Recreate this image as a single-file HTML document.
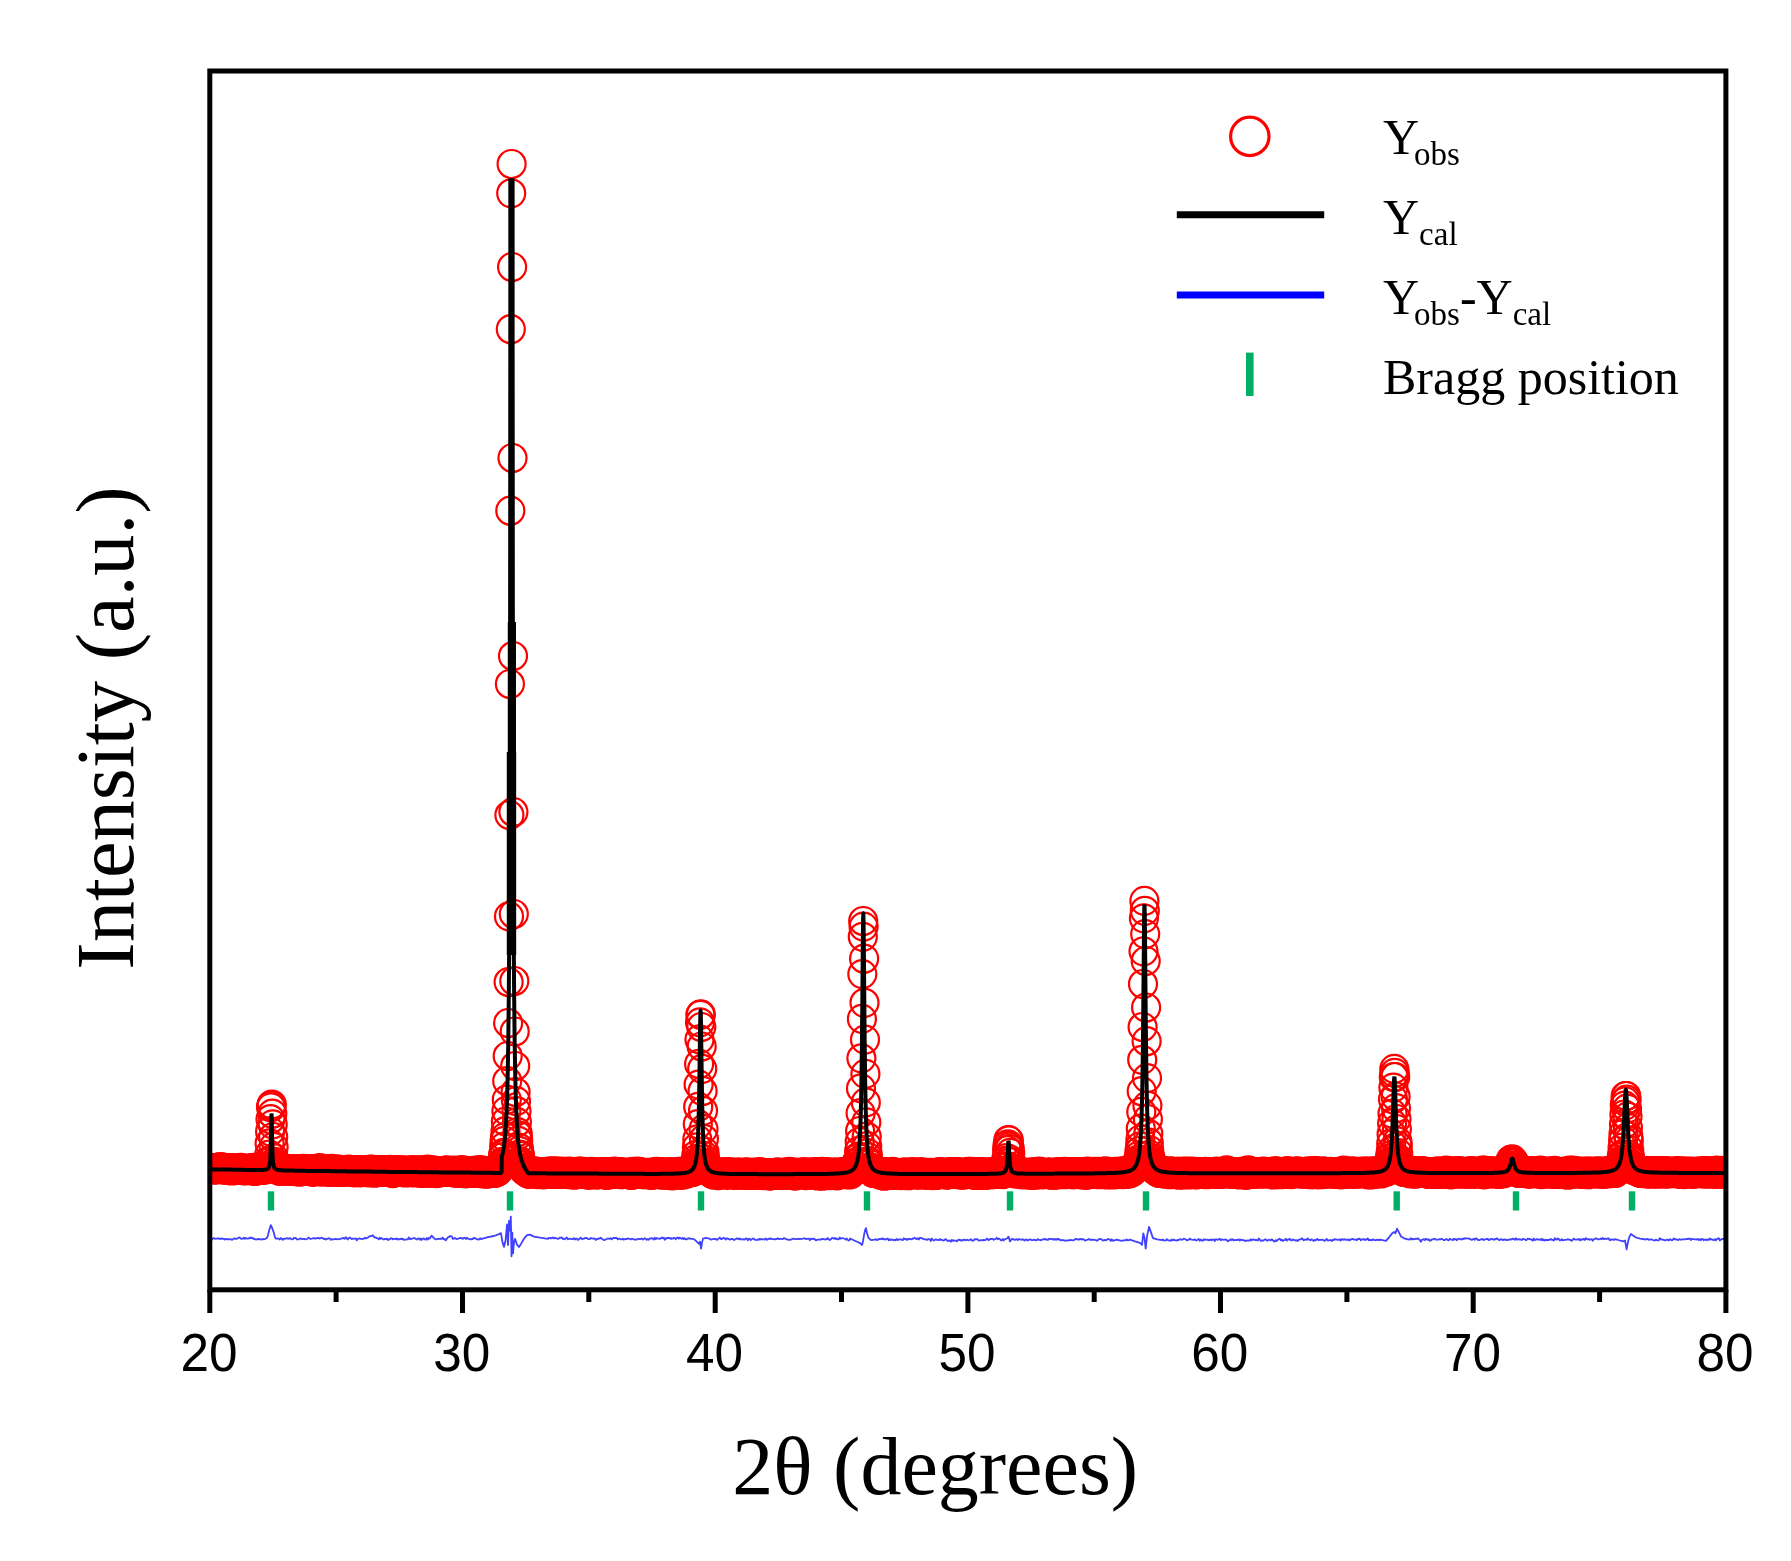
<!DOCTYPE html>
<html lang="en"><head><meta charset="utf-8"><title>XRD Rietveld refinement</title>
<style>
html,body{margin:0;padding:0;background:#fff;}
body{width:1791px;height:1561px;overflow:hidden;}
svg{display:block;filter:blur(0.55px);}
.sans{font-family:"Liberation Sans",Arial,sans-serif;}
.serif{font-family:"Liberation Serif","Times New Roman",serif;}
</style></head><body>
<svg width="1791" height="1561" viewBox="0 0 1791 1561">
<defs>
<marker id="o" markerUnits="userSpaceOnUse" markerWidth="34" markerHeight="34" refX="17" refY="17" overflow="visible"><circle cx="17" cy="17" r="14" fill="none" stroke="#ff0000" stroke-width="2.2"/></marker>
<clipPath id="cp"><rect x="209.8" y="71" width="1516.1000000000001" height="1218.8"/></clipPath>
</defs>
<rect width="1791" height="1561" fill="#fff"/>
<g clip-path="url(#cp)">
<polyline fill="none" stroke="none" marker-start="url(#o)" marker-mid="url(#o)" marker-end="url(#o)" points="209.8,1168.7 210.2,1168.9 210.7,1168.5 211.1,1168.1 211.6,1168.4 212.0,1168.1 212.4,1168.8 212.9,1169.7 213.3,1168.4 213.8,1168.3 214.2,1169.1 214.6,1169.0 215.1,1168.9 215.5,1168.2 216.0,1168.8 216.4,1169.3 216.8,1167.9 217.3,1168.5 217.7,1167.5 218.2,1167.9 218.6,1167.6 219.0,1168.7 219.5,1168.0 219.9,1169.1 220.4,1169.0 220.8,1168.8 221.2,1167.1 221.7,1168.5 222.1,1168.9 222.6,1169.0 223.0,1167.9 223.4,1168.6 223.9,1168.3 224.3,1168.4 224.8,1169.7 225.2,1168.4 225.6,1169.0 226.1,1169.6 226.5,1168.6 227.0,1168.9 227.4,1169.1 227.8,1169.1 228.3,1168.2 228.7,1169.1 229.2,1170.0 229.6,1168.0 230.0,1169.6 230.5,1169.1 230.9,1168.6 231.4,1170.5 231.8,1169.6 232.2,1168.2 232.7,1169.1 233.1,1169.5 233.6,1169.0 234.0,1169.6 234.4,1169.1 234.9,1169.6 235.3,1170.1 235.8,1168.7 236.2,1169.3 236.6,1168.8 237.1,1169.3 237.5,1168.3 238.0,1168.8 238.4,1169.0 238.8,1169.8 239.3,1170.0 239.7,1168.3 240.2,1168.7 240.6,1169.7 241.0,1167.8 241.5,1168.9 241.9,1169.2 242.4,1170.1 242.8,1169.7 243.2,1169.0 243.7,1169.0 244.1,1169.1 244.6,1170.4 245.0,1169.0 245.4,1169.1 245.9,1169.6 246.3,1169.2 246.8,1169.2 247.2,1168.5 247.6,1169.3 248.1,1169.0 248.5,1170.2 249.0,1169.8 249.4,1169.3 249.8,1169.8 250.3,1169.1 250.7,1170.1 251.2,1169.4 251.6,1169.8 252.0,1168.4 252.5,1169.6 252.9,1168.2 253.4,1167.9 253.8,1169.2 254.2,1168.7 254.7,1169.5 255.1,1171.0 255.6,1168.8 256.0,1168.9 256.4,1169.5 256.9,1169.8 257.3,1169.3 257.8,1169.2 258.2,1169.9 258.6,1169.8 259.1,1168.6 259.5,1169.3 260.0,1169.4 260.4,1168.5 260.8,1169.5 261.3,1168.6 261.7,1170.0 262.2,1169.4 262.6,1169.3 263.0,1168.7 263.5,1169.0 263.9,1167.5 264.4,1168.1 264.8,1169.2 265.2,1167.1 265.7,1169.4 266.1,1167.1 266.6,1169.0 267.0,1167.2 267.4,1168.0 267.9,1166.1 268.3,1162.1 268.8,1160.9 269.2,1154.7 269.6,1143.4 270.1,1131.4 270.5,1119.2 271.0,1107.3 271.4,1105.6 271.8,1104.5 272.3,1113.7 272.7,1124.4 273.2,1137.0 273.6,1146.9 274.0,1158.1 274.5,1161.8 274.9,1166.1 275.4,1166.9 275.8,1167.2 276.2,1168.0 276.7,1168.1 277.1,1168.8 277.6,1168.7 278.0,1168.8 278.4,1168.1 278.9,1168.6 279.3,1170.7 279.8,1168.9 280.2,1168.6 280.6,1169.8 281.1,1170.7 281.5,1168.5 282.0,1169.5 282.4,1169.2 282.8,1168.4 283.3,1170.3 283.7,1169.7 284.2,1169.8 284.6,1169.2 285.0,1170.2 285.5,1169.4 285.9,1169.8 286.4,1169.1 286.8,1169.0 287.2,1170.9 287.7,1169.6 288.1,1170.2 288.6,1169.9 289.0,1169.6 289.4,1169.6 289.9,1170.4 290.3,1169.8 290.8,1169.9 291.2,1170.0 291.6,1170.9 292.1,1170.5 292.5,1170.3 293.0,1169.7 293.4,1169.1 293.8,1170.8 294.3,1170.8 294.7,1170.0 295.2,1170.5 295.6,1170.7 296.0,1170.7 296.5,1170.8 296.9,1169.8 297.4,1171.2 297.8,1169.3 298.2,1170.8 298.7,1170.5 299.1,1170.8 299.6,1171.5 300.0,1171.2 300.4,1169.4 300.9,1169.0 301.3,1170.8 301.8,1169.5 302.2,1170.2 302.6,1170.8 303.1,1169.1 303.5,1168.8 304.0,1170.4 304.4,1170.3 304.8,1170.1 305.3,1170.3 305.7,1169.7 306.2,1169.2 306.6,1170.2 307.0,1169.6 307.5,1169.1 307.9,1170.6 308.4,1170.3 308.8,1170.6 309.2,1169.6 309.7,1169.9 310.1,1169.6 310.6,1169.7 311.0,1170.5 311.4,1169.8 311.9,1170.6 312.3,1170.6 312.8,1171.8 313.2,1169.4 313.6,1171.0 314.1,1170.3 314.5,1170.4 315.0,1169.4 315.4,1170.1 315.8,1170.9 316.3,1170.3 316.7,1170.5 317.2,1170.2 317.6,1171.2 318.0,1170.4 318.5,1168.9 318.9,1169.9 319.4,1169.1 319.8,1168.2 320.2,1170.1 320.7,1171.4 321.1,1170.5 321.6,1169.6 322.0,1169.8 322.4,1171.3 322.9,1170.6 323.3,1170.5 323.8,1170.4 324.2,1170.5 324.6,1171.1 325.1,1170.9 325.5,1170.7 326.0,1169.8 326.4,1170.9 326.8,1170.0 327.3,1171.3 327.7,1169.6 328.2,1170.4 328.6,1170.5 329.0,1169.6 329.5,1171.8 329.9,1171.6 330.4,1170.2 330.8,1171.1 331.2,1170.8 331.7,1168.8 332.1,1170.8 332.6,1170.5 333.0,1170.7 333.4,1169.8 333.9,1170.4 334.3,1170.5 334.8,1171.4 335.2,1170.9 335.6,1170.6 336.1,1171.7 336.5,1170.2 337.0,1170.4 337.4,1169.4 337.8,1171.8 338.3,1171.3 338.7,1171.3 339.2,1171.1 339.6,1170.8 340.0,1170.8 340.5,1170.5 340.9,1170.5 341.4,1170.7 341.8,1171.8 342.2,1171.1 342.7,1170.7 343.1,1170.3 343.6,1170.3 344.0,1171.8 344.4,1171.1 344.9,1170.8 345.3,1170.5 345.8,1170.0 346.2,1170.7 346.6,1171.4 347.1,1170.5 347.5,1170.6 348.0,1170.6 348.4,1170.9 348.8,1169.7 349.3,1170.6 349.7,1170.2 350.2,1171.4 350.6,1170.3 351.0,1171.2 351.5,1171.9 351.9,1170.6 352.4,1170.4 352.8,1171.0 353.2,1170.8 353.7,1170.1 354.1,1171.2 354.6,1172.3 355.0,1170.7 355.4,1170.7 355.9,1170.1 356.3,1171.1 356.8,1170.0 357.2,1170.1 357.6,1171.8 358.1,1170.3 358.5,1171.7 359.0,1172.0 359.4,1171.1 359.8,1171.3 360.3,1172.3 360.7,1170.8 361.2,1170.5 361.6,1170.0 362.0,1171.0 362.5,1172.0 362.9,1171.6 363.4,1170.3 363.8,1170.4 364.2,1170.6 364.7,1171.2 365.1,1170.8 365.6,1171.1 366.0,1171.2 366.4,1170.8 366.9,1171.0 367.3,1171.2 367.8,1171.0 368.2,1171.4 368.6,1172.3 369.1,1171.4 369.5,1171.1 370.0,1169.9 370.4,1171.3 370.8,1169.7 371.3,1170.1 371.7,1171.7 372.2,1171.6 372.6,1171.0 373.0,1169.9 373.5,1170.8 373.9,1170.6 374.4,1171.5 374.8,1172.7 375.2,1171.3 375.7,1170.6 376.1,1170.3 376.6,1171.1 377.0,1171.0 377.4,1170.3 377.9,1171.2 378.3,1170.3 378.8,1171.9 379.2,1171.9 379.6,1171.9 380.1,1170.8 380.5,1171.5 381.0,1171.1 381.4,1170.9 381.8,1170.9 382.3,1170.3 382.7,1170.2 383.2,1171.8 383.6,1171.1 384.0,1171.4 384.5,1171.9 384.9,1170.0 385.4,1170.7 385.8,1171.4 386.2,1171.5 386.7,1171.0 387.1,1172.0 387.6,1171.4 388.0,1170.4 388.4,1170.6 388.9,1171.8 389.3,1171.6 389.8,1169.9 390.2,1172.2 390.6,1171.7 391.1,1172.2 391.5,1171.0 392.0,1171.1 392.4,1170.5 392.8,1173.1 393.3,1171.2 393.7,1172.4 394.2,1170.9 394.6,1171.4 395.0,1170.2 395.5,1171.1 395.9,1172.0 396.4,1170.5 396.8,1172.1 397.2,1171.6 397.7,1170.6 398.1,1171.0 398.6,1171.1 399.0,1171.4 399.4,1171.0 399.9,1170.8 400.3,1171.2 400.8,1170.7 401.2,1170.5 401.6,1171.4 402.1,1172.0 402.5,1170.4 403.0,1171.4 403.4,1171.0 403.8,1170.8 404.3,1172.0 404.7,1171.1 405.2,1172.5 405.6,1170.9 406.0,1171.7 406.5,1171.3 406.9,1170.9 407.4,1171.9 407.8,1171.4 408.2,1171.9 408.7,1171.4 409.1,1170.7 409.6,1171.4 410.0,1171.5 410.4,1172.2 410.9,1170.9 411.3,1171.5 411.8,1170.3 412.2,1172.0 412.6,1170.8 413.1,1170.3 413.5,1171.5 414.0,1172.3 414.4,1170.5 414.8,1170.8 415.3,1171.0 415.7,1170.8 416.2,1171.8 416.6,1171.0 417.0,1171.1 417.5,1172.0 417.9,1171.0 418.4,1171.9 418.8,1170.9 419.2,1170.7 419.7,1170.3 420.1,1172.9 420.6,1171.4 421.0,1171.8 421.4,1171.6 421.9,1171.7 422.3,1171.6 422.8,1172.9 423.2,1170.9 423.6,1170.5 424.1,1170.9 424.5,1170.7 425.0,1172.2 425.4,1172.2 425.8,1171.0 426.3,1170.7 426.7,1171.4 427.2,1172.6 427.6,1169.7 428.0,1172.0 428.5,1170.9 428.9,1172.4 429.4,1170.9 429.8,1171.5 430.2,1170.6 430.7,1171.0 431.1,1172.7 431.6,1172.3 432.0,1171.4 432.4,1171.1 432.9,1170.4 433.3,1171.4 433.8,1171.7 434.2,1171.7 434.6,1171.7 435.1,1170.9 435.5,1171.7 436.0,1171.7 436.4,1172.6 436.8,1173.1 437.3,1171.7 437.7,1171.2 438.2,1171.7 438.6,1171.3 439.0,1171.2 439.5,1171.7 439.9,1171.0 440.4,1172.2 440.8,1171.7 441.2,1172.0 441.7,1171.7 442.1,1171.3 442.6,1171.1 443.0,1171.6 443.4,1171.4 443.9,1172.0 444.3,1171.8 444.8,1170.9 445.2,1171.9 445.6,1170.9 446.1,1171.4 446.5,1171.6 447.0,1170.4 447.4,1171.9 447.8,1172.0 448.3,1171.7 448.7,1171.6 449.2,1171.6 449.6,1171.2 450.0,1171.7 450.5,1171.5 450.9,1171.9 451.4,1171.0 451.8,1172.0 452.2,1172.0 452.7,1171.8 453.1,1171.6 453.6,1172.3 454.0,1170.7 454.4,1172.2 454.9,1172.1 455.3,1172.1 455.8,1172.2 456.2,1171.5 456.6,1171.7 457.1,1172.4 457.5,1172.2 458.0,1172.1 458.4,1170.9 458.8,1172.3 459.3,1172.8 459.7,1172.7 460.2,1172.1 460.6,1170.9 461.0,1172.6 461.5,1171.9 461.9,1170.2 462.4,1172.2 462.8,1170.9 463.2,1171.1 463.7,1171.5 464.1,1172.9 464.6,1171.7 465.0,1172.2 465.4,1173.2 465.9,1173.1 466.3,1171.9 466.8,1171.9 467.2,1171.1 467.6,1171.5 468.1,1172.3 468.5,1172.3 469.0,1172.1 469.4,1172.7 469.8,1171.5 470.3,1172.0 470.7,1172.6 471.2,1172.5 471.6,1172.8 472.0,1172.4 472.5,1171.9 472.9,1172.3 473.4,1171.4 473.8,1170.9 474.2,1172.5 474.7,1172.1 475.1,1172.3 475.6,1170.9 476.0,1171.9 476.4,1171.7 476.9,1171.5 477.3,1170.5 477.8,1171.9 478.2,1172.8 478.6,1172.4 479.1,1171.7 479.5,1172.1 480.0,1172.7 480.4,1170.2 480.8,1172.1 481.3,1172.5 481.7,1172.6 482.2,1173.4 482.6,1173.0 483.0,1172.4 483.5,1172.4 483.9,1172.7 484.4,1171.8 484.8,1172.2 485.2,1172.8 485.7,1173.6 486.1,1172.1 486.6,1172.2 487.0,1172.4 487.4,1173.2 487.9,1172.2 488.3,1173.3 488.8,1171.5 489.2,1172.1 489.6,1172.1 490.1,1172.8 490.5,1173.0 491.0,1171.1 491.4,1171.6 491.8,1172.5 492.3,1171.7 492.7,1171.1 493.2,1172.9 493.6,1172.5 494.0,1172.5 494.5,1171.7 494.9,1172.8 495.4,1171.7 495.8,1172.6 496.2,1170.9 496.7,1170.7 497.1,1171.4 497.6,1170.3 498.0,1171.2 498.4,1170.4 498.9,1168.8 499.3,1169.1 499.8,1167.9 500.2,1168.2 500.6,1165.6 501.1,1164.5 501.5,1164.7 502.0,1164.2 502.4,1161.9 502.8,1157.2 503.3,1154.5 503.7,1152.8 504.2,1146.7 504.6,1140.9 505.0,1137.1 505.5,1131.2 505.9,1121.5 506.4,1110.9 506.8,1099.7 507.2,1081.0 507.7,1056.0 508.1,1023.0 508.6,982.0 509.0,916.4 509.4,815.0 509.9,684.0 510.3,510.7 510.8,329.2 511.2,193.3 511.6,164.0 512.1,267.0 512.5,458.0 513.0,656.0 513.4,812.0 513.8,914.0 514.3,981.0 514.7,1031.5 515.2,1066.0 515.6,1092.0 516.0,1101.1 516.5,1111.2 516.9,1122.2 517.4,1132.2 517.8,1135.3 518.2,1140.8 518.7,1147.7 519.1,1150.8 519.6,1154.5 520.0,1156.0 520.4,1161.4 520.9,1163.3 521.3,1163.8 521.8,1165.5 522.2,1164.1 522.6,1167.9 523.1,1168.1 523.5,1169.5 524.0,1170.3 524.4,1170.0 524.8,1169.2 525.3,1171.4 525.7,1170.8 526.2,1171.4 526.6,1171.4 527.0,1171.8 527.5,1170.3 527.9,1173.2 528.4,1172.5 528.8,1173.3 529.2,1173.9 529.7,1172.5 530.1,1171.2 530.6,1171.9 531.0,1171.7 531.4,1172.2 531.9,1172.7 532.3,1171.2 532.8,1172.9 533.2,1171.6 533.6,1172.9 534.1,1172.6 534.5,1172.4 535.0,1172.6 535.4,1172.3 535.8,1172.2 536.3,1171.5 536.7,1172.7 537.2,1174.0 537.6,1174.1 538.0,1173.6 538.5,1173.2 538.9,1172.2 539.4,1173.7 539.8,1172.7 540.2,1172.7 540.7,1172.5 541.1,1172.8 541.6,1172.4 542.0,1172.7 542.4,1172.0 542.9,1172.5 543.3,1174.3 543.8,1172.7 544.2,1172.6 544.6,1173.1 545.1,1173.2 545.5,1172.0 546.0,1172.6 546.4,1173.4 546.8,1173.0 547.3,1172.9 547.7,1173.9 548.2,1172.3 548.6,1172.8 549.0,1172.4 549.5,1173.8 549.9,1171.4 550.4,1172.3 550.8,1172.4 551.2,1173.3 551.7,1173.2 552.1,1173.8 552.6,1171.7 553.0,1173.3 553.4,1172.6 553.9,1172.4 554.3,1173.2 554.8,1172.2 555.2,1171.4 555.6,1172.6 556.1,1171.8 556.5,1172.4 557.0,1173.1 557.4,1173.1 557.8,1174.0 558.3,1172.7 558.7,1171.8 559.2,1172.3 559.6,1172.2 560.0,1172.0 560.5,1173.2 560.9,1172.4 561.4,1171.5 561.8,1173.4 562.2,1172.8 562.7,1173.1 563.1,1173.0 563.6,1173.3 564.0,1172.9 564.4,1173.8 564.9,1173.2 565.3,1173.2 565.8,1173.2 566.2,1171.9 566.6,1172.8 567.1,1172.7 567.5,1173.1 568.0,1172.0 568.4,1174.1 568.8,1173.0 569.3,1172.1 569.7,1171.7 570.2,1172.7 570.6,1172.9 571.0,1172.4 571.5,1173.0 571.9,1172.5 572.4,1173.3 572.8,1172.4 573.2,1172.9 573.7,1173.6 574.1,1174.7 574.6,1172.2 575.0,1172.6 575.4,1172.4 575.9,1173.5 576.3,1172.2 576.8,1172.6 577.2,1172.9 577.6,1172.3 578.1,1172.3 578.5,1172.6 579.0,1171.5 579.4,1172.0 579.8,1172.7 580.3,1173.1 580.7,1172.9 581.2,1171.7 581.6,1172.7 582.0,1173.6 582.5,1173.4 582.9,1172.9 583.4,1172.4 583.8,1173.4 584.2,1172.6 584.7,1172.2 585.1,1172.4 585.6,1174.0 586.0,1173.2 586.4,1173.8 586.9,1172.7 587.3,1173.7 587.8,1172.6 588.2,1172.9 588.6,1174.8 589.1,1173.6 589.5,1172.7 590.0,1173.0 590.4,1173.3 590.8,1173.9 591.3,1172.7 591.7,1171.8 592.2,1172.9 592.6,1173.1 593.0,1173.1 593.5,1174.0 593.9,1173.3 594.4,1173.6 594.8,1172.3 595.2,1173.7 595.7,1174.5 596.1,1173.6 596.6,1173.3 597.0,1173.2 597.4,1174.3 597.9,1172.4 598.3,1173.0 598.8,1173.4 599.2,1173.6 599.6,1172.8 600.1,1173.3 600.5,1172.9 601.0,1173.2 601.4,1173.0 601.8,1172.3 602.3,1173.1 602.7,1173.7 603.2,1172.4 603.6,1173.0 604.0,1173.6 604.5,1172.4 604.9,1173.3 605.4,1172.4 605.8,1173.9 606.2,1174.8 606.7,1174.6 607.1,1173.0 607.6,1173.7 608.0,1173.2 608.4,1173.2 608.9,1174.2 609.3,1172.2 609.8,1173.9 610.2,1173.1 610.6,1174.1 611.1,1173.3 611.5,1172.7 612.0,1173.4 612.4,1173.7 612.8,1173.2 613.3,1173.5 613.7,1172.8 614.2,1171.7 614.6,1173.8 615.0,1173.7 615.5,1173.3 615.9,1173.2 616.4,1173.9 616.8,1172.9 617.2,1172.7 617.7,1173.1 618.1,1174.0 618.6,1172.2 619.0,1174.0 619.4,1172.8 619.9,1172.4 620.3,1174.1 620.8,1173.2 621.2,1172.3 621.6,1173.0 622.1,1173.9 622.5,1174.1 623.0,1172.9 623.4,1173.5 623.8,1173.7 624.3,1172.8 624.7,1173.5 625.2,1173.2 625.6,1172.9 626.0,1172.9 626.5,1173.3 626.9,1173.3 627.4,1172.9 627.8,1173.0 628.2,1174.0 628.7,1173.4 629.1,1173.9 629.6,1174.1 630.0,1173.7 630.4,1174.9 630.9,1172.7 631.3,1173.9 631.8,1173.1 632.2,1174.6 632.6,1174.5 633.1,1171.9 633.5,1172.6 634.0,1173.8 634.4,1173.9 634.8,1173.8 635.3,1173.3 635.7,1173.6 636.2,1173.8 636.6,1173.3 637.0,1174.0 637.5,1171.7 637.9,1173.8 638.4,1172.6 638.8,1174.0 639.2,1173.2 639.7,1172.7 640.1,1173.6 640.6,1172.7 641.0,1172.7 641.4,1172.3 641.9,1173.3 642.3,1173.7 642.8,1174.1 643.2,1173.3 643.6,1174.1 644.1,1173.4 644.5,1173.3 645.0,1173.8 645.4,1174.1 645.8,1173.1 646.3,1173.2 646.7,1173.3 647.2,1173.4 647.6,1172.8 648.0,1174.1 648.5,1173.1 648.9,1173.7 649.4,1172.8 649.8,1173.7 650.2,1173.7 650.7,1173.1 651.1,1174.8 651.6,1173.7 652.0,1174.7 652.4,1174.1 652.9,1173.0 653.3,1173.2 653.8,1173.7 654.2,1173.5 654.6,1173.5 655.1,1173.2 655.5,1172.2 656.0,1173.3 656.4,1171.9 656.8,1173.7 657.3,1172.9 657.7,1172.9 658.2,1173.3 658.6,1173.6 659.0,1172.4 659.5,1172.2 659.9,1172.7 660.4,1172.0 660.8,1172.8 661.2,1174.6 661.7,1172.7 662.1,1173.9 662.6,1172.5 663.0,1173.7 663.4,1173.3 663.9,1173.4 664.3,1173.9 664.8,1174.7 665.2,1173.6 665.6,1173.6 666.1,1172.8 666.5,1173.9 667.0,1173.3 667.4,1174.1 667.8,1173.5 668.3,1174.7 668.7,1172.1 669.2,1173.3 669.6,1174.1 670.0,1173.3 670.5,1172.9 670.9,1173.3 671.4,1172.5 671.8,1173.6 672.2,1175.3 672.7,1174.3 673.1,1172.7 673.6,1172.9 674.0,1173.2 674.4,1174.2 674.9,1172.9 675.3,1173.0 675.8,1174.1 676.2,1174.1 676.6,1173.2 677.1,1172.6 677.5,1172.3 678.0,1172.9 678.4,1171.8 678.8,1174.0 679.3,1172.9 679.7,1173.8 680.2,1174.8 680.6,1174.2 681.0,1172.5 681.5,1174.0 681.9,1174.2 682.4,1172.7 682.8,1172.5 683.2,1173.1 683.7,1171.9 684.1,1174.3 684.6,1171.1 685.0,1172.1 685.4,1172.7 685.9,1172.7 686.3,1172.9 686.8,1172.9 687.2,1172.4 687.6,1173.4 688.1,1170.5 688.5,1172.2 689.0,1171.5 689.4,1172.0 689.8,1171.9 690.3,1170.7 690.7,1170.7 691.2,1171.7 691.6,1171.0 692.0,1169.7 692.5,1171.9 692.9,1171.7 693.4,1167.5 693.8,1168.6 694.2,1170.1 694.7,1167.2 695.1,1165.2 695.6,1162.6 696.0,1159.1 696.4,1154.8 696.9,1147.4 697.3,1139.4 697.8,1124.2 698.2,1106.8 698.6,1084.6 699.1,1063.9 699.5,1039.4 700.0,1022.3 700.4,1014.8 700.8,1014.4 701.3,1027.0 701.7,1046.5 702.2,1068.8 702.6,1091.0 703.0,1110.8 703.5,1129.1 703.9,1139.0 704.4,1151.6 704.8,1156.2 705.2,1159.6 705.7,1162.8 706.1,1164.6 706.6,1166.9 707.0,1167.0 707.4,1169.6 707.9,1168.4 708.3,1167.5 708.8,1169.4 709.2,1168.6 709.6,1170.8 710.1,1172.1 710.5,1172.0 711.0,1170.4 711.4,1171.2 711.8,1173.6 712.3,1172.5 712.7,1172.3 713.2,1173.3 713.6,1174.6 714.0,1173.8 714.5,1172.9 714.9,1173.2 715.4,1173.4 715.8,1172.5 716.2,1172.2 716.7,1173.2 717.1,1172.4 717.6,1173.2 718.0,1173.4 718.4,1175.1 718.9,1172.7 719.3,1173.3 719.8,1173.3 720.2,1173.8 720.6,1174.3 721.1,1173.1 721.5,1172.9 722.0,1172.3 722.4,1172.9 722.8,1174.0 723.3,1173.6 723.7,1172.8 724.2,1173.3 724.6,1173.6 725.0,1174.0 725.5,1173.2 725.9,1173.5 726.4,1172.3 726.8,1172.8 727.2,1174.8 727.7,1172.1 728.1,1173.4 728.6,1173.8 729.0,1173.4 729.4,1173.1 729.9,1173.6 730.3,1173.7 730.8,1173.6 731.2,1172.3 731.6,1173.6 732.1,1173.1 732.5,1173.3 733.0,1173.9 733.4,1174.1 733.8,1174.3 734.3,1173.3 734.7,1174.4 735.2,1174.5 735.6,1174.5 736.0,1174.7 736.5,1173.6 736.9,1173.6 737.4,1174.3 737.8,1172.7 738.2,1173.8 738.7,1173.3 739.1,1173.4 739.6,1172.5 740.0,1173.1 740.4,1173.7 740.9,1174.3 741.3,1174.4 741.8,1173.6 742.2,1173.6 742.6,1173.1 743.1,1174.0 743.5,1173.5 744.0,1174.1 744.4,1174.9 744.8,1173.7 745.3,1172.6 745.7,1173.1 746.2,1172.7 746.6,1172.9 747.0,1174.6 747.5,1173.9 747.9,1172.6 748.4,1174.2 748.8,1174.6 749.2,1173.4 749.7,1173.2 750.1,1173.5 750.6,1173.9 751.0,1174.1 751.4,1174.5 751.9,1174.5 752.3,1174.5 752.8,1174.7 753.2,1174.2 753.6,1172.6 754.1,1173.6 754.5,1173.9 755.0,1173.4 755.4,1174.3 755.8,1173.4 756.3,1173.1 756.7,1174.7 757.2,1174.2 757.6,1173.9 758.0,1174.3 758.5,1174.4 758.9,1173.9 759.4,1172.0 759.8,1173.2 760.2,1173.4 760.7,1173.0 761.1,1173.8 761.6,1174.5 762.0,1173.4 762.4,1172.9 762.9,1175.1 763.3,1173.4 763.8,1172.8 764.2,1173.9 764.6,1174.0 765.1,1173.2 765.5,1174.3 766.0,1173.4 766.4,1173.1 766.8,1173.8 767.3,1174.2 767.7,1173.3 768.2,1173.9 768.6,1173.6 769.0,1175.7 769.5,1173.2 769.9,1174.7 770.4,1173.7 770.8,1173.6 771.2,1174.2 771.7,1174.3 772.1,1174.6 772.6,1173.9 773.0,1173.3 773.4,1173.3 773.9,1174.1 774.3,1174.1 774.8,1174.7 775.2,1174.0 775.6,1174.4 776.1,1174.8 776.5,1173.8 777.0,1172.7 777.4,1172.9 777.8,1172.7 778.3,1174.8 778.7,1173.1 779.2,1174.6 779.6,1174.1 780.0,1174.9 780.5,1174.4 780.9,1173.6 781.4,1173.6 781.8,1173.8 782.2,1173.8 782.7,1173.3 783.1,1173.7 783.6,1174.8 784.0,1172.5 784.4,1173.9 784.9,1173.1 785.3,1173.8 785.8,1174.3 786.2,1173.7 786.6,1174.2 787.1,1172.6 787.5,1174.5 788.0,1173.3 788.4,1174.1 788.8,1173.8 789.3,1171.9 789.7,1173.2 790.2,1173.9 790.6,1174.8 791.0,1173.9 791.5,1173.9 791.9,1172.7 792.4,1174.7 792.8,1175.0 793.2,1173.7 793.7,1173.5 794.1,1172.6 794.6,1174.3 795.0,1175.6 795.4,1174.2 795.9,1174.6 796.3,1174.1 796.8,1173.0 797.2,1174.6 797.6,1172.8 798.1,1173.6 798.5,1173.9 799.0,1174.3 799.4,1174.0 799.8,1174.0 800.3,1173.2 800.7,1172.8 801.2,1173.7 801.6,1173.2 802.0,1172.8 802.5,1172.8 802.9,1173.4 803.4,1172.4 803.8,1172.8 804.2,1172.6 804.7,1173.8 805.1,1174.0 805.6,1175.1 806.0,1172.7 806.4,1173.2 806.9,1174.3 807.3,1173.5 807.8,1173.5 808.2,1174.9 808.6,1173.5 809.1,1172.9 809.5,1172.8 810.0,1173.9 810.4,1173.9 810.8,1172.7 811.3,1173.0 811.7,1174.1 812.2,1174.1 812.6,1173.2 813.0,1174.1 813.5,1174.1 813.9,1172.5 814.4,1173.5 814.8,1174.0 815.2,1173.3 815.7,1172.2 816.1,1173.5 816.6,1174.2 817.0,1174.8 817.4,1172.2 817.9,1175.5 818.3,1172.9 818.8,1174.4 819.2,1174.6 819.6,1174.4 820.1,1173.8 820.5,1172.9 821.0,1174.1 821.4,1173.2 821.8,1171.9 822.3,1175.7 822.7,1174.2 823.2,1175.0 823.6,1173.1 824.0,1174.7 824.5,1174.8 824.9,1174.8 825.4,1173.7 825.8,1172.8 826.2,1173.6 826.7,1172.1 827.1,1172.5 827.6,1173.8 828.0,1173.0 828.4,1173.6 828.9,1173.6 829.3,1175.1 829.8,1174.6 830.2,1173.7 830.6,1174.6 831.1,1173.1 831.5,1173.4 832.0,1174.3 832.4,1172.8 832.8,1173.5 833.3,1172.7 833.7,1173.8 834.2,1174.8 834.6,1173.1 835.0,1173.8 835.5,1173.0 835.9,1172.8 836.4,1172.7 836.8,1174.7 837.2,1175.4 837.7,1174.0 838.1,1173.1 838.6,1174.1 839.0,1173.3 839.4,1174.2 839.9,1173.8 840.3,1173.8 840.8,1174.0 841.2,1173.1 841.6,1173.2 842.1,1172.1 842.5,1173.1 843.0,1172.3 843.4,1173.3 843.8,1172.6 844.3,1173.4 844.7,1173.6 845.2,1172.1 845.6,1172.5 846.0,1172.3 846.5,1173.6 846.9,1174.3 847.4,1173.6 847.8,1172.5 848.2,1173.9 848.7,1171.3 849.1,1173.7 849.6,1171.8 850.0,1169.8 850.4,1174.3 850.9,1173.2 851.3,1170.7 851.8,1171.6 852.2,1171.0 852.6,1171.0 853.1,1169.2 853.5,1169.6 854.0,1170.3 854.4,1169.6 854.8,1170.0 855.3,1168.3 855.7,1170.0 856.2,1166.0 856.6,1166.1 857.0,1162.5 857.5,1161.8 857.9,1163.0 858.4,1158.0 858.8,1156.5 859.2,1150.8 859.7,1141.8 860.1,1131.0 860.6,1113.2 861.0,1088.4 861.4,1058.3 861.9,1018.9 862.3,974.1 862.8,936.8 863.2,921.0 863.6,926.6 864.1,958.7 864.5,1002.8 865.0,1039.6 865.4,1073.9 865.8,1102.4 866.3,1122.3 866.7,1136.7 867.2,1146.1 867.6,1153.1 868.0,1157.1 868.5,1161.2 868.9,1161.9 869.4,1163.8 869.8,1163.9 870.2,1168.0 870.7,1167.7 871.1,1169.7 871.6,1169.4 872.0,1170.6 872.4,1169.4 872.9,1170.7 873.3,1173.0 873.8,1169.6 874.2,1172.1 874.6,1172.8 875.1,1171.9 875.5,1172.4 876.0,1173.1 876.4,1171.5 876.8,1172.6 877.3,1171.6 877.7,1171.9 878.2,1172.1 878.6,1172.6 879.0,1172.9 879.5,1173.3 879.9,1171.8 880.4,1174.7 880.8,1174.1 881.2,1173.8 881.7,1172.9 882.1,1173.2 882.6,1173.7 883.0,1173.7 883.4,1172.1 883.9,1174.0 884.3,1175.7 884.8,1172.0 885.2,1174.3 885.6,1173.8 886.1,1173.4 886.5,1174.6 887.0,1172.7 887.4,1173.7 887.8,1174.7 888.3,1173.5 888.7,1173.3 889.2,1173.7 889.6,1173.3 890.0,1174.8 890.5,1173.0 890.9,1174.3 891.4,1172.7 891.8,1174.2 892.2,1173.6 892.7,1171.8 893.1,1173.7 893.6,1172.9 894.0,1173.4 894.4,1174.8 894.9,1172.9 895.3,1172.9 895.8,1174.7 896.2,1173.8 896.6,1174.8 897.1,1173.9 897.5,1173.0 898.0,1173.6 898.4,1174.6 898.8,1174.4 899.3,1173.7 899.7,1173.7 900.2,1173.6 900.6,1173.3 901.0,1175.1 901.5,1173.7 901.9,1172.9 902.4,1173.3 902.8,1174.2 903.2,1174.2 903.7,1173.6 904.1,1173.2 904.6,1173.7 905.0,1172.5 905.4,1172.7 905.9,1174.3 906.3,1173.3 906.8,1173.9 907.2,1174.6 907.6,1174.1 908.1,1173.7 908.5,1175.2 909.0,1174.1 909.4,1173.4 909.8,1174.2 910.3,1174.0 910.7,1173.0 911.2,1173.7 911.6,1173.5 912.0,1172.2 912.5,1173.5 912.9,1173.5 913.4,1173.3 913.8,1172.5 914.2,1173.4 914.7,1173.6 915.1,1173.7 915.6,1172.8 916.0,1174.1 916.4,1172.8 916.9,1173.5 917.3,1174.6 917.8,1173.1 918.2,1173.3 918.6,1174.4 919.1,1173.4 919.5,1173.4 920.0,1173.8 920.4,1174.4 920.8,1172.0 921.3,1173.0 921.7,1172.9 922.2,1172.8 922.6,1173.0 923.0,1173.0 923.5,1173.8 923.9,1173.0 924.4,1173.7 924.8,1173.9 925.2,1173.1 925.7,1173.7 926.1,1174.8 926.6,1173.8 927.0,1173.1 927.4,1173.6 927.9,1172.9 928.3,1173.8 928.8,1174.2 929.2,1173.0 929.6,1173.4 930.1,1174.4 930.5,1173.2 931.0,1173.7 931.4,1172.9 931.8,1173.0 932.3,1173.2 932.7,1175.1 933.2,1173.3 933.6,1173.2 934.0,1173.2 934.5,1173.5 934.9,1174.0 935.4,1173.7 935.8,1175.0 936.2,1173.7 936.7,1174.6 937.1,1173.8 937.6,1174.0 938.0,1172.6 938.4,1173.5 938.9,1173.5 939.3,1173.4 939.8,1172.1 940.2,1174.2 940.6,1173.3 941.1,1173.2 941.5,1173.4 942.0,1173.4 942.4,1173.8 942.8,1172.7 943.3,1172.9 943.7,1173.8 944.2,1173.6 944.6,1173.3 945.0,1173.1 945.5,1173.0 945.9,1173.5 946.4,1174.4 946.8,1172.8 947.2,1174.6 947.7,1174.1 948.1,1173.2 948.6,1174.1 949.0,1172.5 949.4,1172.3 949.9,1172.6 950.3,1173.2 950.8,1173.3 951.2,1173.2 951.6,1173.6 952.1,1172.0 952.5,1173.9 953.0,1172.5 953.4,1173.1 953.8,1173.2 954.3,1172.7 954.7,1172.5 955.2,1172.8 955.6,1173.5 956.0,1173.9 956.5,1173.9 956.9,1172.8 957.4,1172.9 957.8,1172.9 958.2,1173.8 958.7,1172.1 959.1,1174.4 959.6,1173.2 960.0,1172.9 960.4,1173.7 960.9,1174.2 961.3,1173.7 961.8,1174.2 962.2,1173.6 962.6,1174.3 963.1,1174.4 963.5,1173.4 964.0,1174.5 964.4,1173.6 964.8,1173.5 965.3,1172.8 965.7,1173.3 966.2,1174.0 966.6,1172.5 967.0,1173.9 967.5,1173.7 967.9,1173.7 968.4,1171.9 968.8,1173.4 969.2,1173.9 969.7,1172.9 970.1,1173.5 970.6,1171.8 971.0,1173.9 971.4,1173.0 971.9,1174.1 972.3,1172.2 972.8,1173.9 973.2,1173.3 973.6,1174.0 974.1,1172.8 974.5,1173.0 975.0,1175.0 975.4,1172.9 975.8,1172.9 976.3,1173.2 976.7,1172.7 977.2,1174.3 977.6,1174.6 978.0,1172.9 978.5,1172.2 978.9,1174.2 979.4,1174.2 979.8,1174.0 980.2,1174.2 980.7,1172.8 981.1,1173.3 981.6,1172.4 982.0,1172.4 982.4,1174.1 982.9,1172.9 983.3,1175.0 983.8,1173.5 984.2,1172.9 984.6,1174.0 985.1,1174.7 985.5,1173.7 986.0,1172.5 986.4,1173.7 986.8,1174.4 987.3,1173.0 987.7,1172.8 988.2,1174.1 988.6,1173.5 989.0,1172.6 989.5,1173.1 989.9,1172.8 990.4,1173.6 990.8,1173.4 991.2,1174.2 991.7,1173.9 992.1,1172.2 992.6,1173.6 993.0,1174.0 993.4,1173.6 993.9,1174.1 994.3,1172.9 994.8,1172.6 995.2,1174.0 995.6,1172.5 996.1,1171.6 996.5,1174.0 997.0,1172.7 997.4,1173.0 997.8,1172.1 998.3,1172.2 998.7,1172.3 999.2,1172.8 999.6,1173.4 1000.0,1171.3 1000.5,1173.6 1000.9,1172.1 1001.4,1172.1 1001.8,1173.4 1002.2,1172.7 1002.7,1171.5 1003.1,1174.1 1003.6,1171.6 1004.0,1172.1 1004.4,1171.4 1004.9,1171.4 1005.3,1167.7 1005.8,1166.4 1006.2,1160.6 1006.6,1158.0 1007.1,1150.1 1007.5,1145.3 1008.0,1144.3 1008.4,1140.0 1008.8,1140.4 1009.3,1146.6 1009.7,1148.9 1010.2,1152.9 1010.6,1160.0 1011.0,1162.2 1011.5,1168.0 1011.9,1170.4 1012.4,1170.2 1012.8,1171.0 1013.2,1172.3 1013.7,1172.4 1014.1,1171.8 1014.6,1173.2 1015.0,1171.2 1015.4,1172.5 1015.9,1172.6 1016.3,1172.7 1016.8,1173.2 1017.2,1172.1 1017.6,1173.5 1018.1,1172.9 1018.5,1172.6 1019.0,1172.1 1019.4,1172.2 1019.8,1173.4 1020.3,1172.4 1020.7,1173.2 1021.2,1174.0 1021.6,1173.9 1022.0,1174.3 1022.5,1173.0 1022.9,1172.4 1023.4,1174.0 1023.8,1173.4 1024.2,1174.0 1024.7,1173.2 1025.1,1174.1 1025.6,1173.8 1026.0,1173.7 1026.4,1173.6 1026.9,1173.5 1027.3,1173.4 1027.8,1173.4 1028.2,1173.9 1028.6,1172.9 1029.1,1174.5 1029.5,1173.2 1030.0,1173.9 1030.4,1173.2 1030.8,1173.1 1031.3,1174.7 1031.7,1173.0 1032.2,1172.3 1032.6,1172.7 1033.0,1173.0 1033.5,1174.8 1033.9,1173.4 1034.4,1173.9 1034.8,1172.5 1035.2,1173.5 1035.7,1173.7 1036.1,1174.5 1036.6,1172.7 1037.0,1173.6 1037.4,1173.4 1037.9,1172.5 1038.3,1173.2 1038.8,1173.0 1039.2,1171.6 1039.6,1173.6 1040.1,1173.6 1040.5,1172.9 1041.0,1172.3 1041.4,1174.2 1041.8,1173.4 1042.3,1173.9 1042.7,1174.2 1043.2,1172.8 1043.6,1173.8 1044.0,1173.0 1044.5,1173.2 1044.9,1173.1 1045.4,1173.2 1045.8,1174.0 1046.2,1173.3 1046.7,1173.1 1047.1,1173.0 1047.6,1173.4 1048.0,1172.6 1048.4,1172.8 1048.9,1173.1 1049.3,1172.8 1049.8,1173.1 1050.2,1172.7 1050.6,1174.6 1051.1,1174.1 1051.5,1173.5 1052.0,1173.1 1052.4,1174.7 1052.8,1173.4 1053.3,1173.1 1053.7,1173.4 1054.2,1173.4 1054.6,1174.1 1055.0,1173.1 1055.5,1174.6 1055.9,1172.5 1056.4,1173.6 1056.8,1172.4 1057.2,1174.4 1057.7,1172.9 1058.1,1173.1 1058.6,1173.8 1059.0,1174.0 1059.4,1172.4 1059.9,1172.9 1060.3,1172.2 1060.8,1173.2 1061.2,1173.1 1061.6,1172.9 1062.1,1172.7 1062.5,1172.9 1063.0,1172.6 1063.4,1173.5 1063.8,1174.2 1064.3,1171.8 1064.7,1173.0 1065.2,1172.8 1065.6,1173.5 1066.0,1172.5 1066.5,1173.0 1066.9,1172.4 1067.4,1173.6 1067.8,1173.2 1068.2,1173.0 1068.7,1173.4 1069.1,1172.9 1069.6,1172.0 1070.0,1173.5 1070.4,1173.3 1070.9,1173.0 1071.3,1173.8 1071.8,1174.0 1072.2,1172.3 1072.6,1172.5 1073.1,1174.2 1073.5,1174.1 1074.0,1172.6 1074.4,1172.3 1074.8,1172.6 1075.3,1172.7 1075.7,1172.0 1076.2,1173.1 1076.6,1172.2 1077.0,1172.2 1077.5,1173.7 1077.9,1172.6 1078.4,1173.0 1078.8,1173.5 1079.2,1173.6 1079.7,1172.8 1080.1,1173.1 1080.6,1172.5 1081.0,1174.3 1081.4,1173.5 1081.9,1172.3 1082.3,1173.1 1082.8,1173.6 1083.2,1173.4 1083.6,1174.3 1084.1,1174.0 1084.5,1172.7 1085.0,1173.0 1085.4,1172.2 1085.8,1173.2 1086.3,1173.2 1086.7,1174.9 1087.2,1173.1 1087.6,1171.6 1088.0,1172.6 1088.5,1173.1 1088.9,1172.2 1089.4,1172.4 1089.8,1172.8 1090.2,1173.3 1090.7,1172.9 1091.1,1172.4 1091.6,1173.6 1092.0,1172.7 1092.4,1172.7 1092.9,1172.1 1093.3,1172.5 1093.8,1173.5 1094.2,1171.9 1094.6,1173.0 1095.1,1173.5 1095.5,1172.8 1096.0,1173.2 1096.4,1172.2 1096.8,1173.9 1097.3,1173.8 1097.7,1173.2 1098.2,1171.8 1098.6,1172.3 1099.0,1173.7 1099.5,1174.2 1099.9,1173.2 1100.4,1173.9 1100.8,1172.6 1101.2,1172.9 1101.7,1173.0 1102.1,1173.3 1102.6,1171.9 1103.0,1173.7 1103.4,1173.9 1103.9,1172.2 1104.3,1172.0 1104.8,1173.2 1105.2,1172.5 1105.6,1171.3 1106.1,1173.6 1106.5,1173.1 1107.0,1172.7 1107.4,1174.5 1107.8,1173.1 1108.3,1172.5 1108.7,1173.1 1109.2,1172.2 1109.6,1172.4 1110.0,1173.3 1110.5,1172.6 1110.9,1172.7 1111.4,1174.2 1111.8,1173.6 1112.2,1173.5 1112.7,1173.3 1113.1,1173.3 1113.6,1174.0 1114.0,1172.9 1114.4,1174.3 1114.9,1172.3 1115.3,1172.8 1115.8,1171.9 1116.2,1172.7 1116.6,1173.3 1117.1,1174.0 1117.5,1172.4 1118.0,1172.9 1118.4,1172.6 1118.8,1172.3 1119.3,1172.0 1119.7,1172.9 1120.2,1171.5 1120.6,1172.9 1121.0,1172.8 1121.5,1172.3 1121.9,1172.0 1122.4,1171.6 1122.8,1174.1 1123.2,1171.6 1123.7,1173.8 1124.1,1173.0 1124.6,1172.2 1125.0,1171.5 1125.4,1173.2 1125.9,1173.7 1126.3,1171.5 1126.8,1171.9 1127.2,1173.0 1127.6,1172.3 1128.1,1173.6 1128.5,1171.3 1129.0,1172.1 1129.4,1170.5 1129.8,1173.2 1130.3,1170.6 1130.7,1169.1 1131.2,1170.7 1131.6,1170.5 1132.0,1172.1 1132.5,1169.8 1132.9,1169.8 1133.4,1170.0 1133.8,1170.6 1134.2,1168.6 1134.7,1169.2 1135.1,1168.1 1135.6,1166.7 1136.0,1166.4 1136.4,1165.5 1136.9,1163.5 1137.3,1164.7 1137.8,1160.5 1138.2,1161.8 1138.6,1159.6 1139.1,1155.6 1139.5,1151.0 1140.0,1146.3 1140.4,1139.5 1140.8,1128.7 1141.3,1111.9 1141.7,1091.2 1142.2,1059.8 1142.6,1027.0 1143.0,984.0 1143.5,951.3 1143.9,918.3 1144.4,900.9 1144.8,910.8 1145.2,934.1 1145.7,961.0 1146.1,1007.5 1146.6,1041.2 1147.0,1078.1 1147.4,1105.6 1147.9,1119.2 1148.3,1133.8 1148.8,1142.7 1149.2,1150.0 1149.6,1154.8 1150.1,1158.7 1150.5,1158.3 1151.0,1163.1 1151.4,1161.7 1151.8,1164.3 1152.3,1166.2 1152.7,1166.6 1153.2,1165.7 1153.6,1166.6 1154.0,1167.4 1154.5,1168.4 1154.9,1170.0 1155.4,1168.0 1155.8,1170.1 1156.2,1170.5 1156.7,1170.7 1157.1,1170.9 1157.6,1172.1 1158.0,1171.4 1158.4,1171.9 1158.9,1171.8 1159.3,1173.0 1159.8,1170.0 1160.2,1172.8 1160.6,1171.6 1161.1,1171.7 1161.5,1171.2 1162.0,1170.6 1162.4,1171.9 1162.8,1171.7 1163.3,1172.7 1163.7,1171.2 1164.2,1173.6 1164.6,1172.7 1165.0,1172.3 1165.5,1172.0 1165.9,1172.0 1166.4,1171.8 1166.8,1172.2 1167.2,1172.7 1167.7,1172.6 1168.1,1171.7 1168.6,1172.5 1169.0,1172.1 1169.4,1172.9 1169.9,1174.2 1170.3,1173.3 1170.8,1172.6 1171.2,1171.6 1171.6,1171.8 1172.1,1171.6 1172.5,1173.4 1173.0,1172.3 1173.4,1172.9 1173.8,1172.4 1174.3,1172.9 1174.7,1173.9 1175.2,1172.4 1175.6,1172.6 1176.0,1172.3 1176.5,1173.5 1176.9,1172.2 1177.4,1172.1 1177.8,1171.9 1178.2,1171.9 1178.7,1173.2 1179.1,1174.7 1179.6,1172.2 1180.0,1173.6 1180.4,1173.1 1180.9,1172.1 1181.3,1172.7 1181.8,1172.7 1182.2,1172.4 1182.6,1174.3 1183.1,1171.5 1183.5,1173.2 1184.0,1173.1 1184.4,1172.5 1184.8,1173.0 1185.3,1173.5 1185.7,1173.0 1186.2,1173.2 1186.6,1173.4 1187.0,1171.5 1187.5,1173.9 1187.9,1174.5 1188.4,1173.6 1188.8,1173.6 1189.2,1171.9 1189.7,1172.8 1190.1,1172.3 1190.6,1172.5 1191.0,1173.6 1191.4,1172.3 1191.9,1172.8 1192.3,1171.5 1192.8,1172.8 1193.2,1172.9 1193.6,1172.4 1194.1,1172.4 1194.5,1174.2 1195.0,1172.0 1195.4,1172.1 1195.8,1172.3 1196.3,1173.7 1196.7,1174.4 1197.2,1173.1 1197.6,1172.4 1198.0,1172.6 1198.5,1173.6 1198.9,1172.2 1199.4,1173.9 1199.8,1173.9 1200.2,1172.9 1200.7,1173.3 1201.1,1173.4 1201.6,1174.0 1202.0,1172.1 1202.4,1173.7 1202.9,1172.6 1203.3,1172.3 1203.8,1172.9 1204.2,1172.7 1204.6,1172.2 1205.1,1171.8 1205.5,1172.2 1206.0,1173.9 1206.4,1174.2 1206.8,1173.3 1207.3,1173.7 1207.7,1172.5 1208.2,1172.8 1208.6,1173.1 1209.0,1172.1 1209.5,1172.2 1209.9,1172.9 1210.4,1172.6 1210.8,1172.1 1211.2,1173.1 1211.7,1172.7 1212.1,1173.6 1212.6,1172.9 1213.0,1172.6 1213.4,1172.9 1213.9,1172.7 1214.3,1172.4 1214.8,1172.6 1215.2,1173.4 1215.6,1173.3 1216.1,1173.8 1216.5,1171.7 1217.0,1172.6 1217.4,1172.6 1217.8,1173.0 1218.3,1172.5 1218.7,1172.5 1219.2,1173.4 1219.6,1173.0 1220.0,1172.0 1220.5,1173.8 1220.9,1173.5 1221.4,1172.4 1221.8,1173.4 1222.2,1172.3 1222.7,1173.6 1223.1,1172.7 1223.6,1172.3 1224.0,1172.6 1224.4,1172.3 1224.9,1173.0 1225.3,1173.0 1225.8,1172.9 1226.2,1172.5 1226.6,1170.3 1227.1,1172.9 1227.5,1171.5 1228.0,1173.0 1228.4,1173.6 1228.8,1173.0 1229.3,1172.6 1229.7,1172.7 1230.2,1172.7 1230.6,1172.5 1231.0,1172.4 1231.5,1172.2 1231.9,1173.7 1232.4,1172.8 1232.8,1173.5 1233.2,1172.7 1233.7,1172.9 1234.1,1172.7 1234.6,1173.2 1235.0,1173.4 1235.4,1173.0 1235.9,1172.4 1236.3,1172.3 1236.8,1174.0 1237.2,1172.6 1237.6,1172.6 1238.1,1173.9 1238.5,1173.6 1239.0,1173.2 1239.4,1172.5 1239.8,1174.5 1240.3,1173.1 1240.7,1173.2 1241.2,1172.7 1241.6,1171.8 1242.0,1171.9 1242.5,1173.1 1242.9,1173.1 1243.4,1172.7 1243.8,1172.0 1244.2,1171.8 1244.7,1172.6 1245.1,1171.8 1245.6,1173.4 1246.0,1173.6 1246.4,1174.8 1246.9,1173.4 1247.3,1172.4 1247.8,1172.2 1248.2,1170.4 1248.6,1172.4 1249.1,1172.7 1249.5,1173.5 1250.0,1173.2 1250.4,1173.2 1250.8,1173.0 1251.3,1173.3 1251.7,1173.8 1252.2,1172.1 1252.6,1172.5 1253.0,1171.8 1253.5,1173.9 1253.9,1173.7 1254.4,1173.3 1254.8,1172.0 1255.2,1172.9 1255.7,1172.6 1256.1,1172.9 1256.6,1172.7 1257.0,1173.2 1257.4,1172.5 1257.9,1173.4 1258.3,1173.0 1258.8,1172.6 1259.2,1172.7 1259.6,1172.5 1260.1,1173.4 1260.5,1172.6 1261.0,1173.0 1261.4,1172.5 1261.8,1171.8 1262.3,1173.4 1262.7,1172.1 1263.2,1173.3 1263.6,1173.1 1264.0,1171.6 1264.5,1172.1 1264.9,1172.4 1265.4,1172.2 1265.8,1172.0 1266.2,1173.3 1266.7,1172.6 1267.1,1173.1 1267.6,1172.5 1268.0,1173.0 1268.4,1172.3 1268.9,1172.8 1269.3,1173.2 1269.8,1172.8 1270.2,1172.5 1270.6,1172.0 1271.1,1172.9 1271.5,1173.0 1272.0,1172.6 1272.4,1172.2 1272.8,1173.2 1273.3,1174.5 1273.7,1172.6 1274.2,1173.0 1274.6,1173.0 1275.0,1171.0 1275.5,1172.9 1275.9,1172.3 1276.4,1173.7 1276.8,1172.6 1277.2,1172.2 1277.7,1172.6 1278.1,1172.9 1278.6,1172.4 1279.0,1172.7 1279.4,1171.8 1279.9,1172.6 1280.3,1173.3 1280.8,1174.2 1281.2,1173.3 1281.6,1173.0 1282.1,1173.6 1282.5,1173.5 1283.0,1173.9 1283.4,1173.5 1283.8,1172.7 1284.3,1173.0 1284.7,1172.9 1285.2,1173.0 1285.6,1172.9 1286.0,1172.2 1286.5,1171.3 1286.9,1172.3 1287.4,1171.3 1287.8,1172.8 1288.2,1172.8 1288.7,1171.6 1289.1,1173.2 1289.6,1173.4 1290.0,1172.8 1290.4,1173.9 1290.9,1174.1 1291.3,1171.9 1291.8,1173.5 1292.2,1173.1 1292.6,1173.1 1293.1,1173.4 1293.5,1172.3 1294.0,1172.3 1294.4,1172.2 1294.8,1172.2 1295.3,1172.7 1295.7,1171.7 1296.2,1172.0 1296.6,1173.2 1297.0,1172.7 1297.5,1173.0 1297.9,1171.4 1298.4,1172.2 1298.8,1172.4 1299.2,1172.8 1299.7,1172.3 1300.1,1173.4 1300.6,1172.7 1301.0,1172.8 1301.4,1172.8 1301.9,1173.2 1302.3,1172.4 1302.8,1173.5 1303.2,1173.1 1303.6,1172.9 1304.1,1172.8 1304.5,1173.1 1305.0,1173.5 1305.4,1173.4 1305.8,1173.0 1306.3,1173.4 1306.7,1172.8 1307.2,1173.6 1307.6,1172.7 1308.0,1171.3 1308.5,1173.7 1308.9,1172.8 1309.4,1171.9 1309.8,1172.6 1310.2,1172.1 1310.7,1174.2 1311.1,1173.1 1311.6,1171.6 1312.0,1173.1 1312.4,1172.5 1312.9,1174.1 1313.3,1172.0 1313.8,1171.2 1314.2,1172.8 1314.6,1172.5 1315.1,1172.4 1315.5,1171.2 1316.0,1173.0 1316.4,1173.9 1316.8,1171.4 1317.3,1173.5 1317.7,1172.3 1318.2,1174.4 1318.6,1173.0 1319.0,1172.6 1319.5,1173.5 1319.9,1173.1 1320.4,1172.3 1320.8,1173.2 1321.2,1172.4 1321.7,1171.5 1322.1,1174.1 1322.6,1172.5 1323.0,1172.3 1323.4,1173.0 1323.9,1171.6 1324.3,1171.8 1324.8,1172.4 1325.2,1172.4 1325.6,1172.8 1326.1,1173.5 1326.5,1172.4 1327.0,1173.1 1327.4,1173.1 1327.8,1172.0 1328.3,1172.9 1328.7,1172.1 1329.2,1173.5 1329.6,1173.0 1330.0,1172.7 1330.5,1171.8 1330.9,1172.8 1331.4,1172.2 1331.8,1173.2 1332.2,1172.6 1332.7,1172.1 1333.1,1173.4 1333.6,1173.2 1334.0,1172.3 1334.4,1173.5 1334.9,1172.5 1335.3,1172.5 1335.8,1172.8 1336.2,1172.2 1336.6,1172.4 1337.1,1172.6 1337.5,1173.8 1338.0,1173.8 1338.4,1172.5 1338.8,1173.8 1339.3,1172.7 1339.7,1173.0 1340.2,1173.3 1340.6,1172.9 1341.0,1174.4 1341.5,1172.9 1341.9,1171.9 1342.4,1173.6 1342.8,1172.4 1343.2,1172.5 1343.7,1170.6 1344.1,1173.4 1344.6,1173.3 1345.0,1173.3 1345.4,1173.4 1345.9,1173.9 1346.3,1172.7 1346.8,1173.3 1347.2,1172.2 1347.6,1172.4 1348.1,1173.4 1348.5,1173.0 1349.0,1171.8 1349.4,1172.9 1349.8,1172.6 1350.3,1172.1 1350.7,1173.0 1351.2,1172.4 1351.6,1171.6 1352.0,1171.9 1352.5,1173.9 1352.9,1171.6 1353.4,1172.8 1353.8,1173.1 1354.2,1173.1 1354.7,1171.8 1355.1,1172.5 1355.6,1172.8 1356.0,1173.2 1356.4,1172.2 1356.9,1171.9 1357.3,1173.4 1357.8,1173.5 1358.2,1172.9 1358.6,1172.2 1359.1,1173.0 1359.5,1172.7 1360.0,1173.3 1360.4,1171.8 1360.8,1172.8 1361.3,1172.6 1361.7,1171.9 1362.2,1172.8 1362.6,1172.7 1363.0,1172.4 1363.5,1172.9 1363.9,1171.6 1364.4,1172.6 1364.8,1173.0 1365.2,1172.9 1365.7,1173.4 1366.1,1171.8 1366.6,1171.5 1367.0,1172.8 1367.4,1173.0 1367.9,1174.2 1368.3,1173.1 1368.8,1172.0 1369.2,1173.2 1369.6,1172.0 1370.1,1171.5 1370.5,1174.5 1371.0,1172.8 1371.4,1173.1 1371.8,1173.0 1372.3,1173.9 1372.7,1172.7 1373.2,1173.4 1373.6,1171.7 1374.0,1171.4 1374.5,1173.5 1374.9,1173.5 1375.4,1172.8 1375.8,1172.5 1376.2,1172.4 1376.7,1171.7 1377.1,1173.4 1377.6,1172.7 1378.0,1172.5 1378.4,1172.4 1378.9,1172.9 1379.3,1172.4 1379.8,1172.5 1380.2,1170.9 1380.6,1172.2 1381.1,1173.5 1381.5,1171.1 1382.0,1171.3 1382.4,1172.0 1382.8,1172.0 1383.3,1171.5 1383.7,1169.4 1384.2,1171.0 1384.6,1169.3 1385.0,1169.3 1385.5,1170.3 1385.9,1169.2 1386.4,1169.8 1386.8,1171.6 1387.2,1168.8 1387.7,1168.1 1388.1,1165.7 1388.6,1165.0 1389.0,1163.1 1389.4,1161.9 1389.9,1158.7 1390.3,1155.6 1390.8,1151.2 1391.2,1143.4 1391.6,1134.0 1392.1,1123.2 1392.5,1113.6 1393.0,1099.2 1393.4,1087.6 1393.8,1077.0 1394.3,1068.9 1394.7,1072.8 1395.2,1077.0 1395.6,1096.5 1396.0,1108.1 1396.5,1119.0 1396.9,1129.2 1397.4,1141.3 1397.8,1145.8 1398.2,1153.1 1398.7,1159.2 1399.1,1161.4 1399.6,1162.9 1400.0,1166.0 1400.4,1165.1 1400.9,1167.3 1401.3,1167.3 1401.8,1167.5 1402.2,1169.3 1402.6,1168.3 1403.1,1171.4 1403.5,1169.4 1404.0,1172.0 1404.4,1169.5 1404.8,1171.2 1405.3,1169.8 1405.7,1169.9 1406.2,1171.3 1406.6,1171.9 1407.0,1170.4 1407.5,1172.5 1407.9,1171.0 1408.4,1171.8 1408.8,1172.1 1409.2,1172.4 1409.7,1170.5 1410.1,1173.3 1410.6,1172.5 1411.0,1171.8 1411.4,1171.4 1411.9,1170.9 1412.3,1171.2 1412.8,1172.7 1413.2,1172.1 1413.6,1171.5 1414.1,1172.0 1414.5,1173.6 1415.0,1172.2 1415.4,1172.0 1415.8,1173.5 1416.3,1172.8 1416.7,1172.5 1417.2,1172.0 1417.6,1171.4 1418.0,1171.6 1418.5,1172.2 1418.9,1172.4 1419.4,1172.8 1419.8,1172.9 1420.2,1172.7 1420.7,1172.7 1421.1,1171.8 1421.6,1171.0 1422.0,1172.2 1422.4,1171.9 1422.9,1172.1 1423.3,1172.4 1423.8,1171.7 1424.2,1171.8 1424.6,1172.5 1425.1,1172.7 1425.5,1172.1 1426.0,1172.9 1426.4,1172.4 1426.8,1171.9 1427.3,1172.6 1427.7,1173.9 1428.2,1172.1 1428.6,1173.4 1429.0,1173.6 1429.5,1173.6 1429.9,1172.0 1430.4,1174.0 1430.8,1172.7 1431.2,1172.4 1431.7,1172.4 1432.1,1173.0 1432.6,1172.6 1433.0,1172.5 1433.4,1173.5 1433.9,1172.1 1434.3,1171.8 1434.8,1173.1 1435.2,1173.1 1435.6,1173.3 1436.1,1171.8 1436.5,1173.3 1437.0,1172.9 1437.4,1173.8 1437.8,1171.7 1438.3,1172.7 1438.7,1172.4 1439.2,1171.5 1439.6,1172.1 1440.0,1173.4 1440.5,1172.2 1440.9,1172.1 1441.4,1173.2 1441.8,1173.3 1442.2,1173.3 1442.7,1172.0 1443.1,1172.5 1443.6,1173.3 1444.0,1172.1 1444.4,1172.0 1444.9,1173.1 1445.3,1173.7 1445.8,1171.8 1446.2,1170.7 1446.6,1171.6 1447.1,1171.9 1447.5,1172.5 1448.0,1173.0 1448.4,1172.5 1448.8,1172.1 1449.3,1172.7 1449.7,1171.9 1450.2,1172.5 1450.6,1172.1 1451.0,1174.4 1451.5,1173.1 1451.9,1172.0 1452.4,1171.9 1452.8,1172.3 1453.2,1171.4 1453.7,1172.0 1454.1,1172.0 1454.6,1173.2 1455.0,1172.3 1455.4,1172.0 1455.9,1171.6 1456.3,1171.7 1456.8,1172.5 1457.2,1172.4 1457.6,1173.3 1458.1,1172.1 1458.5,1173.3 1459.0,1172.7 1459.4,1172.5 1459.8,1171.1 1460.3,1171.6 1460.7,1173.1 1461.2,1173.5 1461.6,1172.7 1462.0,1173.1 1462.5,1172.3 1462.9,1172.3 1463.4,1172.1 1463.8,1173.2 1464.2,1172.8 1464.7,1172.4 1465.1,1172.3 1465.6,1172.9 1466.0,1172.8 1466.4,1172.0 1466.9,1173.7 1467.3,1172.7 1467.8,1172.5 1468.2,1173.6 1468.6,1173.3 1469.1,1172.5 1469.5,1172.9 1470.0,1171.8 1470.4,1172.1 1470.8,1171.0 1471.3,1173.4 1471.7,1171.2 1472.2,1173.0 1472.6,1172.0 1473.0,1171.8 1473.5,1172.4 1473.9,1172.7 1474.4,1173.0 1474.8,1173.8 1475.2,1172.8 1475.7,1173.1 1476.1,1172.1 1476.6,1173.0 1477.0,1172.6 1477.4,1172.2 1477.9,1172.5 1478.3,1172.5 1478.8,1172.7 1479.2,1172.8 1479.6,1172.2 1480.1,1172.0 1480.5,1173.0 1481.0,1171.3 1481.4,1172.1 1481.8,1173.6 1482.3,1170.6 1482.7,1172.0 1483.2,1173.0 1483.6,1171.4 1484.0,1174.4 1484.5,1170.7 1484.9,1173.5 1485.4,1173.6 1485.8,1173.2 1486.2,1172.4 1486.7,1172.8 1487.1,1171.9 1487.6,1173.1 1488.0,1171.7 1488.4,1172.3 1488.9,1173.2 1489.3,1171.7 1489.8,1172.2 1490.2,1172.6 1490.6,1171.5 1491.1,1173.3 1491.5,1172.7 1492.0,1171.4 1492.4,1172.4 1492.8,1171.9 1493.3,1172.0 1493.7,1172.5 1494.2,1171.9 1494.6,1173.2 1495.0,1171.9 1495.5,1173.2 1495.9,1172.4 1496.4,1173.1 1496.8,1172.0 1497.2,1172.0 1497.7,1171.5 1498.1,1172.8 1498.6,1173.1 1499.0,1174.0 1499.4,1173.3 1499.9,1172.5 1500.3,1172.2 1500.8,1172.6 1501.2,1172.3 1501.6,1173.4 1502.1,1173.0 1502.5,1171.6 1503.0,1171.6 1503.4,1173.2 1503.8,1172.3 1504.3,1171.8 1504.7,1172.8 1505.2,1171.4 1505.6,1171.3 1506.0,1171.0 1506.5,1169.3 1506.9,1171.4 1507.4,1169.0 1507.8,1168.8 1508.2,1167.8 1508.7,1168.3 1509.1,1166.4 1509.6,1165.3 1510.0,1162.1 1510.4,1162.6 1510.9,1159.8 1511.3,1160.8 1511.8,1160.2 1512.2,1159.4 1512.6,1161.9 1513.1,1160.7 1513.5,1161.6 1514.0,1162.2 1514.4,1163.1 1514.8,1165.6 1515.3,1167.0 1515.7,1165.7 1516.2,1169.1 1516.6,1169.5 1517.0,1170.6 1517.5,1170.8 1517.9,1169.7 1518.4,1170.2 1518.8,1173.0 1519.2,1171.9 1519.7,1170.7 1520.1,1172.2 1520.6,1171.7 1521.0,1170.6 1521.4,1170.3 1521.9,1170.9 1522.3,1172.4 1522.8,1172.2 1523.2,1172.1 1523.6,1172.5 1524.1,1172.8 1524.5,1170.7 1525.0,1172.1 1525.4,1171.7 1525.8,1171.4 1526.3,1172.0 1526.7,1172.3 1527.2,1172.2 1527.6,1171.3 1528.0,1172.1 1528.5,1173.9 1528.9,1171.7 1529.4,1171.2 1529.8,1172.6 1530.2,1172.9 1530.7,1172.8 1531.1,1171.6 1531.6,1173.2 1532.0,1171.9 1532.4,1171.6 1532.9,1172.0 1533.3,1172.4 1533.8,1173.0 1534.2,1172.9 1534.6,1172.5 1535.1,1173.1 1535.5,1172.5 1536.0,1173.1 1536.4,1171.5 1536.8,1171.4 1537.3,1173.0 1537.7,1171.5 1538.2,1172.3 1538.6,1172.4 1539.0,1172.1 1539.5,1172.2 1539.9,1173.5 1540.4,1170.7 1540.8,1173.1 1541.2,1174.1 1541.7,1172.5 1542.1,1172.5 1542.6,1173.0 1543.0,1173.8 1543.4,1171.6 1543.9,1172.5 1544.3,1172.3 1544.8,1172.9 1545.2,1172.6 1545.6,1172.9 1546.1,1172.2 1546.5,1172.5 1547.0,1172.0 1547.4,1172.0 1547.8,1172.4 1548.3,1172.4 1548.7,1171.7 1549.2,1173.6 1549.6,1172.4 1550.0,1171.5 1550.5,1173.3 1550.9,1172.0 1551.4,1172.8 1551.8,1172.5 1552.2,1172.7 1552.7,1172.6 1553.1,1172.1 1553.6,1172.5 1554.0,1173.9 1554.4,1170.9 1554.9,1172.5 1555.3,1172.8 1555.8,1171.7 1556.2,1171.5 1556.6,1174.0 1557.1,1172.2 1557.5,1173.9 1558.0,1172.8 1558.4,1172.5 1558.8,1172.8 1559.3,1172.9 1559.7,1173.3 1560.2,1172.8 1560.6,1172.6 1561.0,1172.6 1561.5,1173.4 1561.9,1173.0 1562.4,1171.8 1562.8,1172.0 1563.2,1172.7 1563.7,1172.0 1564.1,1172.2 1564.6,1171.8 1565.0,1172.3 1565.4,1172.8 1565.9,1173.2 1566.3,1172.5 1566.8,1173.9 1567.2,1172.4 1567.6,1174.7 1568.1,1173.2 1568.5,1172.8 1569.0,1172.1 1569.4,1170.5 1569.8,1172.4 1570.3,1172.6 1570.7,1173.8 1571.2,1171.5 1571.6,1173.8 1572.0,1172.3 1572.5,1173.0 1572.9,1170.7 1573.4,1172.6 1573.8,1172.2 1574.2,1172.9 1574.7,1172.5 1575.1,1171.7 1575.6,1173.1 1576.0,1173.0 1576.4,1172.9 1576.9,1173.2 1577.3,1173.2 1577.8,1172.5 1578.2,1171.5 1578.6,1171.5 1579.1,1173.4 1579.5,1173.0 1580.0,1172.5 1580.4,1172.2 1580.8,1172.5 1581.3,1172.5 1581.7,1172.2 1582.2,1172.0 1582.6,1174.0 1583.0,1172.6 1583.5,1172.0 1583.9,1171.5 1584.4,1172.0 1584.8,1173.0 1585.2,1173.0 1585.7,1172.3 1586.1,1172.5 1586.6,1172.2 1587.0,1171.7 1587.4,1173.4 1587.9,1172.7 1588.3,1174.2 1588.8,1171.9 1589.2,1172.4 1589.6,1173.1 1590.1,1172.3 1590.5,1171.5 1591.0,1171.8 1591.4,1172.5 1591.8,1172.7 1592.3,1172.4 1592.7,1173.2 1593.2,1173.2 1593.6,1172.7 1594.0,1172.5 1594.5,1172.3 1594.9,1172.8 1595.4,1173.1 1595.8,1172.5 1596.2,1172.8 1596.7,1172.2 1597.1,1171.4 1597.6,1171.7 1598.0,1173.0 1598.4,1172.7 1598.9,1173.6 1599.3,1172.5 1599.8,1173.0 1600.2,1173.4 1600.6,1173.1 1601.1,1171.9 1601.5,1172.2 1602.0,1172.5 1602.4,1171.6 1602.8,1172.7 1603.3,1173.1 1603.7,1172.0 1604.2,1173.8 1604.6,1172.1 1605.0,1172.1 1605.5,1172.1 1605.9,1171.7 1606.4,1172.5 1606.8,1172.2 1607.2,1173.4 1607.7,1172.6 1608.1,1172.5 1608.6,1171.9 1609.0,1170.9 1609.4,1171.9 1609.9,1171.3 1610.3,1172.6 1610.8,1171.8 1611.2,1173.1 1611.6,1172.3 1612.1,1172.3 1612.5,1171.7 1613.0,1171.6 1613.4,1171.8 1613.8,1172.0 1614.3,1170.4 1614.7,1171.3 1615.2,1173.0 1615.6,1170.5 1616.0,1170.1 1616.5,1169.5 1616.9,1168.5 1617.4,1170.6 1617.8,1169.2 1618.2,1169.0 1618.7,1170.0 1619.1,1170.0 1619.6,1165.9 1620.0,1166.8 1620.4,1165.0 1620.9,1163.0 1621.3,1160.6 1621.8,1156.7 1622.2,1154.4 1622.6,1147.6 1623.1,1140.5 1623.5,1133.9 1624.0,1124.4 1624.4,1114.5 1624.8,1105.6 1625.3,1101.5 1625.7,1096.0 1626.2,1096.0 1626.6,1099.7 1627.0,1108.6 1627.5,1116.6 1627.9,1127.7 1628.4,1136.5 1628.8,1140.7 1629.2,1149.7 1629.7,1155.5 1630.1,1158.7 1630.6,1160.3 1631.0,1164.9 1631.4,1164.4 1631.9,1165.0 1632.3,1166.1 1632.8,1167.9 1633.2,1169.4 1633.6,1170.0 1634.1,1169.5 1634.5,1168.6 1635.0,1169.4 1635.4,1169.4 1635.8,1170.3 1636.3,1169.1 1636.7,1170.9 1637.2,1171.5 1637.6,1171.0 1638.0,1171.6 1638.5,1170.6 1638.9,1170.2 1639.4,1171.0 1639.8,1172.6 1640.2,1172.5 1640.7,1171.4 1641.1,1172.8 1641.6,1171.6 1642.0,1173.1 1642.4,1172.4 1642.9,1171.7 1643.3,1172.7 1643.8,1171.5 1644.2,1171.4 1644.6,1171.1 1645.1,1172.4 1645.5,1172.2 1646.0,1172.2 1646.4,1171.9 1646.8,1173.4 1647.3,1172.0 1647.7,1171.8 1648.2,1173.2 1648.6,1173.4 1649.0,1172.6 1649.5,1171.1 1649.9,1171.9 1650.4,1172.8 1650.8,1172.4 1651.2,1173.5 1651.7,1171.4 1652.1,1172.9 1652.6,1171.9 1653.0,1173.4 1653.4,1172.3 1653.9,1173.1 1654.3,1171.9 1654.8,1171.4 1655.2,1171.6 1655.6,1172.0 1656.1,1171.7 1656.5,1173.3 1657.0,1173.4 1657.4,1172.6 1657.8,1171.7 1658.3,1172.3 1658.7,1171.9 1659.2,1173.5 1659.6,1172.6 1660.0,1172.8 1660.5,1172.1 1660.9,1171.0 1661.4,1171.9 1661.8,1171.6 1662.2,1172.7 1662.7,1172.5 1663.1,1171.9 1663.6,1172.2 1664.0,1173.5 1664.4,1171.8 1664.9,1171.8 1665.3,1172.3 1665.8,1171.9 1666.2,1172.1 1666.6,1172.8 1667.1,1173.6 1667.5,1171.2 1668.0,1172.4 1668.4,1172.5 1668.8,1172.4 1669.3,1172.3 1669.7,1172.2 1670.2,1173.1 1670.6,1172.1 1671.0,1172.3 1671.5,1172.4 1671.9,1172.5 1672.4,1172.3 1672.8,1173.1 1673.2,1172.4 1673.7,1172.5 1674.1,1172.4 1674.6,1171.7 1675.0,1171.8 1675.4,1171.7 1675.9,1172.6 1676.3,1171.9 1676.8,1171.7 1677.2,1172.6 1677.6,1172.8 1678.1,1171.2 1678.5,1173.6 1679.0,1172.4 1679.4,1172.3 1679.8,1173.2 1680.3,1172.5 1680.7,1172.0 1681.2,1174.0 1681.6,1171.7 1682.0,1172.4 1682.5,1173.0 1682.9,1171.7 1683.4,1172.3 1683.8,1172.7 1684.2,1174.1 1684.7,1171.8 1685.1,1172.4 1685.6,1172.9 1686.0,1172.5 1686.4,1171.6 1686.9,1172.7 1687.3,1172.5 1687.8,1172.7 1688.2,1173.2 1688.6,1173.1 1689.1,1172.7 1689.5,1172.6 1690.0,1171.6 1690.4,1172.3 1690.8,1172.6 1691.3,1172.1 1691.7,1172.5 1692.2,1171.8 1692.6,1173.5 1693.0,1173.9 1693.5,1172.1 1693.9,1172.7 1694.4,1172.3 1694.8,1173.3 1695.2,1172.7 1695.7,1172.5 1696.1,1172.3 1696.6,1172.5 1697.0,1171.7 1697.4,1172.9 1697.9,1171.9 1698.3,1172.8 1698.8,1172.5 1699.2,1173.2 1699.6,1172.4 1700.1,1173.1 1700.5,1171.8 1701.0,1172.8 1701.4,1172.3 1701.8,1172.5 1702.3,1172.5 1702.7,1173.1 1703.2,1171.0 1703.6,1172.6 1704.0,1171.4 1704.5,1173.3 1704.9,1171.0 1705.4,1171.7 1705.8,1171.2 1706.2,1173.6 1706.7,1171.5 1707.1,1172.5 1707.6,1172.0 1708.0,1171.1 1708.4,1172.2 1708.9,1172.9 1709.3,1172.3 1709.8,1173.1 1710.2,1172.2 1710.6,1172.4 1711.1,1172.1 1711.5,1172.6 1712.0,1173.7 1712.4,1172.7 1712.8,1172.5 1713.3,1172.0 1713.7,1171.9 1714.2,1173.4 1714.6,1171.6 1715.0,1171.8 1715.5,1172.3 1715.9,1172.1 1716.4,1173.8 1716.8,1170.7 1717.2,1172.7 1717.7,1172.9 1718.1,1171.6 1718.6,1172.0 1719.0,1172.7 1719.4,1173.5 1719.9,1171.8 1720.3,1171.3 1720.8,1173.1 1721.2,1173.5 1721.6,1172.2 1722.1,1170.9 1722.5,1173.4 1723.0,1172.3 1723.4,1173.2 1723.8,1172.4 1724.3,1172.1 1724.7,1172.1 1725.2,1173.4 1725.6,1173.4"/>
<polyline fill="none" stroke="#000" stroke-width="4" stroke-linejoin="bevel" points="209.80,1169.3 210.05,1169.3 210.30,1169.3 210.55,1169.3 210.80,1169.3 211.05,1169.3 211.30,1169.3 211.55,1169.3 211.80,1169.3 212.05,1169.3 212.30,1169.3 212.55,1169.3 212.80,1169.4 213.05,1169.4 213.30,1169.4 213.55,1169.4 213.80,1169.4 214.05,1169.4 214.30,1169.4 214.55,1169.4 214.80,1169.4 215.05,1169.4 215.30,1169.4 215.55,1169.4 215.80,1169.4 216.05,1169.4 216.30,1169.4 216.55,1169.4 216.80,1169.4 217.05,1169.4 217.30,1169.4 217.55,1169.4 217.80,1169.4 218.05,1169.4 218.30,1169.4 218.55,1169.4 218.80,1169.4 219.05,1169.5 219.30,1169.5 219.55,1169.5 219.80,1169.5 220.05,1169.5 220.30,1169.5 220.55,1169.5 220.80,1169.5 221.05,1169.5 221.30,1169.5 221.55,1169.5 221.80,1169.5 222.05,1169.5 222.30,1169.5 222.55,1169.5 222.80,1169.5 223.05,1169.5 223.30,1169.5 223.55,1169.5 223.80,1169.5 224.05,1169.5 224.30,1169.5 224.55,1169.5 224.80,1169.5 225.05,1169.5 225.30,1169.6 225.55,1169.6 225.80,1169.6 226.05,1169.6 226.30,1169.6 226.55,1169.6 226.80,1169.6 227.05,1169.6 227.30,1169.6 227.55,1169.6 227.80,1169.6 228.05,1169.6 228.30,1169.6 228.55,1169.6 228.80,1169.6 229.05,1169.6 229.30,1169.6 229.55,1169.6 229.80,1169.6 230.05,1169.6 230.30,1169.6 230.55,1169.6 230.80,1169.6 231.05,1169.6 231.30,1169.6 231.55,1169.7 231.80,1169.7 232.05,1169.7 232.30,1169.7 232.55,1169.7 232.80,1169.7 233.05,1169.7 233.30,1169.7 233.55,1169.7 233.80,1169.7 234.05,1169.7 234.30,1169.7 234.55,1169.7 234.80,1169.7 235.05,1169.7 235.30,1169.7 235.55,1169.7 235.80,1169.7 236.05,1169.7 236.30,1169.7 236.55,1169.7 236.80,1169.7 237.05,1169.7 237.30,1169.7 237.55,1169.7 237.80,1169.7 238.05,1169.8 238.30,1169.8 238.55,1169.8 238.80,1169.8 239.05,1169.8 239.30,1169.8 239.55,1169.8 239.80,1169.8 240.05,1169.8 240.30,1169.8 240.55,1169.8 240.80,1169.8 241.05,1169.8 241.30,1169.8 241.55,1169.8 241.80,1169.8 242.05,1169.8 242.30,1169.8 242.55,1169.8 242.80,1169.8 243.05,1169.8 243.30,1169.8 243.55,1169.8 243.80,1169.8 244.05,1169.8 244.30,1169.8 244.55,1169.8 244.80,1169.9 245.05,1169.9 245.30,1169.9 245.55,1169.9 245.80,1169.9 246.05,1169.9 246.30,1169.9 246.55,1169.9 246.80,1169.9 247.05,1169.9 247.30,1169.9 247.55,1169.9 247.80,1169.9 248.05,1169.9 248.30,1169.9 248.55,1169.9 248.80,1169.9 249.05,1169.9 249.30,1169.9 249.55,1169.9 249.80,1169.9 250.05,1169.9 250.30,1169.9 250.55,1169.9 250.80,1169.9 251.05,1169.9 251.30,1169.9 251.55,1169.9 251.80,1169.9 252.05,1169.9 252.30,1169.9 252.55,1169.9 252.80,1169.9 253.05,1170.0 253.30,1170.0 253.55,1170.0 253.80,1170.0 254.05,1170.0 254.30,1170.0 254.55,1170.0 254.80,1170.0 255.05,1170.0 255.30,1170.0 255.55,1170.0 255.80,1170.0 256.05,1170.0 256.30,1170.0 256.55,1170.0 256.80,1170.0 257.05,1170.0 257.30,1170.0 257.55,1170.0 257.80,1170.0 258.05,1170.0 258.30,1170.0 258.55,1170.0 258.80,1170.0 259.05,1170.0 259.30,1170.0 259.55,1170.0 259.80,1170.0 260.05,1170.0 260.30,1170.0 260.55,1169.9 260.80,1169.9 261.05,1169.9 261.30,1169.9 261.55,1169.9 261.80,1169.9 262.05,1169.9 262.30,1169.9 262.55,1169.9 262.80,1169.9 263.05,1169.9 263.30,1169.8 263.55,1169.8 263.80,1169.8 264.05,1169.8 264.30,1169.7 264.55,1169.7 264.80,1169.7 265.05,1169.7 265.30,1169.6 265.55,1169.6 265.80,1169.5 266.05,1169.4 266.30,1169.4 266.55,1169.3 266.80,1169.2 267.05,1169.1 267.30,1168.9 267.55,1168.8 267.80,1168.6 268.05,1168.3 268.30,1168.0 268.55,1167.7 268.80,1167.2 269.05,1166.6 269.30,1165.8 269.55,1164.7 269.80,1163.1 270.05,1160.9 270.30,1157.6 270.55,1152.5 270.80,1144.4 271.05,1132.5 271.30,1119.0 271.51,1113.6 271.55,1113.8 271.80,1123.0 272.05,1136.8 272.30,1147.4 272.55,1154.4 272.80,1158.9 273.05,1161.8 273.30,1163.7 273.55,1165.1 273.80,1166.1 274.05,1166.9 274.30,1167.5 274.55,1167.9 274.80,1168.2 275.05,1168.5 275.30,1168.8 275.55,1169.0 275.80,1169.1 276.05,1169.3 276.30,1169.4 276.55,1169.5 276.80,1169.6 277.05,1169.6 277.30,1169.7 277.55,1169.8 277.80,1169.8 278.05,1169.9 278.30,1169.9 278.55,1170.0 278.80,1170.0 279.05,1170.0 279.30,1170.1 279.55,1170.1 279.80,1170.1 280.05,1170.1 280.30,1170.2 280.55,1170.2 280.80,1170.2 281.05,1170.2 281.30,1170.2 281.55,1170.3 281.80,1170.3 282.05,1170.3 282.30,1170.3 282.55,1170.3 282.80,1170.3 283.05,1170.3 283.30,1170.3 283.55,1170.4 283.80,1170.4 284.05,1170.4 284.30,1170.4 284.55,1170.4 284.80,1170.4 285.05,1170.4 285.30,1170.4 285.55,1170.4 285.80,1170.4 286.05,1170.5 286.30,1170.5 286.55,1170.5 286.80,1170.5 287.05,1170.5 287.30,1170.5 287.55,1170.5 287.80,1170.5 288.05,1170.5 288.30,1170.5 288.55,1170.5 288.80,1170.5 289.05,1170.5 289.30,1170.5 289.55,1170.5 289.80,1170.6 290.05,1170.6 290.30,1170.6 290.55,1170.6 290.80,1170.6 291.05,1170.6 291.30,1170.6 291.55,1170.6 291.80,1170.6 292.05,1170.6 292.30,1170.6 292.55,1170.6 292.80,1170.6 293.05,1170.6 293.30,1170.6 293.55,1170.6 293.80,1170.6 294.05,1170.6 294.30,1170.7 294.55,1170.7 294.80,1170.7 295.05,1170.7 295.30,1170.7 295.55,1170.7 295.80,1170.7 296.05,1170.7 296.30,1170.7 296.55,1170.7 296.80,1170.7 297.05,1170.7 297.30,1170.7 297.55,1170.7 297.80,1170.7 298.05,1170.7 298.30,1170.7 298.55,1170.7 298.80,1170.7 299.05,1170.7 299.30,1170.8 299.55,1170.8 299.80,1170.8 300.05,1170.8 300.30,1170.8 300.55,1170.8 300.80,1170.8 301.05,1170.8 301.30,1170.8 301.55,1170.8 301.80,1170.8 302.05,1170.8 302.30,1170.8 302.55,1170.8 302.80,1170.8 303.05,1170.8 303.30,1170.8 303.55,1170.8 303.80,1170.8 304.05,1170.8 304.30,1170.8 304.55,1170.8 304.80,1170.8 305.05,1170.8 305.30,1170.8 305.55,1170.8 305.80,1170.8 306.05,1170.8 306.30,1170.9 306.55,1170.9 306.80,1170.9 307.05,1170.9 307.30,1170.9 307.55,1170.9 307.80,1170.9 308.05,1170.9 308.30,1170.9 308.55,1170.9 308.80,1170.9 309.05,1170.9 309.30,1170.9 309.55,1170.9 309.80,1170.9 310.05,1170.9 310.30,1170.9 310.55,1170.9 310.80,1170.9 311.05,1170.9 311.30,1170.9 311.55,1170.9 311.80,1170.9 312.05,1170.9 312.30,1170.9 312.55,1170.9 312.80,1170.9 313.05,1170.9 313.30,1170.9 313.55,1170.9 313.80,1170.9 314.05,1170.9 314.30,1171.0 314.55,1171.0 314.80,1171.0 315.05,1171.0 315.30,1171.0 315.55,1171.0 315.80,1171.0 316.05,1171.0 316.30,1171.0 316.55,1171.0 316.80,1171.0 317.05,1171.0 317.30,1171.0 317.55,1171.0 317.80,1171.0 318.05,1171.0 318.30,1171.0 318.55,1171.0 318.80,1171.0 319.05,1171.0 319.30,1171.0 319.55,1171.0 319.80,1171.0 320.05,1171.0 320.30,1171.0 320.55,1171.0 320.80,1171.0 321.05,1171.0 321.30,1171.0 321.55,1171.0 321.80,1171.0 322.05,1171.0 322.30,1171.1 322.55,1171.1 322.80,1171.1 323.05,1171.1 323.30,1171.1 323.55,1171.1 323.80,1171.1 324.05,1171.1 324.30,1171.1 324.55,1171.1 324.80,1171.1 325.05,1171.1 325.30,1171.1 325.55,1171.1 325.80,1171.1 326.05,1171.1 326.30,1171.1 326.55,1171.1 326.80,1171.1 327.05,1171.1 327.30,1171.1 327.55,1171.1 327.80,1171.1 328.05,1171.1 328.30,1171.1 328.55,1171.1 328.80,1171.1 329.05,1171.1 329.30,1171.1 329.55,1171.1 329.80,1171.1 330.05,1171.1 330.30,1171.2 330.55,1171.2 330.80,1171.2 331.05,1171.2 331.30,1171.2 331.55,1171.2 331.80,1171.2 332.05,1171.2 332.30,1171.2 332.55,1171.2 332.80,1171.2 333.05,1171.2 333.30,1171.2 333.55,1171.2 333.80,1171.2 334.05,1171.2 334.30,1171.2 334.55,1171.2 334.80,1171.2 335.05,1171.2 335.30,1171.2 335.55,1171.2 335.80,1171.2 336.05,1171.2 336.30,1171.2 336.55,1171.2 336.80,1171.2 337.05,1171.2 337.30,1171.2 337.55,1171.2 337.80,1171.2 338.05,1171.2 338.30,1171.2 338.55,1171.3 338.80,1171.3 339.05,1171.3 339.30,1171.3 339.55,1171.3 339.80,1171.3 340.05,1171.3 340.30,1171.3 340.55,1171.3 340.80,1171.3 341.05,1171.3 341.30,1171.3 341.55,1171.3 341.80,1171.3 342.05,1171.3 342.30,1171.3 342.55,1171.3 342.80,1171.3 343.05,1171.3 343.30,1171.3 343.55,1171.3 343.80,1171.3 344.05,1171.3 344.30,1171.3 344.55,1171.3 344.80,1171.3 345.05,1171.3 345.30,1171.3 345.55,1171.3 345.80,1171.3 346.05,1171.3 346.30,1171.3 346.55,1171.3 346.80,1171.4 347.05,1171.4 347.30,1171.4 347.55,1171.4 347.80,1171.4 348.05,1171.4 348.30,1171.4 348.55,1171.4 348.80,1171.4 349.05,1171.4 349.30,1171.4 349.55,1171.4 349.80,1171.4 350.05,1171.4 350.30,1171.4 350.55,1171.4 350.80,1171.4 351.05,1171.4 351.30,1171.4 351.55,1171.4 351.80,1171.4 352.05,1171.4 352.30,1171.4 352.55,1171.4 352.80,1171.4 353.05,1171.4 353.30,1171.4 353.55,1171.4 353.80,1171.4 354.05,1171.4 354.30,1171.4 354.55,1171.4 354.80,1171.4 355.05,1171.5 355.30,1171.5 355.55,1171.5 355.80,1171.5 356.05,1171.5 356.30,1171.5 356.55,1171.5 356.80,1171.5 357.05,1171.5 357.30,1171.5 357.55,1171.5 357.80,1171.5 358.05,1171.5 358.30,1171.5 358.55,1171.5 358.80,1171.5 359.05,1171.5 359.30,1171.5 359.55,1171.5 359.80,1171.5 360.05,1171.5 360.30,1171.5 360.55,1171.5 360.80,1171.5 361.05,1171.5 361.30,1171.5 361.55,1171.5 361.80,1171.5 362.05,1171.5 362.30,1171.5 362.55,1171.5 362.80,1171.5 363.05,1171.5 363.30,1171.6 363.55,1171.6 363.80,1171.6 364.05,1171.6 364.30,1171.6 364.55,1171.6 364.80,1171.6 365.05,1171.6 365.30,1171.6 365.55,1171.6 365.80,1171.6 366.05,1171.6 366.30,1171.6 366.55,1171.6 366.80,1171.6 367.05,1171.6 367.30,1171.6 367.55,1171.6 367.80,1171.6 368.05,1171.6 368.30,1171.6 368.55,1171.6 368.80,1171.6 369.05,1171.6 369.30,1171.6 369.55,1171.6 369.80,1171.6 370.05,1171.6 370.30,1171.6 370.55,1171.6 370.80,1171.6 371.05,1171.6 371.30,1171.6 371.55,1171.6 371.80,1171.7 372.05,1171.7 372.30,1171.7 372.55,1171.7 372.80,1171.7 373.05,1171.7 373.30,1171.7 373.55,1171.7 373.80,1171.7 374.05,1171.7 374.30,1171.7 374.55,1171.7 374.80,1171.7 375.05,1171.7 375.30,1171.7 375.55,1171.7 375.80,1171.7 376.05,1171.7 376.30,1171.7 376.55,1171.7 376.80,1171.7 377.05,1171.7 377.30,1171.7 377.55,1171.7 377.80,1171.7 378.05,1171.7 378.30,1171.7 378.55,1171.7 378.80,1171.7 379.05,1171.7 379.30,1171.7 379.55,1171.7 379.80,1171.7 380.05,1171.8 380.30,1171.8 380.55,1171.8 380.80,1171.8 381.05,1171.8 381.30,1171.8 381.55,1171.8 381.80,1171.8 382.05,1171.8 382.30,1171.8 382.55,1171.8 382.80,1171.8 383.05,1171.8 383.30,1171.8 383.55,1171.8 383.80,1171.8 384.05,1171.8 384.30,1171.8 384.55,1171.8 384.80,1171.8 385.05,1171.8 385.30,1171.8 385.55,1171.8 385.80,1171.8 386.05,1171.8 386.30,1171.8 386.55,1171.8 386.80,1171.8 387.05,1171.8 387.30,1171.8 387.55,1171.8 387.80,1171.8 388.05,1171.8 388.30,1171.9 388.55,1171.9 388.80,1171.9 389.05,1171.9 389.30,1171.9 389.55,1171.9 389.80,1171.9 390.05,1171.9 390.30,1171.9 390.55,1171.9 390.80,1171.9 391.05,1171.9 391.30,1171.9 391.55,1171.9 391.80,1171.9 392.05,1171.9 392.30,1171.9 392.55,1171.9 392.80,1171.9 393.05,1171.9 393.30,1171.9 393.55,1171.9 393.80,1171.9 394.05,1171.9 394.30,1171.9 394.55,1171.9 394.80,1171.9 395.05,1171.9 395.30,1171.9 395.55,1171.9 395.80,1171.9 396.05,1171.9 396.30,1171.9 396.55,1171.9 396.80,1172.0 397.05,1172.0 397.30,1172.0 397.55,1172.0 397.80,1172.0 398.05,1172.0 398.30,1172.0 398.55,1172.0 398.80,1172.0 399.05,1172.0 399.30,1172.0 399.55,1172.0 399.80,1172.0 400.05,1172.0 400.30,1172.0 400.55,1172.0 400.80,1172.0 401.05,1172.0 401.30,1172.0 401.55,1172.0 401.80,1172.0 402.05,1172.0 402.30,1172.0 402.55,1172.0 402.80,1172.0 403.05,1172.0 403.30,1172.0 403.55,1172.0 403.80,1172.0 404.05,1172.0 404.30,1172.0 404.55,1172.0 404.80,1172.0 405.05,1172.0 405.30,1172.0 405.55,1172.0 405.80,1172.0 406.05,1172.0 406.30,1172.0 406.55,1172.1 406.80,1172.1 407.05,1172.1 407.30,1172.1 407.55,1172.1 407.80,1172.1 408.05,1172.1 408.30,1172.1 408.55,1172.1 408.80,1172.1 409.05,1172.1 409.30,1172.1 409.55,1172.1 409.80,1172.1 410.05,1172.1 410.30,1172.1 410.55,1172.1 410.80,1172.1 411.05,1172.1 411.30,1172.1 411.55,1172.1 411.80,1172.1 412.05,1172.1 412.30,1172.1 412.55,1172.1 412.80,1172.1 413.05,1172.1 413.30,1172.1 413.55,1172.1 413.80,1172.1 414.05,1172.1 414.30,1172.1 414.55,1172.1 414.80,1172.1 415.05,1172.1 415.30,1172.1 415.55,1172.1 415.80,1172.1 416.05,1172.1 416.30,1172.1 416.55,1172.1 416.80,1172.1 417.05,1172.1 417.30,1172.2 417.55,1172.2 417.80,1172.2 418.05,1172.2 418.30,1172.2 418.55,1172.2 418.80,1172.2 419.05,1172.2 419.30,1172.2 419.55,1172.2 419.80,1172.2 420.05,1172.2 420.30,1172.2 420.55,1172.2 420.80,1172.2 421.05,1172.2 421.30,1172.2 421.55,1172.2 421.80,1172.2 422.05,1172.2 422.30,1172.2 422.55,1172.2 422.80,1172.2 423.05,1172.2 423.30,1172.2 423.55,1172.2 423.80,1172.2 424.05,1172.2 424.30,1172.2 424.55,1172.2 424.80,1172.2 425.05,1172.2 425.30,1172.2 425.55,1172.2 425.80,1172.2 426.05,1172.2 426.30,1172.2 426.55,1172.2 426.80,1172.2 427.05,1172.2 427.30,1172.2 427.55,1172.2 427.80,1172.2 428.05,1172.3 428.30,1172.3 428.55,1172.3 428.80,1172.3 429.05,1172.3 429.30,1172.3 429.55,1172.3 429.80,1172.3 430.05,1172.3 430.30,1172.3 430.55,1172.3 430.80,1172.3 431.05,1172.3 431.30,1172.3 431.55,1172.3 431.80,1172.3 432.05,1172.3 432.30,1172.3 432.55,1172.3 432.80,1172.3 433.05,1172.3 433.30,1172.3 433.55,1172.3 433.80,1172.3 434.05,1172.3 434.30,1172.3 434.55,1172.3 434.80,1172.3 435.05,1172.3 435.30,1172.3 435.55,1172.3 435.80,1172.3 436.05,1172.3 436.30,1172.3 436.55,1172.3 436.80,1172.3 437.05,1172.3 437.30,1172.3 437.55,1172.3 437.80,1172.3 438.05,1172.3 438.30,1172.3 438.55,1172.3 438.80,1172.4 439.05,1172.4 439.30,1172.4 439.55,1172.4 439.80,1172.4 440.05,1172.4 440.30,1172.4 440.55,1172.4 440.80,1172.4 441.05,1172.4 441.30,1172.4 441.55,1172.4 441.80,1172.4 442.05,1172.4 442.30,1172.4 442.55,1172.4 442.80,1172.4 443.05,1172.4 443.30,1172.4 443.55,1172.4 443.80,1172.4 444.05,1172.4 444.30,1172.4 444.55,1172.4 444.80,1172.4 445.05,1172.4 445.30,1172.4 445.55,1172.4 445.80,1172.4 446.05,1172.4 446.30,1172.4 446.55,1172.4 446.80,1172.4 447.05,1172.4 447.30,1172.4 447.55,1172.4 447.80,1172.4 448.05,1172.4 448.30,1172.4 448.55,1172.4 448.80,1172.4 449.05,1172.4 449.30,1172.4 449.55,1172.5 449.80,1172.5 450.05,1172.5 450.30,1172.5 450.55,1172.5 450.80,1172.5 451.05,1172.5 451.30,1172.5 451.55,1172.5 451.80,1172.5 452.05,1172.5 452.30,1172.5 452.55,1172.5 452.80,1172.5 453.05,1172.5 453.30,1172.5 453.55,1172.5 453.80,1172.5 454.05,1172.5 454.30,1172.5 454.55,1172.5 454.80,1172.5 455.05,1172.5 455.30,1172.5 455.55,1172.5 455.80,1172.5 456.05,1172.5 456.30,1172.5 456.55,1172.5 456.80,1172.5 457.05,1172.5 457.30,1172.5 457.55,1172.5 457.80,1172.5 458.05,1172.5 458.30,1172.5 458.55,1172.5 458.80,1172.5 459.05,1172.5 459.30,1172.5 459.55,1172.5 459.80,1172.5 460.05,1172.5 460.30,1172.6 460.55,1172.6 460.80,1172.6 461.05,1172.6 461.30,1172.6 461.55,1172.6 461.80,1172.6 462.05,1172.6 462.30,1172.6 462.55,1172.6 462.80,1172.6 463.05,1172.6 463.30,1172.6 463.55,1172.6 463.80,1172.6 464.05,1172.6 464.30,1172.6 464.55,1172.6 464.80,1172.6 465.05,1172.6 465.30,1172.6 465.55,1172.6 465.80,1172.6 466.05,1172.6 466.30,1172.6 466.55,1172.6 466.80,1172.6 467.05,1172.6 467.30,1172.6 467.55,1172.6 467.80,1172.6 468.05,1172.6 468.30,1172.6 468.55,1172.6 468.80,1172.6 469.05,1172.6 469.30,1172.6 469.55,1172.6 469.80,1172.6 470.05,1172.6 470.30,1172.6 470.55,1172.6 470.80,1172.6 471.05,1172.7 471.30,1172.7 471.55,1172.7 471.80,1172.7 472.05,1172.7 472.30,1172.7 472.55,1172.7 472.80,1172.7 473.05,1172.7 473.30,1172.7 473.55,1172.7 473.80,1172.7 474.05,1172.7 474.30,1172.7 474.55,1172.7 474.80,1172.7 475.05,1172.7 475.30,1172.7 475.55,1172.7 475.80,1172.7 476.05,1172.7 476.30,1172.7 476.55,1172.7 476.80,1172.7 477.05,1172.7 477.30,1172.7 477.55,1172.7 477.80,1172.7 478.05,1172.7 478.30,1172.7 478.55,1172.7 478.80,1172.7 479.05,1172.7 479.30,1172.7 479.55,1172.7 479.80,1172.7 480.05,1172.7 480.30,1172.7 480.55,1172.7 480.80,1172.7 481.05,1172.7 481.30,1172.7 481.55,1172.7 481.80,1172.8 482.05,1172.8 482.30,1172.8 482.55,1172.8 482.80,1172.8 483.05,1172.8 483.30,1172.8 483.55,1172.8 483.80,1172.8 484.05,1172.8 484.30,1172.8 484.55,1172.8 484.80,1172.8 485.05,1172.8 485.30,1172.8 485.55,1172.8 485.80,1172.8 486.05,1172.8 486.30,1172.8 486.55,1172.8 486.80,1172.8 487.05,1172.8 487.30,1172.8 487.55,1172.8 487.80,1172.8 488.05,1172.8 488.30,1172.8 488.55,1172.8 488.80,1172.8 489.05,1172.8 489.30,1172.8 489.55,1172.8 489.80,1172.8 490.05,1172.8 490.30,1172.8 490.55,1172.8 490.80,1172.8 491.05,1172.8 491.30,1172.8 491.55,1172.8 491.80,1172.8 492.05,1172.8 492.30,1172.8 492.55,1172.8 492.80,1172.9 493.05,1172.9 493.30,1172.9 493.55,1172.9 493.80,1172.9 494.05,1172.9 494.30,1172.9 494.55,1172.9 494.80,1172.9 495.05,1172.9 495.30,1172.9 495.55,1172.9 495.80,1172.9 496.05,1172.9 496.30,1172.9 496.55,1172.9 496.80,1172.9 497.05,1172.9 497.30,1172.9 497.55,1172.9 497.80,1172.9 498.05,1172.9 498.30,1172.9 498.55,1172.9 498.80,1172.9 499.05,1172.9 499.30,1172.9 499.55,1172.9 499.80,1172.9 500.05,1172.9 500.30,1172.9 500.55,1172.9 500.80,1172.9 501.05,1172.9 501.30,1172.9 501.55,1172.9 501.80,1156.6 502.05,1155.7 502.30,1154.8 502.55,1153.8 502.80,1152.7 503.05,1151.5 503.30,1150.2 503.55,1148.8 503.80,1147.2 504.05,1145.5 504.30,1143.6 504.55,1141.5 504.80,1139.2 505.05,1136.6 505.30,1133.7 505.55,1130.5 505.80,1126.9 506.05,1122.7 506.30,1118.0 506.55,1112.7 506.80,1106.5 507.05,1099.3 507.30,1091.0 507.55,1081.2 507.80,1069.6 508.05,1055.8 508.30,1039.1 508.55,1018.9 508.80,994.2 509.05,963.5 509.30,925.1 509.55,876.9 509.80,815.8 510.05,738.7 510.30,642.7 510.55,527.7 510.80,400.2 511.05,279.1 511.30,196.2 511.47,178.2 511.55,182.2 511.80,243.0 512.05,354.4 512.30,482.6 512.55,603.4 512.80,706.5 513.05,790.1 513.30,856.6 513.55,909.2 513.80,950.8 514.05,984.0 514.30,1010.8 514.55,1032.5 514.80,1050.4 515.05,1065.2 515.30,1077.6 515.55,1088.0 515.80,1096.9 516.05,1104.5 516.30,1111.1 516.55,1116.8 516.80,1121.8 517.05,1126.1 517.30,1130.0 517.55,1133.4 517.80,1136.5 518.05,1139.3 518.30,1141.7 518.55,1144.0 518.80,1146.0 519.05,1147.9 519.30,1149.6 519.55,1151.1 519.80,1152.5 520.05,1153.8 520.30,1155.1 520.55,1156.2 520.80,1157.2 521.05,1158.2 521.30,1159.1 521.55,1160.0 521.80,1160.8 522.05,1161.6 522.30,1162.3 522.55,1163.0 522.80,1163.6 523.05,1164.3 523.30,1164.8 523.55,1165.4 523.80,1165.9 524.05,1166.5 524.30,1167.0 524.55,1167.4 524.80,1167.9 525.05,1168.3 525.30,1168.8 525.55,1169.2 525.80,1169.6 526.05,1170.0 526.30,1170.4 526.55,1170.8 526.80,1171.1 527.05,1171.5 527.30,1171.8 527.55,1172.2 527.80,1172.5 528.05,1172.9 528.30,1173.2 528.55,1173.2 528.80,1173.2 529.05,1173.2 529.30,1173.2 529.55,1173.2 529.80,1173.2 530.05,1173.2 530.30,1173.2 530.55,1173.2 530.80,1173.2 531.05,1173.2 531.30,1173.2 531.55,1173.2 531.80,1173.2 532.05,1173.2 532.30,1173.2 532.55,1173.2 532.80,1173.2 533.05,1173.2 533.30,1173.2 533.55,1173.2 533.80,1173.2 534.05,1173.2 534.30,1173.2 534.55,1173.2 534.80,1173.2 535.05,1173.2 535.30,1173.2 535.55,1173.2 535.80,1173.2 536.05,1173.3 536.30,1173.3 536.55,1173.3 536.80,1173.3 537.05,1173.3 537.30,1173.3 537.55,1173.3 537.80,1173.3 538.05,1173.3 538.30,1173.3 538.55,1173.3 538.80,1173.3 539.05,1173.3 539.30,1173.3 539.55,1173.3 539.80,1173.3 540.05,1173.3 540.30,1173.3 540.55,1173.3 540.80,1173.3 541.05,1173.3 541.30,1173.3 541.55,1173.3 541.80,1173.3 542.05,1173.3 542.30,1173.3 542.55,1173.3 542.80,1173.3 543.05,1173.3 543.30,1173.3 543.55,1173.3 543.80,1173.3 544.05,1173.3 544.30,1173.3 544.55,1173.3 544.80,1173.3 545.05,1173.3 545.30,1173.3 545.55,1173.3 545.80,1173.3 546.05,1173.3 546.30,1173.3 546.55,1173.3 546.80,1173.3 547.05,1173.4 547.30,1173.4 547.55,1173.4 547.80,1173.4 548.05,1173.4 548.30,1173.4 548.55,1173.4 548.80,1173.4 549.05,1173.4 549.30,1173.4 549.55,1173.4 549.80,1173.4 550.05,1173.4 550.30,1173.4 550.55,1173.4 550.80,1173.4 551.05,1173.4 551.30,1173.4 551.55,1173.4 551.80,1173.4 552.05,1173.4 552.30,1173.4 552.55,1173.4 552.80,1173.4 553.05,1173.4 553.30,1173.4 553.55,1173.4 553.80,1173.4 554.05,1173.4 554.30,1173.4 554.55,1173.4 554.80,1173.4 555.05,1173.4 555.30,1173.4 555.55,1173.4 555.80,1173.4 556.05,1173.4 556.30,1173.4 556.55,1173.4 556.80,1173.4 557.05,1173.4 557.30,1173.4 557.55,1173.4 557.80,1173.4 558.05,1173.4 558.30,1173.4 558.55,1173.4 558.80,1173.4 559.05,1173.4 559.30,1173.4 559.55,1173.4 559.80,1173.4 560.05,1173.4 560.30,1173.4 560.55,1173.4 560.80,1173.4 561.05,1173.4 561.30,1173.4 561.55,1173.4 561.80,1173.4 562.05,1173.4 562.30,1173.4 562.55,1173.4 562.80,1173.5 563.05,1173.5 563.30,1173.5 563.55,1173.5 563.80,1173.5 564.05,1173.5 564.30,1173.5 564.55,1173.5 564.80,1173.5 565.05,1173.5 565.30,1173.5 565.55,1173.5 565.80,1173.5 566.05,1173.5 566.30,1173.5 566.55,1173.5 566.80,1173.5 567.05,1173.5 567.30,1173.5 567.55,1173.5 567.80,1173.5 568.05,1173.5 568.30,1173.5 568.55,1173.5 568.80,1173.5 569.05,1173.5 569.30,1173.5 569.55,1173.5 569.80,1173.5 570.05,1173.5 570.30,1173.5 570.55,1173.5 570.80,1173.5 571.05,1173.5 571.30,1173.5 571.55,1173.5 571.80,1173.5 572.05,1173.5 572.30,1173.5 572.55,1173.5 572.80,1173.5 573.05,1173.5 573.30,1173.5 573.55,1173.5 573.80,1173.5 574.05,1173.5 574.30,1173.5 574.55,1173.5 574.80,1173.5 575.05,1173.5 575.30,1173.5 575.55,1173.5 575.80,1173.5 576.05,1173.5 576.30,1173.5 576.55,1173.5 576.80,1173.5 577.05,1173.5 577.30,1173.5 577.55,1173.5 577.80,1173.5 578.05,1173.5 578.30,1173.5 578.55,1173.5 578.80,1173.5 579.05,1173.5 579.30,1173.5 579.55,1173.5 579.80,1173.5 580.05,1173.5 580.30,1173.5 580.55,1173.6 580.80,1173.6 581.05,1173.6 581.30,1173.6 581.55,1173.6 581.80,1173.6 582.05,1173.6 582.30,1173.6 582.55,1173.6 582.80,1173.6 583.05,1173.6 583.30,1173.6 583.55,1173.6 583.80,1173.6 584.05,1173.6 584.30,1173.6 584.55,1173.6 584.80,1173.6 585.05,1173.6 585.30,1173.6 585.55,1173.6 585.80,1173.6 586.05,1173.6 586.30,1173.6 586.55,1173.6 586.80,1173.6 587.05,1173.6 587.30,1173.6 587.55,1173.6 587.80,1173.6 588.05,1173.6 588.30,1173.6 588.55,1173.6 588.80,1173.6 589.05,1173.6 589.30,1173.6 589.55,1173.6 589.80,1173.6 590.05,1173.6 590.30,1173.6 590.55,1173.6 590.80,1173.6 591.05,1173.6 591.30,1173.6 591.55,1173.6 591.80,1173.6 592.05,1173.6 592.30,1173.6 592.55,1173.6 592.80,1173.6 593.05,1173.6 593.30,1173.6 593.55,1173.6 593.80,1173.6 594.05,1173.6 594.30,1173.6 594.55,1173.6 594.80,1173.6 595.05,1173.6 595.30,1173.6 595.55,1173.6 595.80,1173.6 596.05,1173.6 596.30,1173.6 596.55,1173.6 596.80,1173.6 597.05,1173.6 597.30,1173.6 597.55,1173.6 597.80,1173.6 598.05,1173.6 598.30,1173.6 598.55,1173.6 598.80,1173.7 599.05,1173.7 599.30,1173.7 599.55,1173.7 599.80,1173.7 600.05,1173.7 600.30,1173.7 600.55,1173.7 600.80,1173.7 601.05,1173.7 601.30,1173.7 601.55,1173.7 601.80,1173.7 602.05,1173.7 602.30,1173.7 602.55,1173.7 602.80,1173.7 603.05,1173.7 603.30,1173.7 603.55,1173.7 603.80,1173.7 604.05,1173.7 604.30,1173.7 604.55,1173.7 604.80,1173.7 605.05,1173.7 605.30,1173.7 605.55,1173.7 605.80,1173.7 606.05,1173.7 606.30,1173.7 606.55,1173.7 606.80,1173.7 607.05,1173.7 607.30,1173.7 607.55,1173.7 607.80,1173.7 608.05,1173.7 608.30,1173.7 608.55,1173.7 608.80,1173.7 609.05,1173.7 609.30,1173.7 609.55,1173.7 609.80,1173.7 610.05,1173.7 610.30,1173.7 610.55,1173.7 610.80,1173.7 611.05,1173.7 611.30,1173.7 611.55,1173.7 611.80,1173.7 612.05,1173.7 612.30,1173.7 612.55,1173.7 612.80,1173.7 613.05,1173.7 613.30,1173.7 613.55,1173.7 613.80,1173.7 614.05,1173.7 614.30,1173.7 614.55,1173.7 614.80,1173.7 615.05,1173.7 615.30,1173.7 615.55,1173.7 615.80,1173.7 616.05,1173.7 616.30,1173.7 616.55,1173.7 616.80,1173.7 617.05,1173.7 617.30,1173.7 617.55,1173.7 617.80,1173.7 618.05,1173.7 618.30,1173.8 618.55,1173.8 618.80,1173.8 619.05,1173.8 619.30,1173.8 619.55,1173.8 619.80,1173.8 620.05,1173.8 620.30,1173.8 620.55,1173.8 620.80,1173.8 621.05,1173.8 621.30,1173.8 621.55,1173.8 621.80,1173.8 622.05,1173.8 622.30,1173.8 622.55,1173.8 622.80,1173.8 623.05,1173.8 623.30,1173.8 623.55,1173.8 623.80,1173.8 624.05,1173.8 624.30,1173.8 624.55,1173.8 624.80,1173.8 625.05,1173.8 625.30,1173.8 625.55,1173.8 625.80,1173.8 626.05,1173.8 626.30,1173.8 626.55,1173.8 626.80,1173.8 627.05,1173.8 627.30,1173.8 627.55,1173.8 627.80,1173.8 628.05,1173.8 628.30,1173.8 628.55,1173.8 628.80,1173.8 629.05,1173.8 629.30,1173.8 629.55,1173.8 629.80,1173.8 630.05,1173.8 630.30,1173.8 630.55,1173.8 630.80,1173.8 631.05,1173.8 631.30,1173.8 631.55,1173.8 631.80,1173.8 632.05,1173.8 632.30,1173.8 632.55,1173.8 632.80,1173.8 633.05,1173.8 633.30,1173.8 633.55,1173.8 633.80,1173.8 634.05,1173.8 634.30,1173.8 634.55,1173.8 634.80,1173.8 635.05,1173.8 635.30,1173.8 635.55,1173.8 635.80,1173.8 636.05,1173.8 636.30,1173.8 636.55,1173.8 636.80,1173.8 637.05,1173.8 637.30,1173.8 637.55,1173.8 637.80,1173.8 638.05,1173.8 638.30,1173.8 638.55,1173.8 638.80,1173.8 639.05,1173.8 639.30,1173.8 639.55,1173.8 639.80,1173.8 640.05,1173.8 640.30,1173.8 640.55,1173.8 640.80,1173.8 641.05,1173.8 641.30,1173.8 641.55,1173.8 641.80,1173.8 642.05,1173.8 642.30,1173.8 642.55,1173.8 642.80,1173.8 643.05,1173.8 643.30,1173.8 643.55,1173.8 643.80,1173.8 644.05,1173.8 644.30,1173.8 644.55,1173.9 644.80,1173.9 645.05,1173.9 645.30,1173.9 645.55,1173.9 645.80,1173.9 646.05,1173.9 646.30,1173.9 646.55,1173.9 646.80,1173.9 647.05,1173.9 647.30,1173.9 647.55,1173.9 647.80,1173.9 648.05,1173.9 648.30,1173.9 648.55,1173.9 648.80,1173.9 649.05,1173.9 649.30,1173.9 649.55,1173.9 649.80,1173.9 650.05,1173.9 650.30,1173.9 650.55,1173.9 650.80,1173.9 651.05,1173.9 651.30,1173.9 651.55,1173.9 651.80,1173.9 652.05,1173.9 652.30,1173.9 652.55,1173.9 652.80,1173.9 653.05,1173.9 653.30,1173.9 653.55,1173.9 653.80,1173.9 654.05,1173.9 654.30,1173.9 654.55,1173.9 654.80,1173.9 655.05,1173.9 655.30,1173.9 655.55,1173.9 655.80,1173.9 656.05,1173.9 656.30,1173.9 656.55,1173.9 656.80,1173.9 657.05,1173.9 657.30,1173.9 657.55,1173.9 657.80,1173.9 658.05,1173.9 658.30,1173.9 658.55,1173.9 658.80,1173.9 659.05,1173.9 659.30,1173.9 659.55,1173.8 659.80,1173.8 660.05,1173.8 660.30,1173.8 660.55,1173.8 660.80,1173.8 661.05,1173.8 661.30,1173.8 661.55,1173.8 661.80,1173.8 662.05,1173.8 662.30,1173.8 662.55,1173.8 662.80,1173.8 663.05,1173.8 663.30,1173.8 663.55,1173.8 663.80,1173.8 664.05,1173.8 664.30,1173.8 664.55,1173.8 664.80,1173.8 665.05,1173.8 665.30,1173.8 665.55,1173.8 665.80,1173.8 666.05,1173.8 666.30,1173.8 666.55,1173.8 666.80,1173.8 667.05,1173.8 667.30,1173.8 667.55,1173.8 667.80,1173.8 668.05,1173.8 668.30,1173.8 668.55,1173.8 668.80,1173.8 669.05,1173.8 669.30,1173.8 669.55,1173.8 669.80,1173.8 670.05,1173.8 670.30,1173.8 670.55,1173.7 670.80,1173.7 671.05,1173.7 671.30,1173.7 671.55,1173.7 671.80,1173.7 672.05,1173.7 672.30,1173.7 672.55,1173.7 672.80,1173.7 673.05,1173.7 673.30,1173.7 673.55,1173.7 673.80,1173.7 674.05,1173.7 674.30,1173.7 674.55,1173.7 674.80,1173.6 675.05,1173.6 675.30,1173.6 675.55,1173.6 675.80,1173.6 676.05,1173.6 676.30,1173.6 676.55,1173.6 676.80,1173.6 677.05,1173.6 677.30,1173.6 677.55,1173.5 677.80,1173.5 678.05,1173.5 678.30,1173.5 678.55,1173.5 678.80,1173.5 679.05,1173.5 679.30,1173.4 679.55,1173.4 679.80,1173.4 680.05,1173.4 680.30,1173.4 680.55,1173.4 680.80,1173.3 681.05,1173.3 681.30,1173.3 681.55,1173.3 681.80,1173.3 682.05,1173.2 682.30,1173.2 682.55,1173.2 682.80,1173.2 683.05,1173.1 683.30,1173.1 683.55,1173.1 683.80,1173.0 684.05,1173.0 684.30,1173.0 684.55,1172.9 684.80,1172.9 685.05,1172.9 685.30,1172.8 685.55,1172.8 685.80,1172.7 686.05,1172.7 686.30,1172.6 686.55,1172.6 686.80,1172.5 687.05,1172.5 687.30,1172.4 687.55,1172.3 687.80,1172.3 688.05,1172.2 688.30,1172.1 688.55,1172.0 688.80,1171.9 689.05,1171.8 689.30,1171.7 689.55,1171.6 689.80,1171.5 690.05,1171.4 690.30,1171.2 690.55,1171.1 690.80,1170.9 691.05,1170.8 691.30,1170.6 691.55,1170.4 691.80,1170.2 692.05,1169.9 692.30,1169.7 692.55,1169.4 692.80,1169.1 693.05,1168.7 693.30,1168.4 693.55,1168.0 693.80,1167.5 694.05,1167.0 694.30,1166.5 694.55,1165.8 694.80,1165.1 695.05,1164.3 695.30,1163.5 695.55,1162.4 695.80,1161.3 696.05,1159.9 696.30,1158.4 696.55,1156.6 696.80,1154.4 697.05,1151.9 697.30,1148.9 697.55,1145.3 697.80,1141.0 698.05,1135.7 698.30,1129.2 698.55,1121.2 698.80,1111.4 699.05,1099.3 699.30,1084.6 699.55,1067.5 699.80,1048.7 700.05,1030.5 700.30,1016.3 700.55,1010.2 700.58,1010.2 700.80,1014.3 701.05,1027.1 701.30,1044.8 701.55,1063.7 701.80,1081.3 702.05,1096.4 702.30,1109.1 702.55,1119.4 702.80,1127.7 703.05,1134.5 703.30,1140.0 703.55,1144.5 703.80,1148.2 704.05,1151.3 704.30,1154.0 704.55,1156.2 704.80,1158.0 705.05,1159.6 705.30,1161.0 705.55,1162.2 705.80,1163.3 706.05,1164.2 706.30,1165.0 706.55,1165.7 706.80,1166.4 707.05,1166.9 707.30,1167.5 707.55,1167.9 707.80,1168.3 708.05,1168.7 708.30,1169.1 708.55,1169.4 708.80,1169.7 709.05,1169.9 709.30,1170.2 709.55,1170.4 709.80,1170.6 710.05,1170.8 710.30,1170.9 710.55,1171.1 710.80,1171.3 711.05,1171.4 711.30,1171.5 711.55,1171.6 711.80,1171.8 712.05,1171.9 712.30,1172.0 712.55,1172.1 712.80,1172.1 713.05,1172.2 713.30,1172.3 713.55,1172.4 713.80,1172.5 714.05,1172.5 714.30,1172.6 714.55,1172.6 714.80,1172.7 715.05,1172.8 715.30,1172.8 715.55,1172.8 715.80,1172.9 716.05,1172.9 716.30,1173.0 716.55,1173.0 716.80,1173.1 717.05,1173.1 717.30,1173.1 717.55,1173.2 717.80,1173.2 718.05,1173.2 718.30,1173.3 718.55,1173.3 718.80,1173.3 719.05,1173.3 719.30,1173.4 719.55,1173.4 719.80,1173.4 720.05,1173.4 720.30,1173.4 720.55,1173.5 720.80,1173.5 721.05,1173.5 721.30,1173.5 721.55,1173.5 721.80,1173.6 722.05,1173.6 722.30,1173.6 722.55,1173.6 722.80,1173.6 723.05,1173.6 723.30,1173.6 723.55,1173.7 723.80,1173.7 724.05,1173.7 724.30,1173.7 724.55,1173.7 724.80,1173.7 725.05,1173.7 725.30,1173.7 725.55,1173.8 725.80,1173.8 726.05,1173.8 726.30,1173.8 726.55,1173.8 726.80,1173.8 727.05,1173.8 727.30,1173.8 727.55,1173.8 727.80,1173.8 728.05,1173.8 728.30,1173.8 728.55,1173.9 728.80,1173.9 729.05,1173.9 729.30,1173.9 729.55,1173.9 729.80,1173.9 730.05,1173.9 730.30,1173.9 730.55,1173.9 730.80,1173.9 731.05,1173.9 731.30,1173.9 731.55,1173.9 731.80,1173.9 732.05,1173.9 732.30,1173.9 732.55,1174.0 732.80,1174.0 733.05,1174.0 733.30,1174.0 733.55,1174.0 733.80,1174.0 734.05,1174.0 734.30,1174.0 734.55,1174.0 734.80,1174.0 735.05,1174.0 735.30,1174.0 735.55,1174.0 735.80,1174.0 736.05,1174.0 736.30,1174.0 736.55,1174.0 736.80,1174.0 737.05,1174.0 737.30,1174.0 737.55,1174.0 737.80,1174.0 738.05,1174.0 738.30,1174.0 738.55,1174.0 738.80,1174.0 739.05,1174.0 739.30,1174.0 739.55,1174.0 739.80,1174.1 740.05,1174.1 740.30,1174.1 740.55,1174.1 740.80,1174.1 741.05,1174.1 741.30,1174.1 741.55,1174.1 741.80,1174.1 742.05,1174.1 742.30,1174.1 742.55,1174.1 742.80,1174.1 743.05,1174.1 743.30,1174.1 743.55,1174.1 743.80,1174.1 744.05,1174.1 744.30,1174.1 744.55,1174.1 744.80,1174.1 745.05,1174.1 745.30,1174.1 745.55,1174.1 745.80,1174.1 746.05,1174.1 746.30,1174.1 746.55,1174.1 746.80,1174.1 747.05,1174.1 747.30,1174.1 747.55,1174.1 747.80,1174.1 748.05,1174.1 748.30,1174.1 748.55,1174.1 748.80,1174.1 749.05,1174.1 749.30,1174.1 749.55,1174.1 749.80,1174.1 750.05,1174.1 750.30,1174.1 750.55,1174.1 750.80,1174.1 751.05,1174.1 751.30,1174.1 751.55,1174.1 751.80,1174.1 752.05,1174.1 752.30,1174.1 752.55,1174.1 752.80,1174.1 753.05,1174.1 753.30,1174.1 753.55,1174.1 753.80,1174.1 754.05,1174.1 754.30,1174.1 754.55,1174.1 754.80,1174.1 755.05,1174.1 755.30,1174.1 755.55,1174.1 755.80,1174.1 756.05,1174.1 756.30,1174.1 756.55,1174.1 756.80,1174.1 757.05,1174.1 757.30,1174.1 757.55,1174.1 757.80,1174.1 758.05,1174.2 758.30,1174.2 758.55,1174.2 758.80,1174.2 759.05,1174.2 759.30,1174.2 759.55,1174.2 759.80,1174.2 760.05,1174.2 760.30,1174.2 760.55,1174.2 760.80,1174.2 761.05,1174.2 761.30,1174.2 761.55,1174.2 761.80,1174.2 762.05,1174.2 762.30,1174.2 762.55,1174.2 762.80,1174.2 763.05,1174.2 763.30,1174.2 763.55,1174.2 763.80,1174.2 764.05,1174.2 764.30,1174.2 764.55,1174.2 764.80,1174.2 765.05,1174.2 765.30,1174.2 765.55,1174.2 765.80,1174.2 766.05,1174.2 766.30,1174.2 766.55,1174.2 766.80,1174.2 767.05,1174.2 767.30,1174.2 767.55,1174.2 767.80,1174.2 768.05,1174.2 768.30,1174.2 768.55,1174.2 768.80,1174.2 769.05,1174.2 769.30,1174.2 769.55,1174.2 769.80,1174.2 770.05,1174.2 770.30,1174.2 770.55,1174.2 770.80,1174.2 771.05,1174.2 771.30,1174.2 771.55,1174.2 771.80,1174.2 772.05,1174.2 772.30,1174.2 772.55,1174.2 772.80,1174.2 773.05,1174.2 773.30,1174.2 773.55,1174.2 773.80,1174.2 774.05,1174.2 774.30,1174.2 774.55,1174.2 774.80,1174.2 775.05,1174.2 775.30,1174.2 775.55,1174.2 775.80,1174.2 776.05,1174.2 776.30,1174.2 776.55,1174.2 776.80,1174.2 777.05,1174.2 777.30,1174.2 777.55,1174.2 777.80,1174.2 778.05,1174.2 778.30,1174.2 778.55,1174.2 778.80,1174.2 779.05,1174.2 779.30,1174.2 779.55,1174.2 779.80,1174.2 780.05,1174.2 780.30,1174.2 780.55,1174.2 780.80,1174.2 781.05,1174.2 781.30,1174.2 781.55,1174.2 781.80,1174.2 782.05,1174.2 782.30,1174.2 782.55,1174.2 782.80,1174.2 783.05,1174.2 783.30,1174.2 783.55,1174.2 783.80,1174.2 784.05,1174.2 784.30,1174.2 784.55,1174.2 784.80,1174.2 785.05,1174.2 785.30,1174.2 785.55,1174.2 785.80,1174.2 786.05,1174.2 786.30,1174.2 786.55,1174.2 786.80,1174.2 787.05,1174.2 787.30,1174.2 787.55,1174.2 787.80,1174.2 788.05,1174.2 788.30,1174.2 788.55,1174.2 788.80,1174.2 789.05,1174.2 789.30,1174.2 789.55,1174.2 789.80,1174.2 790.05,1174.2 790.30,1174.2 790.55,1174.2 790.80,1174.2 791.05,1174.2 791.30,1174.2 791.55,1174.2 791.80,1174.2 792.05,1174.2 792.30,1174.2 792.55,1174.2 792.80,1174.2 793.05,1174.2 793.30,1174.2 793.55,1174.2 793.80,1174.1 794.05,1174.1 794.30,1174.1 794.55,1174.1 794.80,1174.1 795.05,1174.1 795.30,1174.1 795.55,1174.1 795.80,1174.1 796.05,1174.1 796.30,1174.1 796.55,1174.1 796.80,1174.1 797.05,1174.1 797.30,1174.1 797.55,1174.1 797.80,1174.1 798.05,1174.1 798.30,1174.1 798.55,1174.1 798.80,1174.1 799.05,1174.1 799.30,1174.1 799.55,1174.1 799.80,1174.1 800.05,1174.1 800.30,1174.1 800.55,1174.1 800.80,1174.1 801.05,1174.1 801.30,1174.1 801.55,1174.1 801.80,1174.1 802.05,1174.1 802.30,1174.1 802.55,1174.1 802.80,1174.1 803.05,1174.1 803.30,1174.1 803.55,1174.1 803.80,1174.1 804.05,1174.1 804.30,1174.1 804.55,1174.1 804.80,1174.1 805.05,1174.1 805.30,1174.1 805.55,1174.1 805.80,1174.1 806.05,1174.1 806.30,1174.1 806.55,1174.1 806.80,1174.1 807.05,1174.1 807.30,1174.1 807.55,1174.1 807.80,1174.1 808.05,1174.1 808.30,1174.1 808.55,1174.1 808.80,1174.1 809.05,1174.1 809.30,1174.1 809.55,1174.1 809.80,1174.1 810.05,1174.1 810.30,1174.1 810.55,1174.1 810.80,1174.1 811.05,1174.1 811.30,1174.1 811.55,1174.1 811.80,1174.1 812.05,1174.1 812.30,1174.1 812.55,1174.1 812.80,1174.1 813.05,1174.1 813.30,1174.1 813.55,1174.1 813.80,1174.1 814.05,1174.1 814.30,1174.1 814.55,1174.1 814.80,1174.0 815.05,1174.0 815.30,1174.0 815.55,1174.0 815.80,1174.0 816.05,1174.0 816.30,1174.0 816.55,1174.0 816.80,1174.0 817.05,1174.0 817.30,1174.0 817.55,1174.0 817.80,1174.0 818.05,1174.0 818.30,1174.0 818.55,1174.0 818.80,1174.0 819.05,1174.0 819.30,1174.0 819.55,1174.0 819.80,1174.0 820.05,1174.0 820.30,1174.0 820.55,1174.0 820.80,1174.0 821.05,1174.0 821.30,1174.0 821.55,1174.0 821.80,1174.0 822.05,1174.0 822.30,1174.0 822.55,1174.0 822.80,1174.0 823.05,1174.0 823.30,1174.0 823.55,1173.9 823.80,1173.9 824.05,1173.9 824.30,1173.9 824.55,1173.9 824.80,1173.9 825.05,1173.9 825.30,1173.9 825.55,1173.9 825.80,1173.9 826.05,1173.9 826.30,1173.9 826.55,1173.9 826.80,1173.9 827.05,1173.9 827.30,1173.9 827.55,1173.9 827.80,1173.9 828.05,1173.9 828.30,1173.9 828.55,1173.8 828.80,1173.8 829.05,1173.8 829.30,1173.8 829.55,1173.8 829.80,1173.8 830.05,1173.8 830.30,1173.8 830.55,1173.8 830.80,1173.8 831.05,1173.8 831.30,1173.8 831.55,1173.8 831.80,1173.8 832.05,1173.7 832.30,1173.7 832.55,1173.7 832.80,1173.7 833.05,1173.7 833.30,1173.7 833.55,1173.7 833.80,1173.7 834.05,1173.7 834.30,1173.7 834.55,1173.7 834.80,1173.6 835.05,1173.6 835.30,1173.6 835.55,1173.6 835.80,1173.6 836.05,1173.6 836.30,1173.6 836.55,1173.6 836.80,1173.5 837.05,1173.5 837.30,1173.5 837.55,1173.5 837.80,1173.5 838.05,1173.5 838.30,1173.5 838.55,1173.4 838.80,1173.4 839.05,1173.4 839.30,1173.4 839.55,1173.4 839.80,1173.3 840.05,1173.3 840.30,1173.3 840.55,1173.3 840.80,1173.3 841.05,1173.2 841.30,1173.2 841.55,1173.2 841.80,1173.2 842.05,1173.1 842.30,1173.1 842.55,1173.1 842.80,1173.1 843.05,1173.0 843.30,1173.0 843.55,1173.0 843.80,1172.9 844.05,1172.9 844.30,1172.9 844.55,1172.8 844.80,1172.8 845.05,1172.7 845.30,1172.7 845.55,1172.7 845.80,1172.6 846.05,1172.6 846.30,1172.5 846.55,1172.5 846.80,1172.4 847.05,1172.4 847.30,1172.3 847.55,1172.2 847.80,1172.2 848.05,1172.1 848.30,1172.0 848.55,1171.9 848.80,1171.9 849.05,1171.8 849.30,1171.7 849.55,1171.6 849.80,1171.5 850.05,1171.4 850.30,1171.3 850.55,1171.2 850.80,1171.0 851.05,1170.9 851.30,1170.8 851.55,1170.6 851.80,1170.5 852.05,1170.3 852.30,1170.1 852.55,1169.9 852.80,1169.7 853.05,1169.5 853.30,1169.3 853.55,1169.0 853.80,1168.7 854.05,1168.4 854.30,1168.1 854.55,1167.8 854.80,1167.4 855.05,1167.0 855.30,1166.5 855.55,1166.0 855.80,1165.5 856.05,1164.9 856.30,1164.2 856.55,1163.5 856.80,1162.7 857.05,1161.8 857.30,1160.8 857.55,1159.7 857.80,1158.4 858.05,1157.0 858.30,1155.3 858.55,1153.5 858.80,1151.3 859.05,1148.8 859.30,1145.9 859.55,1142.4 859.80,1138.4 860.05,1133.6 860.30,1127.8 860.55,1120.8 860.80,1112.2 861.05,1101.8 861.30,1088.9 861.55,1073.0 861.80,1053.4 862.05,1029.9 862.30,1002.4 862.55,972.4 862.80,943.5 863.05,921.6 863.30,912.9 863.31,912.9 863.55,920.3 863.80,941.4 864.05,970.0 864.30,1000.0 864.55,1027.8 864.80,1051.7 865.05,1071.6 865.30,1087.7 865.55,1100.8 865.80,1111.5 866.05,1120.2 866.30,1127.3 866.55,1133.1 866.80,1138.0 867.05,1142.1 867.30,1145.6 867.55,1148.6 867.80,1151.1 868.05,1153.3 868.30,1155.2 868.55,1156.9 868.80,1158.3 869.05,1159.6 869.30,1160.7 869.55,1161.7 869.80,1162.7 870.05,1163.5 870.30,1164.2 870.55,1164.9 870.80,1165.5 871.05,1166.0 871.30,1166.5 871.55,1166.9 871.80,1167.4 872.05,1167.7 872.30,1168.1 872.55,1168.4 872.80,1168.7 873.05,1169.0 873.30,1169.2 873.55,1169.5 873.80,1169.7 874.05,1169.9 874.30,1170.1 874.55,1170.3 874.80,1170.5 875.05,1170.6 875.30,1170.8 875.55,1170.9 875.80,1171.0 876.05,1171.2 876.30,1171.3 876.55,1171.4 876.80,1171.5 877.05,1171.6 877.30,1171.7 877.55,1171.8 877.80,1171.9 878.05,1171.9 878.30,1172.0 878.55,1172.1 878.80,1172.2 879.05,1172.2 879.30,1172.3 879.55,1172.3 879.80,1172.4 880.05,1172.5 880.30,1172.5 880.55,1172.6 880.80,1172.6 881.05,1172.7 881.30,1172.7 881.55,1172.7 881.80,1172.8 882.05,1172.8 882.30,1172.9 882.55,1172.9 882.80,1172.9 883.05,1173.0 883.30,1173.0 883.55,1173.0 883.80,1173.1 884.05,1173.1 884.30,1173.1 884.55,1173.1 884.80,1173.2 885.05,1173.2 885.30,1173.2 885.55,1173.2 885.80,1173.3 886.05,1173.3 886.30,1173.3 886.55,1173.3 886.80,1173.4 887.05,1173.4 887.30,1173.4 887.55,1173.4 887.80,1173.4 888.05,1173.4 888.30,1173.5 888.55,1173.5 888.80,1173.5 889.05,1173.5 889.30,1173.5 889.55,1173.5 889.80,1173.5 890.05,1173.6 890.30,1173.6 890.55,1173.6 890.80,1173.6 891.05,1173.6 891.30,1173.6 891.55,1173.6 891.80,1173.6 892.05,1173.7 892.30,1173.7 892.55,1173.7 892.80,1173.7 893.05,1173.7 893.30,1173.7 893.55,1173.7 893.80,1173.7 894.05,1173.7 894.30,1173.7 894.55,1173.8 894.80,1173.8 895.05,1173.8 895.30,1173.8 895.55,1173.8 895.80,1173.8 896.05,1173.8 896.30,1173.8 896.55,1173.8 896.80,1173.8 897.05,1173.8 897.30,1173.8 897.55,1173.8 897.80,1173.8 898.05,1173.9 898.30,1173.9 898.55,1173.9 898.80,1173.9 899.05,1173.9 899.30,1173.9 899.55,1173.9 899.80,1173.9 900.05,1173.9 900.30,1173.9 900.55,1173.9 900.80,1173.9 901.05,1173.9 901.30,1173.9 901.55,1173.9 901.80,1173.9 902.05,1173.9 902.30,1173.9 902.55,1173.9 902.80,1173.9 903.05,1173.9 903.30,1173.9 903.55,1173.9 903.80,1174.0 904.05,1174.0 904.30,1174.0 904.55,1174.0 904.80,1174.0 905.05,1174.0 905.30,1174.0 905.55,1174.0 905.80,1174.0 906.05,1174.0 906.30,1174.0 906.55,1174.0 906.80,1174.0 907.05,1174.0 907.30,1174.0 907.55,1174.0 907.80,1174.0 908.05,1174.0 908.30,1174.0 908.55,1174.0 908.80,1174.0 909.05,1174.0 909.30,1174.0 909.55,1174.0 909.80,1174.0 910.05,1174.0 910.30,1174.0 910.55,1174.0 910.80,1174.0 911.05,1174.0 911.30,1174.0 911.55,1174.0 911.80,1174.0 912.05,1174.0 912.30,1174.0 912.55,1174.0 912.80,1174.0 913.05,1174.0 913.30,1174.0 913.55,1174.0 913.80,1174.0 914.05,1174.0 914.30,1174.0 914.55,1174.0 914.80,1174.0 915.05,1174.0 915.30,1174.0 915.55,1174.0 915.80,1174.0 916.05,1174.0 916.30,1174.0 916.55,1174.0 916.80,1174.0 917.05,1174.0 917.30,1174.0 917.55,1174.0 917.80,1174.0 918.05,1174.0 918.30,1174.0 918.55,1174.0 918.80,1174.0 919.05,1174.0 919.30,1174.0 919.55,1174.0 919.80,1174.0 920.05,1174.0 920.30,1174.0 920.55,1174.0 920.80,1174.0 921.05,1174.0 921.30,1174.0 921.55,1174.0 921.80,1174.0 922.05,1174.0 922.30,1174.0 922.55,1174.0 922.80,1174.0 923.05,1174.0 923.30,1174.1 923.55,1174.1 923.80,1174.1 924.05,1174.1 924.30,1174.1 924.55,1174.1 924.80,1174.1 925.05,1174.1 925.30,1174.1 925.55,1174.1 925.80,1174.1 926.05,1174.1 926.30,1174.1 926.55,1174.1 926.80,1174.1 927.05,1174.1 927.30,1174.1 927.55,1174.1 927.80,1174.1 928.05,1174.1 928.30,1174.1 928.55,1174.1 928.80,1174.1 929.05,1174.1 929.30,1174.1 929.55,1174.1 929.80,1174.1 930.05,1174.1 930.30,1174.1 930.55,1174.1 930.80,1174.1 931.05,1174.1 931.30,1174.1 931.55,1174.1 931.80,1174.1 932.05,1174.1 932.30,1174.1 932.55,1174.1 932.80,1174.1 933.05,1174.1 933.30,1174.1 933.55,1174.1 933.80,1174.1 934.05,1174.1 934.30,1174.0 934.55,1174.0 934.80,1174.0 935.05,1174.0 935.30,1174.0 935.55,1174.0 935.80,1174.0 936.05,1174.0 936.30,1174.0 936.55,1174.0 936.80,1174.0 937.05,1174.0 937.30,1174.0 937.55,1174.0 937.80,1174.0 938.05,1174.0 938.30,1174.0 938.55,1174.0 938.80,1174.0 939.05,1174.0 939.30,1174.0 939.55,1174.0 939.80,1174.0 940.05,1174.0 940.30,1174.0 940.55,1174.0 940.80,1174.0 941.05,1174.0 941.30,1174.0 941.55,1174.0 941.80,1174.0 942.05,1174.0 942.30,1174.0 942.55,1174.0 942.80,1174.0 943.05,1174.0 943.30,1174.0 943.55,1174.0 943.80,1174.0 944.05,1174.0 944.30,1174.0 944.55,1174.0 944.80,1174.0 945.05,1174.0 945.30,1174.0 945.55,1174.0 945.80,1174.0 946.05,1174.0 946.30,1174.0 946.55,1174.0 946.80,1174.0 947.05,1174.0 947.30,1174.0 947.55,1174.0 947.80,1174.0 948.05,1174.0 948.30,1174.0 948.55,1174.0 948.80,1174.0 949.05,1174.0 949.30,1174.0 949.55,1174.0 949.80,1174.0 950.05,1174.0 950.30,1174.0 950.55,1174.0 950.80,1174.0 951.05,1174.0 951.30,1174.0 951.55,1174.0 951.80,1174.0 952.05,1174.0 952.30,1174.0 952.55,1174.0 952.80,1174.0 953.05,1174.0 953.30,1174.0 953.55,1174.0 953.80,1174.0 954.05,1174.0 954.30,1174.0 954.55,1174.0 954.80,1174.0 955.05,1174.0 955.30,1174.0 955.55,1174.0 955.80,1174.0 956.05,1174.0 956.30,1174.0 956.55,1174.0 956.80,1174.0 957.05,1174.0 957.30,1174.0 957.55,1174.0 957.80,1174.0 958.05,1174.0 958.30,1174.0 958.55,1174.0 958.80,1174.0 959.05,1174.0 959.30,1174.0 959.55,1174.0 959.80,1174.0 960.05,1174.0 960.30,1174.0 960.55,1174.0 960.80,1174.0 961.05,1174.0 961.30,1174.0 961.55,1174.0 961.80,1174.0 962.05,1174.0 962.30,1174.0 962.55,1174.0 962.80,1174.0 963.05,1174.0 963.30,1174.0 963.55,1174.0 963.80,1174.0 964.05,1174.0 964.30,1174.0 964.55,1174.0 964.80,1174.0 965.05,1174.0 965.30,1174.0 965.55,1174.0 965.80,1174.0 966.05,1174.0 966.30,1174.0 966.55,1174.0 966.80,1174.0 967.05,1174.0 967.30,1174.0 967.55,1174.0 967.80,1174.0 968.05,1174.0 968.30,1174.0 968.55,1174.0 968.80,1174.0 969.05,1174.0 969.30,1174.0 969.55,1174.0 969.80,1174.0 970.05,1174.0 970.30,1174.0 970.55,1174.0 970.80,1174.0 971.05,1174.0 971.30,1174.0 971.55,1174.0 971.80,1174.0 972.05,1174.0 972.30,1174.0 972.55,1173.9 972.80,1173.9 973.05,1173.9 973.30,1173.9 973.55,1173.9 973.80,1173.9 974.05,1173.9 974.30,1173.9 974.55,1173.9 974.80,1173.9 975.05,1173.9 975.30,1173.9 975.55,1173.9 975.80,1173.9 976.05,1173.9 976.30,1173.9 976.55,1173.9 976.80,1173.9 977.05,1173.9 977.30,1173.9 977.55,1173.9 977.80,1173.9 978.05,1173.9 978.30,1173.9 978.55,1173.9 978.80,1173.9 979.05,1173.9 979.30,1173.9 979.55,1173.9 979.80,1173.9 980.05,1173.9 980.30,1173.9 980.55,1173.9 980.80,1173.9 981.05,1173.9 981.30,1173.9 981.55,1173.9 981.80,1173.9 982.05,1173.9 982.30,1173.9 982.55,1173.9 982.80,1173.9 983.05,1173.9 983.30,1173.9 983.55,1173.9 983.80,1173.9 984.05,1173.9 984.30,1173.9 984.55,1173.9 984.80,1173.9 985.05,1173.9 985.30,1173.9 985.55,1173.9 985.80,1173.9 986.05,1173.9 986.30,1173.9 986.55,1173.9 986.80,1173.9 987.05,1173.9 987.30,1173.9 987.55,1173.9 987.80,1173.9 988.05,1173.8 988.30,1173.8 988.55,1173.8 988.80,1173.8 989.05,1173.8 989.30,1173.8 989.55,1173.8 989.80,1173.8 990.05,1173.8 990.30,1173.8 990.55,1173.8 990.80,1173.8 991.05,1173.8 991.30,1173.8 991.55,1173.8 991.80,1173.8 992.05,1173.8 992.30,1173.8 992.55,1173.8 992.80,1173.8 993.05,1173.8 993.30,1173.8 993.55,1173.8 993.80,1173.8 994.05,1173.8 994.30,1173.7 994.55,1173.7 994.80,1173.7 995.05,1173.7 995.30,1173.7 995.55,1173.7 995.80,1173.7 996.05,1173.7 996.30,1173.7 996.55,1173.7 996.80,1173.7 997.05,1173.6 997.30,1173.6 997.55,1173.6 997.80,1173.6 998.05,1173.6 998.30,1173.6 998.55,1173.6 998.80,1173.5 999.05,1173.5 999.30,1173.5 999.55,1173.5 999.80,1173.5 1000.05,1173.4 1000.30,1173.4 1000.55,1173.4 1000.80,1173.3 1001.05,1173.3 1001.30,1173.3 1001.55,1173.2 1001.80,1173.2 1002.05,1173.1 1002.30,1173.1 1002.55,1173.0 1002.80,1172.9 1003.05,1172.8 1003.30,1172.7 1003.55,1172.6 1003.80,1172.5 1004.05,1172.3 1004.30,1172.1 1004.55,1171.9 1004.80,1171.7 1005.05,1171.3 1005.30,1171.0 1005.55,1170.5 1005.80,1169.9 1006.05,1169.2 1006.30,1168.3 1006.55,1167.1 1006.80,1165.5 1007.05,1163.4 1007.30,1160.6 1007.55,1156.8 1007.80,1152.1 1008.05,1146.9 1008.30,1142.5 1008.51,1141.1 1008.55,1141.2 1008.80,1143.7 1009.05,1148.5 1009.30,1153.7 1009.55,1158.1 1009.80,1161.6 1010.05,1164.1 1010.30,1166.1 1010.55,1167.5 1010.80,1168.6 1011.05,1169.5 1011.30,1170.1 1011.55,1170.6 1011.80,1171.1 1012.05,1171.4 1012.30,1171.7 1012.55,1172.0 1012.80,1172.2 1013.05,1172.3 1013.30,1172.5 1013.55,1172.6 1013.80,1172.7 1014.05,1172.8 1014.30,1172.9 1014.55,1173.0 1014.80,1173.0 1015.05,1173.1 1015.30,1173.1 1015.55,1173.2 1015.80,1173.2 1016.05,1173.3 1016.30,1173.3 1016.55,1173.3 1016.80,1173.4 1017.05,1173.4 1017.30,1173.4 1017.55,1173.4 1017.80,1173.4 1018.05,1173.5 1018.30,1173.5 1018.55,1173.5 1018.80,1173.5 1019.05,1173.5 1019.30,1173.5 1019.55,1173.5 1019.80,1173.6 1020.05,1173.6 1020.30,1173.6 1020.55,1173.6 1020.80,1173.6 1021.05,1173.6 1021.30,1173.6 1021.55,1173.6 1021.80,1173.6 1022.05,1173.6 1022.30,1173.6 1022.55,1173.6 1022.80,1173.6 1023.05,1173.6 1023.30,1173.7 1023.55,1173.7 1023.80,1173.7 1024.05,1173.7 1024.30,1173.7 1024.55,1173.7 1024.80,1173.7 1025.05,1173.7 1025.30,1173.7 1025.55,1173.7 1025.80,1173.7 1026.05,1173.7 1026.30,1173.7 1026.55,1173.7 1026.80,1173.7 1027.05,1173.7 1027.30,1173.7 1027.55,1173.7 1027.80,1173.7 1028.05,1173.7 1028.30,1173.7 1028.55,1173.7 1028.80,1173.7 1029.05,1173.7 1029.30,1173.7 1029.55,1173.7 1029.80,1173.7 1030.05,1173.7 1030.30,1173.7 1030.55,1173.7 1030.80,1173.7 1031.05,1173.7 1031.30,1173.7 1031.55,1173.7 1031.80,1173.7 1032.05,1173.7 1032.30,1173.7 1032.55,1173.7 1032.80,1173.7 1033.05,1173.7 1033.30,1173.7 1033.55,1173.7 1033.80,1173.7 1034.05,1173.7 1034.30,1173.7 1034.55,1173.7 1034.80,1173.7 1035.05,1173.7 1035.30,1173.7 1035.55,1173.7 1035.80,1173.7 1036.05,1173.7 1036.30,1173.7 1036.55,1173.7 1036.80,1173.7 1037.05,1173.7 1037.30,1173.7 1037.55,1173.7 1037.80,1173.7 1038.05,1173.7 1038.30,1173.7 1038.55,1173.7 1038.80,1173.7 1039.05,1173.7 1039.30,1173.7 1039.55,1173.7 1039.80,1173.7 1040.05,1173.7 1040.30,1173.7 1040.55,1173.7 1040.80,1173.7 1041.05,1173.7 1041.30,1173.7 1041.55,1173.7 1041.80,1173.7 1042.05,1173.7 1042.30,1173.7 1042.55,1173.7 1042.80,1173.7 1043.05,1173.7 1043.30,1173.7 1043.55,1173.7 1043.80,1173.7 1044.05,1173.7 1044.30,1173.7 1044.55,1173.7 1044.80,1173.7 1045.05,1173.7 1045.30,1173.7 1045.55,1173.7 1045.80,1173.7 1046.05,1173.7 1046.30,1173.7 1046.55,1173.7 1046.80,1173.7 1047.05,1173.7 1047.30,1173.7 1047.55,1173.7 1047.80,1173.7 1048.05,1173.7 1048.30,1173.7 1048.55,1173.7 1048.80,1173.7 1049.05,1173.7 1049.30,1173.7 1049.55,1173.7 1049.80,1173.7 1050.05,1173.7 1050.30,1173.7 1050.55,1173.7 1050.80,1173.7 1051.05,1173.7 1051.30,1173.7 1051.55,1173.7 1051.80,1173.7 1052.05,1173.7 1052.30,1173.7 1052.55,1173.7 1052.80,1173.7 1053.05,1173.7 1053.30,1173.7 1053.55,1173.7 1053.80,1173.7 1054.05,1173.6 1054.30,1173.6 1054.55,1173.6 1054.80,1173.6 1055.05,1173.6 1055.30,1173.6 1055.55,1173.6 1055.80,1173.6 1056.05,1173.6 1056.30,1173.6 1056.55,1173.6 1056.80,1173.6 1057.05,1173.6 1057.30,1173.6 1057.55,1173.6 1057.80,1173.6 1058.05,1173.6 1058.30,1173.6 1058.55,1173.6 1058.80,1173.6 1059.05,1173.6 1059.30,1173.6 1059.55,1173.6 1059.80,1173.6 1060.05,1173.6 1060.30,1173.6 1060.55,1173.6 1060.80,1173.6 1061.05,1173.6 1061.30,1173.6 1061.55,1173.6 1061.80,1173.6 1062.05,1173.6 1062.30,1173.6 1062.55,1173.6 1062.80,1173.6 1063.05,1173.6 1063.30,1173.6 1063.55,1173.6 1063.80,1173.6 1064.05,1173.6 1064.30,1173.6 1064.55,1173.6 1064.80,1173.6 1065.05,1173.6 1065.30,1173.6 1065.55,1173.6 1065.80,1173.6 1066.05,1173.6 1066.30,1173.6 1066.55,1173.6 1066.80,1173.6 1067.05,1173.6 1067.30,1173.6 1067.55,1173.6 1067.80,1173.6 1068.05,1173.6 1068.30,1173.6 1068.55,1173.6 1068.80,1173.6 1069.05,1173.6 1069.30,1173.6 1069.55,1173.6 1069.80,1173.6 1070.05,1173.6 1070.30,1173.6 1070.55,1173.6 1070.80,1173.6 1071.05,1173.6 1071.30,1173.6 1071.55,1173.6 1071.80,1173.6 1072.05,1173.6 1072.30,1173.6 1072.55,1173.6 1072.80,1173.6 1073.05,1173.5 1073.30,1173.5 1073.55,1173.5 1073.80,1173.5 1074.05,1173.5 1074.30,1173.5 1074.55,1173.5 1074.80,1173.5 1075.05,1173.5 1075.30,1173.5 1075.55,1173.5 1075.80,1173.5 1076.05,1173.5 1076.30,1173.5 1076.55,1173.5 1076.80,1173.5 1077.05,1173.5 1077.30,1173.5 1077.55,1173.5 1077.80,1173.5 1078.05,1173.5 1078.30,1173.5 1078.55,1173.5 1078.80,1173.5 1079.05,1173.5 1079.30,1173.5 1079.55,1173.5 1079.80,1173.5 1080.05,1173.5 1080.30,1173.5 1080.55,1173.5 1080.80,1173.5 1081.05,1173.5 1081.30,1173.5 1081.55,1173.5 1081.80,1173.5 1082.05,1173.5 1082.30,1173.5 1082.55,1173.5 1082.80,1173.5 1083.05,1173.5 1083.30,1173.5 1083.55,1173.5 1083.80,1173.5 1084.05,1173.5 1084.30,1173.5 1084.55,1173.5 1084.80,1173.5 1085.05,1173.5 1085.30,1173.5 1085.55,1173.5 1085.80,1173.5 1086.05,1173.4 1086.30,1173.4 1086.55,1173.4 1086.80,1173.4 1087.05,1173.4 1087.30,1173.4 1087.55,1173.4 1087.80,1173.4 1088.05,1173.4 1088.30,1173.4 1088.55,1173.4 1088.80,1173.4 1089.05,1173.4 1089.30,1173.4 1089.55,1173.4 1089.80,1173.4 1090.05,1173.4 1090.30,1173.4 1090.55,1173.4 1090.80,1173.4 1091.05,1173.4 1091.30,1173.4 1091.55,1173.4 1091.80,1173.4 1092.05,1173.4 1092.30,1173.4 1092.55,1173.4 1092.80,1173.4 1093.05,1173.4 1093.30,1173.4 1093.55,1173.4 1093.80,1173.4 1094.05,1173.4 1094.30,1173.4 1094.55,1173.4 1094.80,1173.4 1095.05,1173.3 1095.30,1173.3 1095.55,1173.3 1095.80,1173.3 1096.05,1173.3 1096.30,1173.3 1096.55,1173.3 1096.80,1173.3 1097.05,1173.3 1097.30,1173.3 1097.55,1173.3 1097.80,1173.3 1098.05,1173.3 1098.30,1173.3 1098.55,1173.3 1098.80,1173.3 1099.05,1173.3 1099.30,1173.3 1099.55,1173.3 1099.80,1173.3 1100.05,1173.3 1100.30,1173.3 1100.55,1173.3 1100.80,1173.3 1101.05,1173.3 1101.30,1173.3 1101.55,1173.2 1101.80,1173.2 1102.05,1173.2 1102.30,1173.2 1102.55,1173.2 1102.80,1173.2 1103.05,1173.2 1103.30,1173.2 1103.55,1173.2 1103.80,1173.2 1104.05,1173.2 1104.30,1173.2 1104.55,1173.2 1104.80,1173.2 1105.05,1173.2 1105.30,1173.2 1105.55,1173.2 1105.80,1173.2 1106.05,1173.2 1106.30,1173.2 1106.55,1173.2 1106.80,1173.1 1107.05,1173.1 1107.30,1173.1 1107.55,1173.1 1107.80,1173.1 1108.05,1173.1 1108.30,1173.1 1108.55,1173.1 1108.80,1173.1 1109.05,1173.1 1109.30,1173.1 1109.55,1173.1 1109.80,1173.1 1110.05,1173.1 1110.30,1173.0 1110.55,1173.0 1110.80,1173.0 1111.05,1173.0 1111.30,1173.0 1111.55,1173.0 1111.80,1173.0 1112.05,1173.0 1112.30,1173.0 1112.55,1173.0 1112.80,1173.0 1113.05,1173.0 1113.30,1172.9 1113.55,1172.9 1113.80,1172.9 1114.05,1172.9 1114.30,1172.9 1114.55,1172.9 1114.80,1172.9 1115.05,1172.9 1115.30,1172.9 1115.55,1172.8 1115.80,1172.8 1116.05,1172.8 1116.30,1172.8 1116.55,1172.8 1116.80,1172.8 1117.05,1172.8 1117.30,1172.7 1117.55,1172.7 1117.80,1172.7 1118.05,1172.7 1118.30,1172.7 1118.55,1172.7 1118.80,1172.6 1119.05,1172.6 1119.30,1172.6 1119.55,1172.6 1119.80,1172.6 1120.05,1172.5 1120.30,1172.5 1120.55,1172.5 1120.80,1172.5 1121.05,1172.5 1121.30,1172.4 1121.55,1172.4 1121.80,1172.4 1122.05,1172.4 1122.30,1172.3 1122.55,1172.3 1122.80,1172.3 1123.05,1172.2 1123.30,1172.2 1123.55,1172.2 1123.80,1172.1 1124.05,1172.1 1124.30,1172.1 1124.55,1172.0 1124.80,1172.0 1125.05,1172.0 1125.30,1171.9 1125.55,1171.9 1125.80,1171.8 1126.05,1171.8 1126.30,1171.7 1126.55,1171.7 1126.80,1171.6 1127.05,1171.6 1127.30,1171.5 1127.55,1171.4 1127.80,1171.4 1128.05,1171.3 1128.30,1171.2 1128.55,1171.2 1128.80,1171.1 1129.05,1171.0 1129.30,1170.9 1129.55,1170.9 1129.80,1170.8 1130.05,1170.7 1130.30,1170.6 1130.55,1170.5 1130.80,1170.3 1131.05,1170.2 1131.30,1170.1 1131.55,1170.0 1131.80,1169.8 1132.05,1169.7 1132.30,1169.5 1132.55,1169.3 1132.80,1169.2 1133.05,1169.0 1133.30,1168.8 1133.55,1168.6 1133.80,1168.3 1134.05,1168.1 1134.30,1167.8 1134.55,1167.5 1134.80,1167.2 1135.05,1166.9 1135.30,1166.5 1135.55,1166.1 1135.80,1165.7 1136.05,1165.3 1136.30,1164.8 1136.55,1164.2 1136.80,1163.6 1137.05,1163.0 1137.30,1162.2 1137.55,1161.5 1137.80,1160.6 1138.05,1159.6 1138.30,1158.5 1138.55,1157.3 1138.80,1155.9 1139.05,1154.4 1139.30,1152.6 1139.55,1150.6 1139.80,1148.4 1140.05,1145.7 1140.30,1142.7 1140.55,1139.2 1140.80,1135.0 1141.05,1130.1 1141.30,1124.3 1141.55,1117.3 1141.80,1109.0 1142.05,1098.8 1142.30,1086.5 1142.55,1071.5 1142.80,1053.3 1143.05,1031.6 1143.30,1006.2 1143.55,978.0 1143.80,949.1 1144.05,923.9 1144.30,907.8 1144.47,904.4 1144.55,905.1 1144.80,916.8 1145.05,939.4 1145.30,967.5 1145.55,996.3 1145.80,1022.8 1146.05,1045.9 1146.30,1065.4 1146.55,1081.4 1146.80,1094.7 1147.05,1105.5 1147.30,1114.5 1147.55,1121.9 1147.80,1128.1 1148.05,1133.3 1148.30,1137.7 1148.55,1141.5 1148.80,1144.7 1149.05,1147.4 1149.30,1149.8 1149.55,1151.9 1149.80,1153.8 1150.05,1155.4 1150.30,1156.8 1150.55,1158.1 1150.80,1159.2 1151.05,1160.2 1151.30,1161.1 1151.55,1162.0 1151.80,1162.7 1152.05,1163.4 1152.30,1164.0 1152.55,1164.5 1152.80,1165.1 1153.05,1165.5 1153.30,1166.0 1153.55,1166.4 1153.80,1166.7 1154.05,1167.1 1154.30,1167.4 1154.55,1167.7 1154.80,1168.0 1155.05,1168.2 1155.30,1168.4 1155.55,1168.7 1155.80,1168.9 1156.05,1169.1 1156.30,1169.3 1156.55,1169.4 1156.80,1169.6 1157.05,1169.7 1157.30,1169.9 1157.55,1170.0 1157.80,1170.1 1158.05,1170.3 1158.30,1170.4 1158.55,1170.5 1158.80,1170.6 1159.05,1170.7 1159.30,1170.8 1159.55,1170.9 1159.80,1171.0 1160.05,1171.0 1160.30,1171.1 1160.55,1171.2 1160.80,1171.3 1161.05,1171.3 1161.30,1171.4 1161.55,1171.4 1161.80,1171.5 1162.05,1171.6 1162.30,1171.6 1162.55,1171.7 1162.80,1171.7 1163.05,1171.8 1163.30,1171.8 1163.55,1171.8 1163.80,1171.9 1164.05,1171.9 1164.30,1172.0 1164.55,1172.0 1164.80,1172.0 1165.05,1172.1 1165.30,1172.1 1165.55,1172.1 1165.80,1172.2 1166.05,1172.2 1166.30,1172.2 1166.55,1172.3 1166.80,1172.3 1167.05,1172.3 1167.30,1172.3 1167.55,1172.4 1167.80,1172.4 1168.05,1172.4 1168.30,1172.4 1168.55,1172.5 1168.80,1172.5 1169.05,1172.5 1169.30,1172.5 1169.55,1172.5 1169.80,1172.6 1170.05,1172.6 1170.30,1172.6 1170.55,1172.6 1170.80,1172.6 1171.05,1172.6 1171.30,1172.7 1171.55,1172.7 1171.80,1172.7 1172.05,1172.7 1172.30,1172.7 1172.55,1172.7 1172.80,1172.7 1173.05,1172.8 1173.30,1172.8 1173.55,1172.8 1173.80,1172.8 1174.05,1172.8 1174.30,1172.8 1174.55,1172.8 1174.80,1172.8 1175.05,1172.8 1175.30,1172.9 1175.55,1172.9 1175.80,1172.9 1176.05,1172.9 1176.30,1172.9 1176.55,1172.9 1176.80,1172.9 1177.05,1172.9 1177.30,1172.9 1177.55,1172.9 1177.80,1172.9 1178.05,1172.9 1178.30,1173.0 1178.55,1173.0 1178.80,1173.0 1179.05,1173.0 1179.30,1173.0 1179.55,1173.0 1179.80,1173.0 1180.05,1173.0 1180.30,1173.0 1180.55,1173.0 1180.80,1173.0 1181.05,1173.0 1181.30,1173.0 1181.55,1173.0 1181.80,1173.0 1182.05,1173.1 1182.30,1173.1 1182.55,1173.1 1182.80,1173.1 1183.05,1173.1 1183.30,1173.1 1183.55,1173.1 1183.80,1173.1 1184.05,1173.1 1184.30,1173.1 1184.55,1173.1 1184.80,1173.1 1185.05,1173.1 1185.30,1173.1 1185.55,1173.1 1185.80,1173.1 1186.05,1173.1 1186.30,1173.1 1186.55,1173.1 1186.80,1173.1 1187.05,1173.1 1187.30,1173.1 1187.55,1173.1 1187.80,1173.1 1188.05,1173.2 1188.30,1173.2 1188.55,1173.2 1188.80,1173.2 1189.05,1173.2 1189.30,1173.2 1189.55,1173.2 1189.80,1173.2 1190.05,1173.2 1190.30,1173.2 1190.55,1173.2 1190.80,1173.2 1191.05,1173.2 1191.30,1173.2 1191.55,1173.2 1191.80,1173.2 1192.05,1173.2 1192.30,1173.2 1192.55,1173.2 1192.80,1173.2 1193.05,1173.2 1193.30,1173.2 1193.55,1173.2 1193.80,1173.2 1194.05,1173.2 1194.30,1173.2 1194.55,1173.2 1194.80,1173.2 1195.05,1173.2 1195.30,1173.2 1195.55,1173.2 1195.80,1173.2 1196.05,1173.2 1196.30,1173.2 1196.55,1173.2 1196.80,1173.2 1197.05,1173.2 1197.30,1173.2 1197.55,1173.2 1197.80,1173.2 1198.05,1173.2 1198.30,1173.2 1198.55,1173.3 1198.80,1173.3 1199.05,1173.3 1199.30,1173.3 1199.55,1173.3 1199.80,1173.3 1200.05,1173.3 1200.30,1173.3 1200.55,1173.3 1200.80,1173.3 1201.05,1173.3 1201.30,1173.3 1201.55,1173.3 1201.80,1173.3 1202.05,1173.3 1202.30,1173.3 1202.55,1173.3 1202.80,1173.3 1203.05,1173.3 1203.30,1173.3 1203.55,1173.3 1203.80,1173.3 1204.05,1173.3 1204.30,1173.3 1204.55,1173.3 1204.80,1173.3 1205.05,1173.3 1205.30,1173.3 1205.55,1173.3 1205.80,1173.3 1206.05,1173.3 1206.30,1173.3 1206.55,1173.3 1206.80,1173.3 1207.05,1173.3 1207.30,1173.3 1207.55,1173.3 1207.80,1173.3 1208.05,1173.3 1208.30,1173.3 1208.55,1173.3 1208.80,1173.3 1209.05,1173.3 1209.30,1173.3 1209.55,1173.3 1209.80,1173.3 1210.05,1173.3 1210.30,1173.3 1210.55,1173.3 1210.80,1173.3 1211.05,1173.3 1211.30,1173.3 1211.55,1173.3 1211.80,1173.3 1212.05,1173.3 1212.30,1173.3 1212.55,1173.3 1212.80,1173.3 1213.05,1173.3 1213.30,1173.3 1213.55,1173.3 1213.80,1173.3 1214.05,1173.3 1214.30,1173.3 1214.55,1173.3 1214.80,1173.3 1215.05,1173.3 1215.30,1173.3 1215.55,1173.3 1215.80,1173.3 1216.05,1173.3 1216.30,1173.3 1216.55,1173.3 1216.80,1173.3 1217.05,1173.3 1217.30,1173.3 1217.55,1173.3 1217.80,1173.3 1218.05,1173.3 1218.30,1173.3 1218.55,1173.3 1218.80,1173.3 1219.05,1173.3 1219.30,1173.3 1219.55,1173.3 1219.80,1173.3 1220.05,1173.3 1220.30,1173.3 1220.55,1173.3 1220.80,1173.3 1221.05,1173.3 1221.30,1173.3 1221.55,1173.3 1221.80,1173.3 1222.05,1173.3 1222.30,1173.3 1222.55,1173.3 1222.80,1173.3 1223.05,1173.3 1223.30,1173.3 1223.55,1173.3 1223.80,1173.3 1224.05,1173.3 1224.30,1173.3 1224.55,1173.3 1224.80,1173.3 1225.05,1173.3 1225.30,1173.3 1225.55,1173.3 1225.80,1173.3 1226.05,1173.3 1226.30,1173.3 1226.55,1173.3 1226.80,1173.3 1227.05,1173.3 1227.30,1173.3 1227.55,1173.3 1227.80,1173.3 1228.05,1173.3 1228.30,1173.3 1228.55,1173.3 1228.80,1173.3 1229.05,1173.3 1229.30,1173.3 1229.55,1173.3 1229.80,1173.3 1230.05,1173.3 1230.30,1173.3 1230.55,1173.3 1230.80,1173.3 1231.05,1173.3 1231.30,1173.3 1231.55,1173.3 1231.80,1173.3 1232.05,1173.3 1232.30,1173.3 1232.55,1173.3 1232.80,1173.3 1233.05,1173.3 1233.30,1173.3 1233.55,1173.3 1233.80,1173.3 1234.05,1173.3 1234.30,1173.3 1234.55,1173.3 1234.80,1173.3 1235.05,1173.3 1235.30,1173.3 1235.55,1173.3 1235.80,1173.3 1236.05,1173.3 1236.30,1173.3 1236.55,1173.3 1236.80,1173.3 1237.05,1173.3 1237.30,1173.3 1237.55,1173.3 1237.80,1173.3 1238.05,1173.3 1238.30,1173.3 1238.55,1173.3 1238.80,1173.3 1239.05,1173.3 1239.30,1173.3 1239.55,1173.3 1239.80,1173.3 1240.05,1173.3 1240.30,1173.3 1240.55,1173.3 1240.80,1173.3 1241.05,1173.3 1241.30,1173.3 1241.55,1173.3 1241.80,1173.3 1242.05,1173.3 1242.30,1173.3 1242.55,1173.3 1242.80,1173.3 1243.05,1173.3 1243.30,1173.3 1243.55,1173.3 1243.80,1173.3 1244.05,1173.3 1244.30,1173.3 1244.55,1173.3 1244.80,1173.3 1245.05,1173.3 1245.30,1173.3 1245.55,1173.3 1245.80,1173.3 1246.05,1173.3 1246.30,1173.3 1246.55,1173.3 1246.80,1173.3 1247.05,1173.3 1247.30,1173.3 1247.55,1173.3 1247.80,1173.3 1248.05,1173.3 1248.30,1173.3 1248.55,1173.3 1248.80,1173.3 1249.05,1173.3 1249.30,1173.3 1249.55,1173.3 1249.80,1173.3 1250.05,1173.3 1250.30,1173.3 1250.55,1173.3 1250.80,1173.3 1251.05,1173.3 1251.30,1173.3 1251.55,1173.3 1251.80,1173.3 1252.05,1173.3 1252.30,1173.3 1252.55,1173.3 1252.80,1173.3 1253.05,1173.3 1253.30,1173.3 1253.55,1173.3 1253.80,1173.3 1254.05,1173.3 1254.30,1173.3 1254.55,1173.3 1254.80,1173.3 1255.05,1173.3 1255.30,1173.3 1255.55,1173.3 1255.80,1173.3 1256.05,1173.3 1256.30,1173.3 1256.55,1173.3 1256.80,1173.3 1257.05,1173.3 1257.30,1173.3 1257.55,1173.3 1257.80,1173.3 1258.05,1173.3 1258.30,1173.3 1258.55,1173.3 1258.80,1173.3 1259.05,1173.3 1259.30,1173.3 1259.55,1173.3 1259.80,1173.3 1260.05,1173.3 1260.30,1173.3 1260.55,1173.3 1260.80,1173.3 1261.05,1173.3 1261.30,1173.3 1261.55,1173.3 1261.80,1173.3 1262.05,1173.3 1262.30,1173.3 1262.55,1173.3 1262.80,1173.3 1263.05,1173.3 1263.30,1173.3 1263.55,1173.3 1263.80,1173.3 1264.05,1173.3 1264.30,1173.3 1264.55,1173.3 1264.80,1173.3 1265.05,1173.3 1265.30,1173.3 1265.55,1173.3 1265.80,1173.3 1266.05,1173.3 1266.30,1173.3 1266.55,1173.3 1266.80,1173.3 1267.05,1173.3 1267.30,1173.3 1267.55,1173.3 1267.80,1173.3 1268.05,1173.3 1268.30,1173.3 1268.55,1173.3 1268.80,1173.3 1269.05,1173.3 1269.30,1173.3 1269.55,1173.3 1269.80,1173.3 1270.05,1173.3 1270.30,1173.3 1270.55,1173.3 1270.80,1173.3 1271.05,1173.3 1271.30,1173.3 1271.55,1173.3 1271.80,1173.3 1272.05,1173.3 1272.30,1173.3 1272.55,1173.3 1272.80,1173.3 1273.05,1173.3 1273.30,1173.3 1273.55,1173.3 1273.80,1173.3 1274.05,1173.3 1274.30,1173.3 1274.55,1173.3 1274.80,1173.3 1275.05,1173.3 1275.30,1173.3 1275.55,1173.3 1275.80,1173.3 1276.05,1173.3 1276.30,1173.3 1276.55,1173.3 1276.80,1173.3 1277.05,1173.3 1277.30,1173.3 1277.55,1173.3 1277.80,1173.3 1278.05,1173.3 1278.30,1173.3 1278.55,1173.3 1278.80,1173.3 1279.05,1173.3 1279.30,1173.3 1279.55,1173.3 1279.80,1173.3 1280.05,1173.3 1280.30,1173.3 1280.55,1173.3 1280.80,1173.3 1281.05,1173.3 1281.30,1173.3 1281.55,1173.3 1281.80,1173.3 1282.05,1173.3 1282.30,1173.3 1282.55,1173.3 1282.80,1173.3 1283.05,1173.3 1283.30,1173.3 1283.55,1173.3 1283.80,1173.3 1284.05,1173.3 1284.30,1173.3 1284.55,1173.3 1284.80,1173.3 1285.05,1173.3 1285.30,1173.3 1285.55,1173.3 1285.80,1173.3 1286.05,1173.3 1286.30,1173.3 1286.55,1173.3 1286.80,1173.3 1287.05,1173.3 1287.30,1173.3 1287.55,1173.3 1287.80,1173.3 1288.05,1173.3 1288.30,1173.3 1288.55,1173.3 1288.80,1173.3 1289.05,1173.3 1289.30,1173.3 1289.55,1173.3 1289.80,1173.3 1290.05,1173.3 1290.30,1173.3 1290.55,1173.3 1290.80,1173.3 1291.05,1173.3 1291.30,1173.3 1291.55,1173.3 1291.80,1173.3 1292.05,1173.3 1292.30,1173.3 1292.55,1173.3 1292.80,1173.3 1293.05,1173.3 1293.30,1173.3 1293.55,1173.3 1293.80,1173.3 1294.05,1173.3 1294.30,1173.3 1294.55,1173.3 1294.80,1173.3 1295.05,1173.3 1295.30,1173.3 1295.55,1173.3 1295.80,1173.3 1296.05,1173.3 1296.30,1173.3 1296.55,1173.3 1296.80,1173.3 1297.05,1173.3 1297.30,1173.3 1297.55,1173.3 1297.80,1173.3 1298.05,1173.3 1298.30,1173.3 1298.55,1173.3 1298.80,1173.3 1299.05,1173.3 1299.30,1173.3 1299.55,1173.3 1299.80,1173.3 1300.05,1173.3 1300.30,1173.3 1300.55,1173.3 1300.80,1173.3 1301.05,1173.3 1301.30,1173.3 1301.55,1173.3 1301.80,1173.3 1302.05,1173.3 1302.30,1173.3 1302.55,1173.3 1302.80,1173.3 1303.05,1173.3 1303.30,1173.3 1303.55,1173.3 1303.80,1173.3 1304.05,1173.3 1304.30,1173.3 1304.55,1173.3 1304.80,1173.3 1305.05,1173.3 1305.30,1173.3 1305.55,1173.3 1305.80,1173.3 1306.05,1173.3 1306.30,1173.3 1306.55,1173.3 1306.80,1173.3 1307.05,1173.3 1307.30,1173.3 1307.55,1173.3 1307.80,1173.3 1308.05,1173.3 1308.30,1173.3 1308.55,1173.3 1308.80,1173.3 1309.05,1173.3 1309.30,1173.3 1309.55,1173.3 1309.80,1173.3 1310.05,1173.3 1310.30,1173.3 1310.55,1173.3 1310.80,1173.3 1311.05,1173.3 1311.30,1173.3 1311.55,1173.3 1311.80,1173.3 1312.05,1173.3 1312.30,1173.3 1312.55,1173.3 1312.80,1173.3 1313.05,1173.2 1313.30,1173.2 1313.55,1173.2 1313.80,1173.2 1314.05,1173.2 1314.30,1173.2 1314.55,1173.2 1314.80,1173.2 1315.05,1173.2 1315.30,1173.2 1315.55,1173.2 1315.80,1173.2 1316.05,1173.2 1316.30,1173.2 1316.55,1173.2 1316.80,1173.2 1317.05,1173.2 1317.30,1173.2 1317.55,1173.2 1317.80,1173.2 1318.05,1173.2 1318.30,1173.2 1318.55,1173.2 1318.80,1173.2 1319.05,1173.2 1319.30,1173.2 1319.55,1173.2 1319.80,1173.2 1320.05,1173.2 1320.30,1173.2 1320.55,1173.2 1320.80,1173.2 1321.05,1173.2 1321.30,1173.2 1321.55,1173.2 1321.80,1173.2 1322.05,1173.2 1322.30,1173.2 1322.55,1173.2 1322.80,1173.2 1323.05,1173.2 1323.30,1173.2 1323.55,1173.2 1323.80,1173.2 1324.05,1173.2 1324.30,1173.2 1324.55,1173.2 1324.80,1173.2 1325.05,1173.2 1325.30,1173.2 1325.55,1173.2 1325.80,1173.2 1326.05,1173.2 1326.30,1173.2 1326.55,1173.2 1326.80,1173.2 1327.05,1173.2 1327.30,1173.2 1327.55,1173.2 1327.80,1173.2 1328.05,1173.2 1328.30,1173.2 1328.55,1173.2 1328.80,1173.2 1329.05,1173.2 1329.30,1173.2 1329.55,1173.2 1329.80,1173.2 1330.05,1173.2 1330.30,1173.2 1330.55,1173.2 1330.80,1173.2 1331.05,1173.2 1331.30,1173.2 1331.55,1173.2 1331.80,1173.2 1332.05,1173.2 1332.30,1173.2 1332.55,1173.2 1332.80,1173.2 1333.05,1173.2 1333.30,1173.2 1333.55,1173.2 1333.80,1173.2 1334.05,1173.2 1334.30,1173.2 1334.55,1173.2 1334.80,1173.2 1335.05,1173.2 1335.30,1173.2 1335.55,1173.2 1335.80,1173.2 1336.05,1173.2 1336.30,1173.2 1336.55,1173.2 1336.80,1173.2 1337.05,1173.2 1337.30,1173.2 1337.55,1173.2 1337.80,1173.2 1338.05,1173.2 1338.30,1173.2 1338.55,1173.2 1338.80,1173.2 1339.05,1173.2 1339.30,1173.2 1339.55,1173.2 1339.80,1173.2 1340.05,1173.2 1340.30,1173.2 1340.55,1173.2 1340.80,1173.2 1341.05,1173.1 1341.30,1173.1 1341.55,1173.1 1341.80,1173.1 1342.05,1173.1 1342.30,1173.1 1342.55,1173.1 1342.80,1173.1 1343.05,1173.1 1343.30,1173.1 1343.55,1173.1 1343.80,1173.1 1344.05,1173.1 1344.30,1173.1 1344.55,1173.1 1344.80,1173.1 1345.05,1173.1 1345.30,1173.1 1345.55,1173.1 1345.80,1173.1 1346.05,1173.1 1346.30,1173.1 1346.55,1173.1 1346.80,1173.1 1347.05,1173.1 1347.30,1173.1 1347.55,1173.1 1347.80,1173.1 1348.05,1173.1 1348.30,1173.1 1348.55,1173.1 1348.80,1173.1 1349.05,1173.1 1349.30,1173.1 1349.55,1173.1 1349.80,1173.1 1350.05,1173.1 1350.30,1173.1 1350.55,1173.1 1350.80,1173.1 1351.05,1173.1 1351.30,1173.1 1351.55,1173.1 1351.80,1173.1 1352.05,1173.1 1352.30,1173.1 1352.55,1173.1 1352.80,1173.1 1353.05,1173.1 1353.30,1173.1 1353.55,1173.0 1353.80,1173.0 1354.05,1173.0 1354.30,1173.0 1354.55,1173.0 1354.80,1173.0 1355.05,1173.0 1355.30,1173.0 1355.55,1173.0 1355.80,1173.0 1356.05,1173.0 1356.30,1173.0 1356.55,1173.0 1356.80,1173.0 1357.05,1173.0 1357.30,1173.0 1357.55,1173.0 1357.80,1173.0 1358.05,1173.0 1358.30,1173.0 1358.55,1173.0 1358.80,1173.0 1359.05,1173.0 1359.30,1173.0 1359.55,1173.0 1359.80,1173.0 1360.05,1173.0 1360.30,1173.0 1360.55,1172.9 1360.80,1172.9 1361.05,1172.9 1361.30,1172.9 1361.55,1172.9 1361.80,1172.9 1362.05,1172.9 1362.30,1172.9 1362.55,1172.9 1362.80,1172.9 1363.05,1172.9 1363.30,1172.9 1363.55,1172.9 1363.80,1172.9 1364.05,1172.9 1364.30,1172.9 1364.55,1172.9 1364.80,1172.8 1365.05,1172.8 1365.30,1172.8 1365.55,1172.8 1365.80,1172.8 1366.05,1172.8 1366.30,1172.8 1366.55,1172.8 1366.80,1172.8 1367.05,1172.8 1367.30,1172.8 1367.55,1172.8 1367.80,1172.8 1368.05,1172.7 1368.30,1172.7 1368.55,1172.7 1368.80,1172.7 1369.05,1172.7 1369.30,1172.7 1369.55,1172.7 1369.80,1172.7 1370.05,1172.7 1370.30,1172.6 1370.55,1172.6 1370.80,1172.6 1371.05,1172.6 1371.30,1172.6 1371.55,1172.6 1371.80,1172.6 1372.05,1172.5 1372.30,1172.5 1372.55,1172.5 1372.80,1172.5 1373.05,1172.5 1373.30,1172.5 1373.55,1172.4 1373.80,1172.4 1374.05,1172.4 1374.30,1172.4 1374.55,1172.4 1374.80,1172.3 1375.05,1172.3 1375.30,1172.3 1375.55,1172.3 1375.80,1172.2 1376.05,1172.2 1376.30,1172.2 1376.55,1172.1 1376.80,1172.1 1377.05,1172.1 1377.30,1172.1 1377.55,1172.0 1377.80,1172.0 1378.05,1171.9 1378.30,1171.9 1378.55,1171.9 1378.80,1171.8 1379.05,1171.8 1379.30,1171.7 1379.55,1171.7 1379.80,1171.6 1380.05,1171.6 1380.30,1171.5 1380.55,1171.4 1380.80,1171.4 1381.05,1171.3 1381.30,1171.2 1381.55,1171.2 1381.80,1171.1 1382.05,1171.0 1382.30,1170.9 1382.55,1170.8 1382.80,1170.7 1383.05,1170.6 1383.30,1170.5 1383.55,1170.4 1383.80,1170.2 1384.05,1170.1 1384.30,1169.9 1384.55,1169.8 1384.80,1169.6 1385.05,1169.4 1385.30,1169.2 1385.55,1169.0 1385.80,1168.7 1386.05,1168.5 1386.30,1168.2 1386.55,1167.9 1386.80,1167.5 1387.05,1167.2 1387.30,1166.8 1387.55,1166.3 1387.80,1165.8 1388.05,1165.3 1388.30,1164.7 1388.55,1164.0 1388.80,1163.2 1389.05,1162.4 1389.30,1161.4 1389.55,1160.4 1389.80,1159.1 1390.05,1157.7 1390.30,1156.1 1390.55,1154.3 1390.80,1152.2 1391.05,1149.7 1391.30,1146.8 1391.55,1143.5 1391.80,1139.5 1392.05,1135.0 1392.30,1129.7 1392.55,1123.5 1392.80,1116.6 1393.05,1108.9 1393.30,1100.8 1393.55,1092.7 1393.80,1085.4 1394.05,1080.0 1394.30,1077.2 1394.39,1077.0 1394.55,1077.7 1394.80,1081.3 1395.05,1087.3 1395.30,1094.9 1395.55,1103.1 1395.80,1111.1 1396.05,1118.6 1396.30,1125.3 1396.55,1131.2 1396.80,1136.3 1397.05,1140.7 1397.30,1144.4 1397.55,1147.6 1397.80,1150.4 1398.05,1152.8 1398.30,1154.8 1398.55,1156.6 1398.80,1158.1 1399.05,1159.5 1399.30,1160.7 1399.55,1161.7 1399.80,1162.6 1400.05,1163.5 1400.30,1164.2 1400.55,1164.8 1400.80,1165.4 1401.05,1166.0 1401.30,1166.4 1401.55,1166.9 1401.80,1167.3 1402.05,1167.6 1402.30,1167.9 1402.55,1168.2 1402.80,1168.5 1403.05,1168.8 1403.30,1169.0 1403.55,1169.2 1403.80,1169.4 1404.05,1169.6 1404.30,1169.8 1404.55,1169.9 1404.80,1170.1 1405.05,1170.2 1405.30,1170.4 1405.55,1170.5 1405.80,1170.6 1406.05,1170.7 1406.30,1170.8 1406.55,1170.9 1406.80,1171.0 1407.05,1171.1 1407.30,1171.1 1407.55,1171.2 1407.80,1171.3 1408.05,1171.4 1408.30,1171.4 1408.55,1171.5 1408.80,1171.5 1409.05,1171.6 1409.30,1171.6 1409.55,1171.7 1409.80,1171.7 1410.05,1171.8 1410.30,1171.8 1410.55,1171.9 1410.80,1171.9 1411.05,1171.9 1411.30,1172.0 1411.55,1172.0 1411.80,1172.0 1412.05,1172.1 1412.30,1172.1 1412.55,1172.1 1412.80,1172.2 1413.05,1172.2 1413.30,1172.2 1413.55,1172.2 1413.80,1172.3 1414.05,1172.3 1414.30,1172.3 1414.55,1172.3 1414.80,1172.4 1415.05,1172.4 1415.30,1172.4 1415.55,1172.4 1415.80,1172.4 1416.05,1172.4 1416.30,1172.5 1416.55,1172.5 1416.80,1172.5 1417.05,1172.5 1417.30,1172.5 1417.55,1172.5 1417.80,1172.5 1418.05,1172.6 1418.30,1172.6 1418.55,1172.6 1418.80,1172.6 1419.05,1172.6 1419.30,1172.6 1419.55,1172.6 1419.80,1172.6 1420.05,1172.6 1420.30,1172.7 1420.55,1172.7 1420.80,1172.7 1421.05,1172.7 1421.30,1172.7 1421.55,1172.7 1421.80,1172.7 1422.05,1172.7 1422.30,1172.7 1422.55,1172.7 1422.80,1172.7 1423.05,1172.7 1423.30,1172.8 1423.55,1172.8 1423.80,1172.8 1424.05,1172.8 1424.30,1172.8 1424.55,1172.8 1424.80,1172.8 1425.05,1172.8 1425.30,1172.8 1425.55,1172.8 1425.80,1172.8 1426.05,1172.8 1426.30,1172.8 1426.55,1172.8 1426.80,1172.8 1427.05,1172.8 1427.30,1172.8 1427.55,1172.8 1427.80,1172.8 1428.05,1172.9 1428.30,1172.9 1428.55,1172.9 1428.80,1172.9 1429.05,1172.9 1429.30,1172.9 1429.55,1172.9 1429.80,1172.9 1430.05,1172.9 1430.30,1172.9 1430.55,1172.9 1430.80,1172.9 1431.05,1172.9 1431.30,1172.9 1431.55,1172.9 1431.80,1172.9 1432.05,1172.9 1432.30,1172.9 1432.55,1172.9 1432.80,1172.9 1433.05,1172.9 1433.30,1172.9 1433.55,1172.9 1433.80,1172.9 1434.05,1172.9 1434.30,1172.9 1434.55,1172.9 1434.80,1172.9 1435.05,1172.9 1435.30,1172.9 1435.55,1172.9 1435.80,1172.9 1436.05,1172.9 1436.30,1172.9 1436.55,1172.9 1436.80,1173.0 1437.05,1173.0 1437.30,1173.0 1437.55,1173.0 1437.80,1173.0 1438.05,1173.0 1438.30,1173.0 1438.55,1173.0 1438.80,1173.0 1439.05,1173.0 1439.30,1173.0 1439.55,1173.0 1439.80,1173.0 1440.05,1173.0 1440.30,1173.0 1440.55,1173.0 1440.80,1173.0 1441.05,1173.0 1441.30,1173.0 1441.55,1173.0 1441.80,1173.0 1442.05,1173.0 1442.30,1173.0 1442.55,1173.0 1442.80,1173.0 1443.05,1173.0 1443.30,1173.0 1443.55,1173.0 1443.80,1173.0 1444.05,1173.0 1444.30,1173.0 1444.55,1173.0 1444.80,1173.0 1445.05,1173.0 1445.30,1173.0 1445.55,1173.0 1445.80,1173.0 1446.05,1173.0 1446.30,1173.0 1446.55,1173.0 1446.80,1173.0 1447.05,1173.0 1447.30,1173.0 1447.55,1173.0 1447.80,1173.0 1448.05,1173.0 1448.30,1173.0 1448.55,1173.0 1448.80,1173.0 1449.05,1173.0 1449.30,1173.0 1449.55,1173.0 1449.80,1173.0 1450.05,1173.0 1450.30,1173.0 1450.55,1173.0 1450.80,1173.0 1451.05,1173.0 1451.30,1173.0 1451.55,1173.0 1451.80,1173.0 1452.05,1173.0 1452.30,1173.0 1452.55,1173.0 1452.80,1173.0 1453.05,1173.0 1453.30,1173.0 1453.55,1173.0 1453.80,1173.0 1454.05,1173.0 1454.30,1173.0 1454.55,1173.0 1454.80,1173.0 1455.05,1173.0 1455.30,1173.0 1455.55,1173.0 1455.80,1173.0 1456.05,1173.0 1456.30,1173.0 1456.55,1173.0 1456.80,1173.0 1457.05,1173.0 1457.30,1173.0 1457.55,1173.0 1457.80,1173.0 1458.05,1173.0 1458.30,1173.0 1458.55,1173.0 1458.80,1173.0 1459.05,1173.0 1459.30,1173.0 1459.55,1173.0 1459.80,1173.0 1460.05,1173.0 1460.30,1173.0 1460.55,1173.0 1460.80,1173.0 1461.05,1173.0 1461.30,1173.0 1461.55,1173.0 1461.80,1173.0 1462.05,1173.0 1462.30,1173.0 1462.55,1173.0 1462.80,1173.0 1463.05,1173.0 1463.30,1173.0 1463.55,1173.0 1463.80,1173.0 1464.05,1173.0 1464.30,1173.0 1464.55,1173.0 1464.80,1173.0 1465.05,1173.0 1465.30,1173.0 1465.55,1173.0 1465.80,1173.0 1466.05,1173.0 1466.30,1173.0 1466.55,1173.0 1466.80,1173.0 1467.05,1173.0 1467.30,1173.0 1467.55,1173.0 1467.80,1173.0 1468.05,1173.0 1468.30,1173.0 1468.55,1173.0 1468.80,1173.0 1469.05,1173.0 1469.30,1173.0 1469.55,1173.0 1469.80,1173.0 1470.05,1173.0 1470.30,1173.0 1470.55,1173.0 1470.80,1173.0 1471.05,1173.0 1471.30,1173.0 1471.55,1173.0 1471.80,1173.0 1472.05,1173.0 1472.30,1173.0 1472.55,1173.0 1472.80,1173.0 1473.05,1173.0 1473.30,1173.0 1473.55,1173.0 1473.80,1173.0 1474.05,1173.0 1474.30,1173.0 1474.55,1173.0 1474.80,1173.0 1475.05,1173.0 1475.30,1173.0 1475.55,1173.0 1475.80,1173.0 1476.05,1173.0 1476.30,1173.0 1476.55,1173.0 1476.80,1173.0 1477.05,1173.0 1477.30,1173.0 1477.55,1173.0 1477.80,1173.0 1478.05,1173.0 1478.30,1173.0 1478.55,1173.0 1478.80,1173.0 1479.05,1173.0 1479.30,1173.0 1479.55,1173.0 1479.80,1173.0 1480.05,1173.0 1480.30,1173.0 1480.55,1173.0 1480.80,1173.0 1481.05,1173.0 1481.30,1173.0 1481.55,1173.0 1481.80,1173.0 1482.05,1173.0 1482.30,1173.0 1482.55,1173.0 1482.80,1173.0 1483.05,1173.0 1483.30,1173.0 1483.55,1173.0 1483.80,1173.0 1484.05,1173.0 1484.30,1173.0 1484.55,1173.0 1484.80,1173.0 1485.05,1172.9 1485.30,1172.9 1485.55,1172.9 1485.80,1172.9 1486.05,1172.9 1486.30,1172.9 1486.55,1172.9 1486.80,1172.9 1487.05,1172.9 1487.30,1172.9 1487.55,1172.9 1487.80,1172.9 1488.05,1172.9 1488.30,1172.9 1488.55,1172.9 1488.80,1172.9 1489.05,1172.9 1489.30,1172.9 1489.55,1172.9 1489.80,1172.9 1490.05,1172.9 1490.30,1172.9 1490.55,1172.9 1490.80,1172.9 1491.05,1172.9 1491.30,1172.9 1491.55,1172.9 1491.80,1172.9 1492.05,1172.9 1492.30,1172.9 1492.55,1172.9 1492.80,1172.9 1493.05,1172.8 1493.30,1172.8 1493.55,1172.8 1493.80,1172.8 1494.05,1172.8 1494.30,1172.8 1494.55,1172.8 1494.80,1172.8 1495.05,1172.8 1495.30,1172.8 1495.55,1172.8 1495.80,1172.8 1496.05,1172.8 1496.30,1172.8 1496.55,1172.7 1496.80,1172.7 1497.05,1172.7 1497.30,1172.7 1497.55,1172.7 1497.80,1172.7 1498.05,1172.7 1498.30,1172.7 1498.55,1172.7 1498.80,1172.6 1499.05,1172.6 1499.30,1172.6 1499.55,1172.6 1499.80,1172.6 1500.05,1172.6 1500.30,1172.5 1500.55,1172.5 1500.80,1172.5 1501.05,1172.5 1501.30,1172.5 1501.55,1172.4 1501.80,1172.4 1502.05,1172.4 1502.30,1172.3 1502.55,1172.3 1502.80,1172.3 1503.05,1172.2 1503.30,1172.2 1503.55,1172.1 1503.80,1172.1 1504.05,1172.0 1504.30,1172.0 1504.55,1171.9 1504.80,1171.8 1505.05,1171.8 1505.30,1171.7 1505.55,1171.6 1505.80,1171.5 1506.05,1171.4 1506.30,1171.3 1506.55,1171.1 1506.80,1171.0 1507.05,1170.8 1507.30,1170.6 1507.55,1170.4 1507.80,1170.1 1508.05,1169.9 1508.30,1169.6 1508.55,1169.2 1508.80,1168.8 1509.05,1168.4 1509.30,1167.8 1509.55,1167.2 1509.80,1166.6 1510.05,1165.8 1510.30,1165.0 1510.55,1164.0 1510.80,1163.0 1511.05,1162.0 1511.30,1161.0 1511.55,1160.0 1511.80,1159.2 1512.05,1158.7 1512.30,1158.5 1512.31,1158.5 1512.55,1158.7 1512.80,1159.2 1513.05,1159.9 1513.30,1160.9 1513.55,1161.9 1513.80,1163.0 1514.05,1164.0 1514.30,1164.9 1514.55,1165.7 1514.80,1166.5 1515.05,1167.2 1515.30,1167.8 1515.55,1168.3 1515.80,1168.8 1516.05,1169.2 1516.30,1169.5 1516.55,1169.8 1516.80,1170.1 1517.05,1170.4 1517.30,1170.6 1517.55,1170.8 1517.80,1170.9 1518.05,1171.1 1518.30,1171.2 1518.55,1171.4 1518.80,1171.5 1519.05,1171.6 1519.30,1171.7 1519.55,1171.7 1519.80,1171.8 1520.05,1171.9 1520.30,1172.0 1520.55,1172.0 1520.80,1172.1 1521.05,1172.1 1521.30,1172.2 1521.55,1172.2 1521.80,1172.3 1522.05,1172.3 1522.30,1172.3 1522.55,1172.4 1522.80,1172.4 1523.05,1172.4 1523.30,1172.4 1523.55,1172.5 1523.80,1172.5 1524.05,1172.5 1524.30,1172.5 1524.55,1172.5 1524.80,1172.6 1525.05,1172.6 1525.30,1172.6 1525.55,1172.6 1525.80,1172.6 1526.05,1172.6 1526.30,1172.7 1526.55,1172.7 1526.80,1172.7 1527.05,1172.7 1527.30,1172.7 1527.55,1172.7 1527.80,1172.7 1528.05,1172.7 1528.30,1172.7 1528.55,1172.7 1528.80,1172.8 1529.05,1172.8 1529.30,1172.8 1529.55,1172.8 1529.80,1172.8 1530.05,1172.8 1530.30,1172.8 1530.55,1172.8 1530.80,1172.8 1531.05,1172.8 1531.30,1172.8 1531.55,1172.8 1531.80,1172.8 1532.05,1172.8 1532.30,1172.8 1532.55,1172.8 1532.80,1172.8 1533.05,1172.8 1533.30,1172.8 1533.55,1172.8 1533.80,1172.9 1534.05,1172.9 1534.30,1172.9 1534.55,1172.9 1534.80,1172.9 1535.05,1172.9 1535.30,1172.9 1535.55,1172.9 1535.80,1172.9 1536.05,1172.9 1536.30,1172.9 1536.55,1172.9 1536.80,1172.9 1537.05,1172.9 1537.30,1172.9 1537.55,1172.9 1537.80,1172.9 1538.05,1172.9 1538.30,1172.9 1538.55,1172.9 1538.80,1172.9 1539.05,1172.9 1539.30,1172.9 1539.55,1172.9 1539.80,1172.9 1540.05,1172.9 1540.30,1172.9 1540.55,1172.9 1540.80,1172.9 1541.05,1172.9 1541.30,1172.9 1541.55,1172.9 1541.80,1172.9 1542.05,1172.9 1542.30,1172.9 1542.55,1172.9 1542.80,1172.9 1543.05,1172.9 1543.30,1172.9 1543.55,1172.9 1543.80,1172.9 1544.05,1172.9 1544.30,1172.9 1544.55,1172.9 1544.80,1172.9 1545.05,1172.9 1545.30,1172.9 1545.55,1172.9 1545.80,1172.9 1546.05,1172.9 1546.30,1172.9 1546.55,1172.9 1546.80,1172.9 1547.05,1172.9 1547.30,1172.9 1547.55,1172.9 1547.80,1172.9 1548.05,1172.9 1548.30,1172.9 1548.55,1172.9 1548.80,1172.9 1549.05,1172.9 1549.30,1172.9 1549.55,1172.9 1549.80,1172.9 1550.05,1172.9 1550.30,1172.9 1550.55,1172.9 1550.80,1172.9 1551.05,1172.9 1551.30,1172.9 1551.55,1172.9 1551.80,1172.9 1552.05,1172.9 1552.30,1172.9 1552.55,1172.9 1552.80,1172.9 1553.05,1172.9 1553.30,1172.9 1553.55,1172.9 1553.80,1172.9 1554.05,1172.9 1554.30,1172.9 1554.55,1172.9 1554.80,1172.9 1555.05,1172.9 1555.30,1172.9 1555.55,1172.9 1555.80,1172.9 1556.05,1172.9 1556.30,1172.9 1556.55,1172.9 1556.80,1172.9 1557.05,1172.9 1557.30,1172.9 1557.55,1172.9 1557.80,1172.9 1558.05,1172.9 1558.30,1172.9 1558.55,1172.9 1558.80,1172.9 1559.05,1172.9 1559.30,1172.9 1559.55,1172.9 1559.80,1172.9 1560.05,1172.9 1560.30,1172.9 1560.55,1172.9 1560.80,1172.9 1561.05,1172.9 1561.30,1172.9 1561.55,1172.9 1561.80,1172.9 1562.05,1172.9 1562.30,1172.9 1562.55,1172.9 1562.80,1172.9 1563.05,1172.9 1563.30,1172.9 1563.55,1172.9 1563.80,1172.9 1564.05,1172.9 1564.30,1172.9 1564.55,1172.9 1564.80,1172.9 1565.05,1172.9 1565.30,1172.9 1565.55,1172.9 1565.80,1172.9 1566.05,1172.9 1566.30,1172.9 1566.55,1172.9 1566.80,1172.9 1567.05,1172.9 1567.30,1172.9 1567.55,1172.9 1567.80,1172.9 1568.05,1172.9 1568.30,1172.9 1568.55,1172.9 1568.80,1172.9 1569.05,1172.9 1569.30,1172.9 1569.55,1172.9 1569.80,1172.9 1570.05,1172.9 1570.30,1172.9 1570.55,1172.9 1570.80,1172.9 1571.05,1172.9 1571.30,1172.9 1571.55,1172.9 1571.80,1172.9 1572.05,1172.9 1572.30,1172.9 1572.55,1172.9 1572.80,1172.9 1573.05,1172.9 1573.30,1172.9 1573.55,1172.9 1573.80,1172.9 1574.05,1172.9 1574.30,1172.9 1574.55,1172.9 1574.80,1172.9 1575.05,1172.9 1575.30,1172.9 1575.55,1172.9 1575.80,1172.9 1576.05,1172.9 1576.30,1172.9 1576.55,1172.9 1576.80,1172.8 1577.05,1172.8 1577.30,1172.8 1577.55,1172.8 1577.80,1172.8 1578.05,1172.8 1578.30,1172.8 1578.55,1172.8 1578.80,1172.8 1579.05,1172.8 1579.30,1172.8 1579.55,1172.8 1579.80,1172.8 1580.05,1172.8 1580.30,1172.8 1580.55,1172.8 1580.80,1172.8 1581.05,1172.8 1581.30,1172.8 1581.55,1172.8 1581.80,1172.8 1582.05,1172.8 1582.30,1172.8 1582.55,1172.8 1582.80,1172.8 1583.05,1172.8 1583.30,1172.8 1583.55,1172.8 1583.80,1172.8 1584.05,1172.8 1584.30,1172.8 1584.55,1172.8 1584.80,1172.8 1585.05,1172.8 1585.30,1172.8 1585.55,1172.8 1585.80,1172.8 1586.05,1172.8 1586.30,1172.8 1586.55,1172.7 1586.80,1172.7 1587.05,1172.7 1587.30,1172.7 1587.55,1172.7 1587.80,1172.7 1588.05,1172.7 1588.30,1172.7 1588.55,1172.7 1588.80,1172.7 1589.05,1172.7 1589.30,1172.7 1589.55,1172.7 1589.80,1172.7 1590.05,1172.7 1590.30,1172.7 1590.55,1172.7 1590.80,1172.7 1591.05,1172.7 1591.30,1172.7 1591.55,1172.7 1591.80,1172.7 1592.05,1172.6 1592.30,1172.6 1592.55,1172.6 1592.80,1172.6 1593.05,1172.6 1593.30,1172.6 1593.55,1172.6 1593.80,1172.6 1594.05,1172.6 1594.30,1172.6 1594.55,1172.6 1594.80,1172.6 1595.05,1172.6 1595.30,1172.6 1595.55,1172.6 1595.80,1172.5 1596.05,1172.5 1596.30,1172.5 1596.55,1172.5 1596.80,1172.5 1597.05,1172.5 1597.30,1172.5 1597.55,1172.5 1597.80,1172.5 1598.05,1172.5 1598.30,1172.5 1598.55,1172.4 1598.80,1172.4 1599.05,1172.4 1599.30,1172.4 1599.55,1172.4 1599.80,1172.4 1600.05,1172.4 1600.30,1172.4 1600.55,1172.3 1600.80,1172.3 1601.05,1172.3 1601.30,1172.3 1601.55,1172.3 1601.80,1172.3 1602.05,1172.3 1602.30,1172.2 1602.55,1172.2 1602.80,1172.2 1603.05,1172.2 1603.30,1172.2 1603.55,1172.2 1603.80,1172.1 1604.05,1172.1 1604.30,1172.1 1604.55,1172.1 1604.80,1172.0 1605.05,1172.0 1605.30,1172.0 1605.55,1172.0 1605.80,1171.9 1606.05,1171.9 1606.30,1171.9 1606.55,1171.9 1606.80,1171.8 1607.05,1171.8 1607.30,1171.8 1607.55,1171.7 1607.80,1171.7 1608.05,1171.7 1608.30,1171.6 1608.55,1171.6 1608.80,1171.5 1609.05,1171.5 1609.30,1171.4 1609.55,1171.4 1609.80,1171.3 1610.05,1171.3 1610.30,1171.2 1610.55,1171.2 1610.80,1171.1 1611.05,1171.1 1611.30,1171.0 1611.55,1170.9 1611.80,1170.8 1612.05,1170.8 1612.30,1170.7 1612.55,1170.6 1612.80,1170.5 1613.05,1170.4 1613.30,1170.3 1613.55,1170.2 1613.80,1170.1 1614.05,1170.0 1614.30,1169.8 1614.55,1169.7 1614.80,1169.5 1615.05,1169.4 1615.30,1169.2 1615.55,1169.0 1615.80,1168.8 1616.05,1168.6 1616.30,1168.4 1616.55,1168.2 1616.80,1167.9 1617.05,1167.7 1617.30,1167.4 1617.55,1167.0 1617.80,1166.7 1618.05,1166.3 1618.30,1165.9 1618.55,1165.4 1618.80,1164.9 1619.05,1164.4 1619.30,1163.8 1619.55,1163.1 1619.80,1162.4 1620.05,1161.6 1620.30,1160.7 1620.55,1159.7 1620.80,1158.5 1621.05,1157.3 1621.30,1155.9 1621.55,1154.3 1621.80,1152.5 1622.05,1150.4 1622.30,1148.1 1622.55,1145.4 1622.80,1142.4 1623.05,1139.0 1623.30,1135.1 1623.55,1130.8 1623.80,1126.0 1624.05,1120.7 1624.30,1115.0 1624.55,1109.1 1624.80,1103.3 1625.05,1097.9 1625.30,1093.5 1625.55,1090.5 1625.80,1089.3 1625.83,1089.3 1626.05,1090.0 1626.30,1092.6 1626.55,1096.8 1626.80,1101.9 1627.05,1107.7 1627.30,1113.6 1627.55,1119.3 1627.80,1124.7 1628.05,1129.7 1628.30,1134.1 1628.55,1138.1 1628.80,1141.6 1629.05,1144.7 1629.30,1147.5 1629.55,1149.9 1629.80,1152.0 1630.05,1153.8 1630.30,1155.5 1630.55,1157.0 1630.80,1158.3 1631.05,1159.4 1631.30,1160.4 1631.55,1161.4 1631.80,1162.2 1632.05,1163.0 1632.30,1163.6 1632.55,1164.2 1632.80,1164.8 1633.05,1165.3 1633.30,1165.8 1633.55,1166.2 1633.80,1166.6 1634.05,1166.9 1634.30,1167.3 1634.55,1167.6 1634.80,1167.9 1635.05,1168.1 1635.30,1168.4 1635.55,1168.6 1635.80,1168.8 1636.05,1169.0 1636.30,1169.2 1636.55,1169.3 1636.80,1169.5 1637.05,1169.6 1637.30,1169.8 1637.55,1169.9 1637.80,1170.0 1638.05,1170.2 1638.30,1170.3 1638.55,1170.4 1638.80,1170.5 1639.05,1170.6 1639.30,1170.7 1639.55,1170.7 1639.80,1170.8 1640.05,1170.9 1640.30,1171.0 1640.55,1171.0 1640.80,1171.1 1641.05,1171.2 1641.30,1171.2 1641.55,1171.3 1641.80,1171.3 1642.05,1171.4 1642.30,1171.4 1642.55,1171.5 1642.80,1171.5 1643.05,1171.6 1643.30,1171.6 1643.55,1171.6 1643.80,1171.7 1644.05,1171.7 1644.30,1171.7 1644.55,1171.8 1644.80,1171.8 1645.05,1171.8 1645.30,1171.9 1645.55,1171.9 1645.80,1171.9 1646.05,1172.0 1646.30,1172.0 1646.55,1172.0 1646.80,1172.0 1647.05,1172.0 1647.30,1172.1 1647.55,1172.1 1647.80,1172.1 1648.05,1172.1 1648.30,1172.2 1648.55,1172.2 1648.80,1172.2 1649.05,1172.2 1649.30,1172.2 1649.55,1172.2 1649.80,1172.3 1650.05,1172.3 1650.30,1172.3 1650.55,1172.3 1650.80,1172.3 1651.05,1172.3 1651.30,1172.3 1651.55,1172.4 1651.80,1172.4 1652.05,1172.4 1652.30,1172.4 1652.55,1172.4 1652.80,1172.4 1653.05,1172.4 1653.30,1172.4 1653.55,1172.4 1653.80,1172.5 1654.05,1172.5 1654.30,1172.5 1654.55,1172.5 1654.80,1172.5 1655.05,1172.5 1655.30,1172.5 1655.55,1172.5 1655.80,1172.5 1656.05,1172.5 1656.30,1172.5 1656.55,1172.6 1656.80,1172.6 1657.05,1172.6 1657.30,1172.6 1657.55,1172.6 1657.80,1172.6 1658.05,1172.6 1658.30,1172.6 1658.55,1172.6 1658.80,1172.6 1659.05,1172.6 1659.30,1172.6 1659.55,1172.6 1659.80,1172.6 1660.05,1172.6 1660.30,1172.6 1660.55,1172.7 1660.80,1172.7 1661.05,1172.7 1661.30,1172.7 1661.55,1172.7 1661.80,1172.7 1662.05,1172.7 1662.30,1172.7 1662.55,1172.7 1662.80,1172.7 1663.05,1172.7 1663.30,1172.7 1663.55,1172.7 1663.80,1172.7 1664.05,1172.7 1664.30,1172.7 1664.55,1172.7 1664.80,1172.7 1665.05,1172.7 1665.30,1172.7 1665.55,1172.7 1665.80,1172.7 1666.05,1172.7 1666.30,1172.7 1666.55,1172.7 1666.80,1172.8 1667.05,1172.8 1667.30,1172.8 1667.55,1172.8 1667.80,1172.8 1668.05,1172.8 1668.30,1172.8 1668.55,1172.8 1668.80,1172.8 1669.05,1172.8 1669.30,1172.8 1669.55,1172.8 1669.80,1172.8 1670.05,1172.8 1670.30,1172.8 1670.55,1172.8 1670.80,1172.8 1671.05,1172.8 1671.30,1172.8 1671.55,1172.8 1671.80,1172.8 1672.05,1172.8 1672.30,1172.8 1672.55,1172.8 1672.80,1172.8 1673.05,1172.8 1673.30,1172.8 1673.55,1172.8 1673.80,1172.8 1674.05,1172.8 1674.30,1172.8 1674.55,1172.8 1674.80,1172.8 1675.05,1172.8 1675.30,1172.8 1675.55,1172.8 1675.80,1172.8 1676.05,1172.8 1676.30,1172.8 1676.55,1172.8 1676.80,1172.8 1677.05,1172.8 1677.30,1172.8 1677.55,1172.8 1677.80,1172.8 1678.05,1172.8 1678.30,1172.9 1678.55,1172.9 1678.80,1172.9 1679.05,1172.9 1679.30,1172.9 1679.55,1172.9 1679.80,1172.9 1680.05,1172.9 1680.30,1172.9 1680.55,1172.9 1680.80,1172.9 1681.05,1172.9 1681.30,1172.9 1681.55,1172.9 1681.80,1172.9 1682.05,1172.9 1682.30,1172.9 1682.55,1172.9 1682.80,1172.9 1683.05,1172.9 1683.30,1172.9 1683.55,1172.9 1683.80,1172.9 1684.05,1172.9 1684.30,1172.9 1684.55,1172.9 1684.80,1172.9 1685.05,1172.9 1685.30,1172.9 1685.55,1172.9 1685.80,1172.9 1686.05,1172.9 1686.30,1172.9 1686.55,1172.9 1686.80,1172.9 1687.05,1172.9 1687.30,1172.9 1687.55,1172.9 1687.80,1172.9 1688.05,1172.9 1688.30,1172.9 1688.55,1172.9 1688.80,1172.9 1689.05,1172.9 1689.30,1172.9 1689.55,1172.9 1689.80,1172.9 1690.05,1172.9 1690.30,1172.9 1690.55,1172.9 1690.80,1172.9 1691.05,1172.9 1691.30,1172.9 1691.55,1172.9 1691.80,1172.9 1692.05,1172.9 1692.30,1172.9 1692.55,1172.9 1692.80,1172.9 1693.05,1172.9 1693.30,1172.9 1693.55,1172.9 1693.80,1172.9 1694.05,1172.9 1694.30,1172.9 1694.55,1172.9 1694.80,1172.9 1695.05,1172.9 1695.30,1172.9 1695.55,1172.9 1695.80,1172.9 1696.05,1172.9 1696.30,1172.9 1696.55,1172.9 1696.80,1172.9 1697.05,1172.9 1697.30,1172.9 1697.55,1172.9 1697.80,1172.9 1698.05,1172.9 1698.30,1172.9 1698.55,1172.9 1698.80,1172.9 1699.05,1172.9 1699.30,1172.9 1699.55,1172.9 1699.80,1172.9 1700.05,1172.9 1700.30,1172.9 1700.55,1172.9 1700.80,1172.9 1701.05,1172.9 1701.30,1172.9 1701.55,1172.9 1701.80,1172.9 1702.05,1172.9 1702.30,1172.9 1702.55,1172.9 1702.80,1172.9 1703.05,1172.9 1703.30,1172.9 1703.55,1172.9 1703.80,1172.9 1704.05,1172.9 1704.30,1172.9 1704.55,1172.9 1704.80,1172.9 1705.05,1172.9 1705.30,1172.9 1705.55,1172.9 1705.80,1172.9 1706.05,1172.9 1706.30,1172.9 1706.55,1172.9 1706.80,1172.9 1707.05,1172.9 1707.30,1172.9 1707.55,1172.9 1707.80,1172.9 1708.05,1172.9 1708.30,1172.9 1708.55,1172.9 1708.80,1172.9 1709.05,1172.9 1709.30,1172.9 1709.55,1172.9 1709.80,1172.9 1710.05,1172.9 1710.30,1172.9 1710.55,1172.9 1710.80,1172.9 1711.05,1172.9 1711.30,1172.9 1711.55,1172.9 1711.80,1172.9 1712.05,1172.9 1712.30,1172.9 1712.55,1172.9 1712.80,1172.9 1713.05,1172.9 1713.30,1172.9 1713.55,1172.9 1713.80,1172.9 1714.05,1172.9 1714.30,1172.9 1714.55,1172.9 1714.80,1172.9 1715.05,1172.9 1715.30,1172.9 1715.55,1172.9 1715.80,1172.9 1716.05,1172.9 1716.30,1172.9 1716.55,1172.9 1716.80,1172.9 1717.05,1172.9 1717.30,1172.9 1717.55,1172.9 1717.80,1172.9 1718.05,1172.9 1718.30,1172.9 1718.55,1172.9 1718.80,1172.9 1719.05,1172.9 1719.30,1172.9 1719.55,1172.9 1719.80,1172.9 1720.05,1172.9 1720.30,1172.9 1720.55,1172.9 1720.80,1172.9 1721.05,1172.9 1721.30,1172.9 1721.55,1172.9 1721.80,1172.9 1722.05,1172.9 1722.30,1172.9 1722.55,1172.9 1722.80,1172.9 1723.05,1172.9 1723.30,1172.9 1723.55,1172.9 1723.80,1172.9 1724.05,1172.9 1724.30,1172.9 1724.55,1172.9 1724.80,1172.9 1725.05,1172.9 1725.30,1172.9 1725.55,1172.9 1725.80,1172.9"/>
<rect x="508.32" y="178.5" width="6.3" height="443.5" fill="#000"/><rect x="507.77" y="622.0" width="8.2" height="130.0" fill="#000"/><rect x="506.77" y="752.0" width="9.4" height="203.0" fill="#000"/>
<polyline fill="none" stroke="#0000ff" stroke-opacity="0.75" stroke-width="1.8" stroke-linejoin="round" points="209.8,1237.7 210.8,1238.3 211.8,1239.7 212.8,1238.5 213.8,1238.1 214.8,1238.8 215.8,1238.6 216.8,1238.6 217.8,1238.5 218.8,1238.5 219.8,1238.6 220.8,1239.1 221.8,1238.4 222.8,1238.8 223.8,1238.8 224.8,1239.6 225.8,1239.1 226.8,1238.9 227.8,1239.3 228.8,1239.1 229.8,1239.4 230.8,1239.2 231.8,1239.8 232.8,1239.4 233.8,1238.6 234.8,1238.3 235.8,1239.0 236.8,1238.7 237.8,1238.3 238.8,1237.6 239.8,1237.5 240.8,1238.6 241.8,1238.8 242.8,1238.6 243.8,1237.7 244.8,1238.9 245.8,1238.0 246.8,1238.6 247.8,1238.7 248.8,1238.1 249.8,1238.3 250.8,1237.5 251.8,1238.3 252.8,1237.9 253.8,1239.0 254.8,1239.0 255.8,1239.6 256.8,1239.4 257.8,1238.9 258.8,1239.3 259.8,1239.0 260.8,1239.5 261.8,1239.5 262.8,1238.9 263.8,1239.4 264.8,1239.2 265.8,1238.5 266.8,1238.0 267.8,1236.1 268.8,1231.7 269.8,1228.2 270.8,1225.2 271.8,1227.1 272.8,1229.9 273.8,1232.5 274.8,1236.8 275.8,1238.7 276.8,1238.4 277.8,1238.7 278.8,1238.6 279.8,1239.5 280.8,1238.1 281.8,1238.7 282.8,1239.8 283.8,1238.7 284.8,1238.9 285.8,1238.7 286.8,1238.1 287.8,1238.7 288.8,1238.9 289.8,1238.0 290.8,1238.7 291.8,1239.3 292.8,1239.4 293.8,1237.9 294.8,1238.2 295.8,1237.9 296.8,1239.4 297.8,1239.3 298.8,1239.4 299.8,1238.6 300.8,1238.4 301.8,1239.1 302.8,1239.2 303.8,1238.7 304.8,1239.1 305.8,1239.4 306.8,1239.2 307.8,1238.3 308.8,1237.6 309.8,1238.6 310.8,1238.8 311.8,1238.6 312.8,1238.3 313.8,1238.0 314.8,1238.7 315.8,1238.2 316.8,1238.4 317.8,1237.9 318.8,1238.1 319.8,1238.6 320.8,1237.9 321.8,1237.7 322.8,1238.3 323.8,1239.1 324.8,1238.7 325.8,1239.6 326.8,1238.7 327.8,1238.8 328.8,1238.2 329.8,1238.6 330.8,1239.9 331.8,1239.1 332.8,1239.3 333.8,1239.4 334.8,1239.0 335.8,1238.9 336.8,1239.1 337.8,1239.4 338.8,1239.2 339.8,1239.1 340.8,1238.8 341.8,1238.2 342.8,1238.4 343.8,1237.9 344.8,1238.9 345.8,1237.1 346.8,1238.3 347.8,1239.5 348.8,1238.1 349.8,1237.5 350.8,1238.4 351.8,1239.1 352.8,1238.5 353.8,1238.8 354.8,1238.6 355.8,1238.4 356.8,1240.3 357.8,1238.8 358.8,1238.5 359.8,1238.5 360.8,1238.9 361.8,1238.8 362.8,1239.0 363.8,1238.6 364.8,1237.6 365.8,1238.5 366.8,1238.0 367.8,1237.6 368.8,1236.6 369.8,1236.5 370.8,1235.9 371.8,1235.9 372.8,1235.3 373.8,1236.8 374.8,1237.5 375.8,1237.4 376.8,1238.2 377.8,1238.3 378.8,1239.4 379.8,1237.6 380.8,1238.9 381.8,1238.1 382.8,1238.9 383.8,1239.6 384.8,1238.8 385.8,1239.2 386.8,1238.6 387.8,1240.0 388.8,1239.2 389.8,1239.5 390.8,1238.2 391.8,1238.3 392.8,1239.4 393.8,1238.8 394.8,1238.9 395.8,1239.2 396.8,1238.5 397.8,1239.5 398.8,1239.1 399.8,1239.3 400.8,1238.6 401.8,1239.3 402.8,1238.7 403.8,1239.9 404.8,1239.7 405.8,1239.6 406.8,1239.4 407.8,1239.4 408.8,1237.4 409.8,1239.3 410.8,1238.7 411.8,1238.8 412.8,1238.5 413.8,1237.9 414.8,1238.3 415.8,1239.0 416.8,1239.6 417.8,1238.5 418.8,1238.3 419.8,1239.8 420.8,1238.4 421.8,1239.9 422.8,1238.8 423.8,1238.3 424.8,1239.3 425.8,1239.7 426.8,1238.0 427.8,1239.6 428.8,1238.0 429.8,1238.5 430.8,1236.7 431.8,1235.7 432.8,1237.0 433.8,1237.8 434.8,1239.0 435.8,1239.4 436.8,1239.1 437.8,1238.8 438.8,1238.7 439.8,1239.0 440.8,1238.6 441.8,1238.9 442.8,1237.7 443.8,1239.3 444.8,1239.2 445.8,1240.4 446.8,1238.8 447.8,1237.4 448.8,1237.2 449.8,1236.0 450.8,1236.4 451.8,1236.3 452.8,1238.9 453.8,1238.7 454.8,1238.0 455.8,1238.6 456.8,1239.1 457.8,1238.7 458.8,1238.6 459.8,1238.0 460.8,1237.9 461.8,1238.4 462.8,1238.9 463.8,1237.9 464.8,1237.7 465.8,1239.0 466.8,1237.7 467.8,1238.7 468.8,1238.8 469.8,1239.1 470.8,1239.5 471.8,1238.9 472.8,1239.0 473.8,1238.0 474.8,1238.0 475.8,1238.8 476.8,1239.3 477.8,1239.2 478.8,1239.7 479.8,1238.5 480.8,1238.4 481.0,1239.2 488.0,1237.2 494.0,1236.0 499.0,1234.1 501.0,1233.1 502.5,1242.3 504.0,1246.8 505.5,1240.8 507.0,1224.5 508.0,1245.0 509.0,1220.9 510.0,1230.6 510.8,1216.6 511.5,1256.3 512.3,1232.7 513.0,1253.4 514.0,1242.5 515.0,1238.9 517.0,1244.6 519.0,1247.0 521.0,1243.9 524.0,1238.7 527.0,1235.2 530.0,1234.6 534.0,1236.6 540.0,1237.7 548.0,1238.9 548.8,1237.9 549.8,1237.8 550.8,1238.6 551.8,1238.0 552.8,1237.4 553.8,1238.5 554.8,1237.8 555.8,1238.3 556.8,1238.3 557.8,1238.9 558.8,1238.7 559.8,1237.7 560.8,1237.9 561.8,1237.4 562.8,1239.1 563.8,1238.4 564.8,1239.2 565.8,1238.3 566.8,1237.4 567.8,1239.3 568.8,1238.7 569.8,1238.8 570.8,1238.9 571.8,1239.1 572.8,1239.0 573.8,1238.1 574.8,1239.6 575.8,1238.7 576.8,1238.6 577.8,1239.9 578.8,1239.4 579.8,1238.5 580.8,1237.6 581.8,1238.8 582.8,1239.0 583.8,1238.7 584.8,1238.0 585.8,1238.2 586.8,1238.0 587.8,1238.9 588.8,1239.1 589.8,1239.0 590.8,1237.9 591.8,1238.6 592.8,1238.7 593.8,1238.3 594.8,1238.7 595.8,1240.0 596.8,1238.8 597.8,1239.0 598.8,1238.3 599.8,1238.7 600.8,1237.7 601.8,1238.8 602.8,1239.3 603.8,1240.1 604.8,1239.8 605.8,1239.4 606.8,1239.0 607.8,1238.5 608.8,1238.6 609.8,1238.8 610.8,1238.2 611.8,1239.3 612.8,1238.4 613.8,1237.9 614.8,1238.2 615.8,1237.9 616.8,1238.0 617.8,1239.4 618.8,1238.6 619.8,1238.8 620.8,1239.3 621.8,1239.4 622.8,1238.6 623.8,1239.7 624.8,1239.1 625.8,1239.0 626.8,1239.2 627.8,1238.3 628.8,1238.6 629.8,1239.0 630.8,1239.4 631.8,1238.7 632.8,1238.9 633.8,1239.3 634.8,1239.6 635.8,1239.5 636.8,1239.7 637.8,1238.8 638.8,1238.9 639.8,1239.2 640.8,1238.8 641.8,1238.5 642.8,1239.6 643.8,1238.7 644.8,1238.2 645.8,1239.1 646.8,1239.9 647.8,1239.0 648.8,1239.8 649.8,1238.5 650.8,1238.5 651.8,1238.2 652.8,1238.6 653.8,1239.6 654.8,1237.8 655.8,1239.3 656.8,1238.0 657.8,1238.3 658.8,1238.8 659.8,1238.9 660.8,1238.4 661.8,1237.4 662.8,1238.4 663.8,1237.6 664.8,1239.8 665.8,1238.2 666.8,1238.6 667.8,1237.8 668.8,1238.2 669.8,1237.8 670.8,1239.0 671.8,1238.2 672.8,1238.7 673.8,1237.9 674.8,1238.0 675.8,1239.2 676.8,1238.0 677.8,1237.4 678.8,1238.7 679.8,1237.7 680.8,1238.2 681.8,1238.9 682.8,1238.0 683.8,1239.0 684.8,1238.3 685.8,1239.4 686.8,1239.3 687.8,1238.3 688.8,1238.5 689.8,1238.1 690.0,1238.6 694.0,1239.2 697.0,1241.9 699.0,1243.9 700.0,1241.6 701.0,1248.7 702.0,1242.9 703.0,1238.6 706.0,1237.9 710.0,1238.8 710.8,1239.6 711.8,1239.4 712.8,1239.2 713.8,1238.7 714.8,1239.2 715.8,1239.0 716.8,1239.9 717.8,1239.2 718.8,1238.6 719.8,1237.5 720.8,1239.1 721.8,1239.0 722.8,1238.2 723.8,1237.7 724.8,1238.5 725.8,1239.5 726.8,1238.2 727.8,1238.7 728.8,1239.1 729.8,1239.6 730.8,1239.2 731.8,1239.0 732.8,1238.8 733.8,1240.0 734.8,1239.6 735.8,1239.1 736.8,1238.3 737.8,1238.6 738.8,1239.3 739.8,1238.4 740.8,1239.5 741.8,1239.3 742.8,1239.1 743.8,1239.5 744.8,1239.5 745.8,1238.4 746.8,1238.7 747.8,1240.4 748.8,1238.6 749.8,1239.0 750.8,1240.0 751.8,1239.2 752.8,1238.7 753.8,1238.5 754.8,1239.6 755.8,1239.9 756.8,1240.1 757.8,1239.4 758.8,1239.8 759.8,1238.7 760.8,1239.5 761.8,1239.0 762.8,1239.4 763.8,1239.4 764.8,1239.5 765.8,1238.4 766.8,1239.9 767.8,1239.1 768.8,1238.7 769.8,1239.1 770.8,1238.3 771.8,1239.2 772.8,1239.2 773.8,1239.1 774.8,1239.5 775.8,1239.0 776.8,1239.1 777.8,1238.2 778.8,1239.1 779.8,1238.8 780.8,1238.9 781.8,1238.9 782.8,1239.1 783.8,1238.2 784.8,1238.3 785.8,1239.1 786.8,1239.4 787.8,1239.5 788.8,1239.9 789.8,1239.9 790.8,1239.5 791.8,1239.3 792.8,1238.7 793.8,1238.8 794.8,1238.9 795.8,1239.2 796.8,1239.2 797.8,1239.0 798.8,1238.7 799.8,1239.3 800.8,1238.8 801.8,1238.9 802.8,1238.8 803.8,1238.3 804.8,1238.3 805.8,1239.1 806.8,1239.0 807.8,1238.7 808.8,1238.6 809.8,1240.2 810.8,1238.6 811.8,1239.0 812.8,1239.1 813.8,1238.6 814.8,1239.3 815.8,1240.3 816.8,1239.9 817.8,1239.7 818.8,1239.6 819.8,1239.3 820.8,1239.7 821.8,1239.0 822.8,1238.8 823.8,1239.1 824.8,1239.5 825.8,1239.1 826.8,1239.3 827.8,1237.9 828.8,1239.4 829.8,1240.0 830.8,1239.3 831.8,1238.2 832.8,1238.0 833.8,1238.7 834.8,1238.0 835.8,1239.0 836.8,1238.4 837.8,1239.3 838.8,1239.4 839.8,1237.5 840.8,1238.8 841.8,1238.3 842.8,1238.0 843.8,1238.5 844.8,1238.8 845.8,1239.7 846.8,1238.5 847.8,1239.9 848.8,1240.6 849.8,1239.8 850.0,1238.5 856.0,1241.2 860.0,1243.1 862.0,1245.0 863.0,1241.4 864.0,1235.1 865.0,1230.4 866.0,1228.1 867.0,1233.3 868.5,1237.8 871.0,1240.1 875.0,1239.6 875.8,1239.1 876.8,1240.1 877.8,1239.8 878.8,1238.8 879.8,1239.3 880.8,1238.7 881.8,1239.3 882.8,1238.3 883.8,1239.4 884.8,1239.2 885.8,1239.6 886.8,1239.0 887.8,1238.4 888.8,1240.3 889.8,1239.3 890.8,1240.1 891.8,1239.5 892.8,1239.7 893.8,1240.4 894.8,1239.6 895.8,1240.3 896.8,1238.9 897.8,1240.1 898.8,1239.4 899.8,1239.4 900.8,1239.5 901.8,1239.7 902.8,1240.2 903.8,1238.3 904.8,1239.2 905.8,1238.8 906.8,1240.0 907.8,1238.9 908.8,1239.4 909.8,1238.8 910.8,1239.2 911.8,1239.4 912.8,1238.5 913.8,1238.5 914.8,1237.8 915.8,1238.7 916.8,1239.1 917.8,1238.3 918.8,1239.5 919.8,1237.8 920.8,1237.8 921.8,1238.1 922.8,1238.8 923.8,1239.0 924.8,1239.3 925.8,1239.4 926.8,1239.9 927.8,1239.4 928.8,1239.1 929.8,1239.2 930.8,1241.0 931.8,1238.5 932.8,1239.7 933.8,1240.5 934.8,1239.9 935.8,1239.3 936.8,1239.7 937.8,1240.1 938.8,1240.2 939.8,1239.0 940.8,1240.0 941.8,1239.7 942.8,1240.3 943.8,1240.6 944.8,1239.6 945.8,1239.1 946.8,1240.2 947.8,1241.2 948.8,1240.6 949.8,1240.5 950.8,1241.8 951.8,1239.9 952.8,1240.9 953.8,1240.3 954.8,1240.7 955.8,1240.6 956.8,1241.4 957.8,1240.0 958.8,1240.2 959.8,1239.6 960.8,1240.6 961.8,1240.2 962.8,1240.5 963.8,1239.5 964.8,1239.8 965.8,1240.4 966.8,1239.6 967.8,1240.2 968.8,1240.3 969.8,1239.8 970.8,1239.2 971.8,1240.7 972.8,1240.3 973.8,1240.6 974.8,1239.1 975.8,1239.3 976.8,1239.0 977.8,1239.7 978.8,1240.7 979.8,1240.5 980.8,1240.1 981.8,1240.2 982.8,1240.5 983.8,1239.8 984.8,1240.1 985.8,1239.9 986.8,1238.5 987.8,1239.4 988.8,1240.2 989.8,1239.0 990.8,1239.0 991.8,1238.9 992.8,1238.8 993.8,1239.8 994.8,1239.2 995.8,1238.8 996.8,1237.8 997.8,1239.3 998.8,1238.6 999.8,1238.9 1000.8,1240.3 1001.8,1240.3 1002.8,1238.9 1003.8,1240.5 1004.0,1239.6 1007.0,1238.5 1008.5,1236.7 1010.0,1241.4 1012.0,1238.8 1015.0,1239.9 1015.8,1239.4 1016.8,1239.2 1017.8,1240.0 1018.8,1239.2 1019.8,1239.2 1020.8,1239.7 1021.8,1239.8 1022.8,1239.2 1023.8,1239.9 1024.8,1240.6 1025.8,1239.3 1026.8,1239.8 1027.8,1240.6 1028.8,1239.7 1029.8,1239.6 1030.8,1239.5 1031.8,1240.2 1032.8,1240.1 1033.8,1239.7 1034.8,1239.9 1035.8,1240.4 1036.8,1240.2 1037.8,1239.1 1038.8,1239.8 1039.8,1239.9 1040.8,1240.3 1041.8,1239.7 1042.8,1239.5 1043.8,1239.4 1044.8,1238.7 1045.8,1239.6 1046.8,1239.4 1047.8,1240.0 1048.8,1239.0 1049.8,1239.2 1050.8,1238.9 1051.8,1238.8 1052.8,1239.6 1053.8,1239.1 1054.8,1239.8 1055.8,1238.9 1056.8,1239.7 1057.8,1238.7 1058.8,1239.5 1059.8,1239.5 1060.8,1240.4 1061.8,1240.1 1062.8,1240.0 1063.8,1240.6 1064.8,1240.3 1065.8,1240.6 1066.8,1240.7 1067.8,1240.3 1068.8,1240.1 1069.8,1240.4 1070.8,1239.8 1071.8,1240.1 1072.8,1240.4 1073.8,1240.2 1074.8,1239.5 1075.8,1238.8 1076.8,1239.4 1077.8,1239.2 1078.8,1239.8 1079.8,1239.0 1080.8,1239.0 1081.8,1239.7 1082.8,1239.0 1083.8,1239.4 1084.8,1240.5 1085.8,1240.4 1086.8,1239.8 1087.8,1239.6 1088.8,1239.0 1089.8,1239.8 1090.8,1239.6 1091.8,1239.9 1092.8,1239.6 1093.8,1239.9 1094.8,1239.9 1095.8,1240.1 1096.8,1240.8 1097.8,1240.3 1098.8,1239.1 1099.8,1239.2 1100.8,1239.0 1101.8,1239.6 1102.8,1240.5 1103.8,1240.4 1104.8,1239.8 1105.8,1240.4 1106.8,1239.7 1107.8,1239.1 1108.8,1239.1 1109.8,1239.5 1110.8,1240.9 1111.8,1239.3 1112.8,1240.6 1113.8,1240.8 1114.8,1240.1 1115.8,1240.1 1116.8,1239.6 1117.8,1239.9 1118.8,1240.3 1119.8,1240.2 1120.8,1240.7 1121.8,1240.8 1122.8,1240.5 1123.8,1240.4 1124.8,1240.2 1125.8,1240.4 1126.8,1239.5 1127.8,1240.4 1128.8,1240.1 1129.8,1239.7 1130.0,1239.7 1135.0,1241.4 1140.0,1242.9 1142.0,1244.9 1143.3,1233.3 1144.5,1237.9 1145.7,1248.6 1147.0,1236.4 1149.0,1226.9 1151.0,1232.4 1153.0,1238.2 1157.0,1239.3 1162.0,1240.2 1162.8,1239.5 1163.8,1240.3 1164.8,1240.6 1165.8,1240.3 1166.8,1239.2 1167.8,1240.2 1168.8,1240.5 1169.8,1240.4 1170.8,1240.8 1171.8,1239.5 1172.8,1240.4 1173.8,1239.7 1174.8,1240.1 1175.8,1240.3 1176.8,1240.6 1177.8,1239.9 1178.8,1240.0 1179.8,1239.3 1180.8,1239.1 1181.8,1239.9 1182.8,1239.5 1183.8,1238.6 1184.8,1239.0 1185.8,1239.5 1186.8,1240.3 1187.8,1240.0 1188.8,1239.8 1189.8,1238.5 1190.8,1239.4 1191.8,1239.7 1192.8,1239.8 1193.8,1239.9 1194.8,1239.3 1195.8,1240.4 1196.8,1240.4 1197.8,1239.6 1198.8,1239.0 1199.8,1240.8 1200.8,1239.5 1201.8,1240.4 1202.8,1240.8 1203.8,1239.2 1204.8,1239.9 1205.8,1239.5 1206.8,1239.9 1207.8,1239.6 1208.8,1240.4 1209.8,1239.9 1210.8,1239.5 1211.8,1240.3 1212.8,1239.4 1213.8,1239.6 1214.8,1241.0 1215.8,1239.2 1216.8,1239.5 1217.8,1239.9 1218.8,1239.3 1219.8,1238.7 1220.8,1240.4 1221.8,1239.5 1222.8,1239.7 1223.8,1239.9 1224.8,1239.5 1225.8,1239.6 1226.8,1240.1 1227.8,1241.4 1228.8,1240.4 1229.8,1240.4 1230.8,1239.2 1231.8,1240.1 1232.8,1239.3 1233.8,1240.4 1234.8,1240.0 1235.8,1240.2 1236.8,1240.0 1237.8,1239.9 1238.8,1239.4 1239.8,1240.6 1240.8,1239.5 1241.8,1239.9 1242.8,1240.3 1243.8,1240.1 1244.8,1240.6 1245.8,1241.1 1246.8,1240.5 1247.8,1240.7 1248.8,1240.4 1249.8,1240.7 1250.8,1239.2 1251.8,1240.3 1252.8,1239.6 1253.8,1239.4 1254.8,1240.0 1255.8,1239.8 1256.8,1240.2 1257.8,1240.5 1258.8,1238.5 1259.8,1239.7 1260.8,1240.8 1261.8,1240.4 1262.8,1240.8 1263.8,1240.2 1264.8,1239.4 1265.8,1239.4 1266.8,1240.6 1267.8,1240.7 1268.8,1239.7 1269.8,1240.0 1270.8,1240.4 1271.8,1239.3 1272.8,1240.2 1273.8,1241.3 1274.8,1241.5 1275.8,1240.1 1276.8,1241.0 1277.8,1239.7 1278.8,1239.4 1279.8,1238.6 1280.8,1240.4 1281.8,1239.6 1282.8,1241.1 1283.8,1240.1 1284.8,1240.0 1285.8,1238.8 1286.8,1240.6 1287.8,1239.5 1288.8,1239.6 1289.8,1238.8 1290.8,1240.3 1291.8,1240.4 1292.8,1239.5 1293.8,1240.0 1294.8,1240.1 1295.8,1240.6 1296.8,1240.2 1297.8,1241.0 1298.8,1239.7 1299.8,1239.4 1300.8,1239.4 1301.8,1238.3 1302.8,1239.1 1303.8,1240.3 1304.8,1239.7 1305.8,1239.3 1306.8,1239.9 1307.8,1238.5 1308.8,1239.4 1309.8,1240.0 1310.8,1240.1 1311.8,1239.3 1312.8,1240.2 1313.8,1240.9 1314.8,1239.8 1315.8,1240.4 1316.8,1239.2 1317.8,1239.2 1318.8,1240.3 1319.8,1239.8 1320.8,1239.9 1321.8,1239.6 1322.8,1239.8 1323.8,1240.4 1324.8,1240.8 1325.8,1239.8 1326.8,1238.9 1327.8,1240.6 1328.8,1240.3 1329.8,1240.1 1330.8,1240.0 1331.8,1241.1 1332.8,1239.7 1333.8,1240.1 1334.8,1239.0 1335.8,1239.6 1336.8,1239.5 1337.8,1239.8 1338.8,1239.9 1339.8,1239.3 1340.8,1240.6 1341.8,1239.1 1342.8,1239.4 1343.8,1239.9 1344.8,1239.1 1345.8,1239.9 1346.8,1239.8 1347.8,1239.3 1348.8,1240.5 1349.8,1239.4 1350.8,1239.8 1351.8,1239.1 1352.8,1238.8 1353.8,1239.5 1354.8,1239.6 1355.8,1239.6 1356.8,1240.3 1357.8,1238.7 1358.8,1239.2 1359.8,1238.6 1360.8,1240.4 1361.8,1239.5 1362.8,1239.4 1363.8,1239.0 1364.8,1240.1 1365.8,1239.3 1366.8,1239.5 1367.8,1238.4 1368.8,1240.3 1369.8,1239.8 1370.8,1240.0 1371.8,1240.4 1372.8,1239.5 1373.8,1239.7 1374.8,1240.3 1375.8,1240.2 1376.8,1239.7 1377.8,1240.1 1378.8,1239.7 1379.8,1240.3 1380.0,1239.7 1386.0,1240.9 1389.0,1237.4 1392.0,1233.5 1394.0,1231.9 1395.5,1233.2 1397.0,1228.7 1399.0,1232.4 1401.0,1236.5 1404.0,1238.3 1409.0,1239.7 1409.8,1239.4 1410.8,1238.2 1411.8,1239.5 1412.8,1238.8 1413.8,1239.3 1414.8,1239.1 1415.8,1238.6 1416.8,1239.0 1417.8,1238.3 1418.8,1239.1 1419.8,1240.0 1420.8,1241.7 1421.8,1239.9 1422.8,1239.7 1423.8,1239.1 1424.8,1240.2 1425.8,1238.9 1426.8,1239.2 1427.8,1239.9 1428.8,1239.2 1429.8,1240.8 1430.8,1240.5 1431.8,1239.5 1432.8,1239.4 1433.8,1238.8 1434.8,1238.7 1435.8,1239.6 1436.8,1239.7 1437.8,1239.6 1438.8,1239.5 1439.8,1239.1 1440.8,1239.4 1441.8,1238.6 1442.8,1239.4 1443.8,1240.2 1444.8,1240.0 1445.8,1239.1 1446.8,1239.1 1447.8,1240.1 1448.8,1240.4 1449.8,1238.7 1450.8,1239.3 1451.8,1239.7 1452.8,1240.1 1453.8,1238.8 1454.8,1239.5 1455.8,1239.0 1456.8,1240.3 1457.8,1239.1 1458.8,1238.8 1459.8,1238.7 1460.8,1239.4 1461.8,1239.5 1462.8,1238.5 1463.8,1239.1 1464.8,1238.2 1465.8,1238.5 1466.8,1238.3 1467.8,1238.3 1468.8,1238.8 1469.8,1238.6 1470.8,1239.5 1471.8,1239.9 1472.8,1239.3 1473.8,1238.7 1474.8,1239.8 1475.8,1238.5 1476.8,1238.4 1477.8,1239.9 1478.8,1240.0 1479.8,1240.1 1480.8,1239.5 1481.8,1238.9 1482.8,1239.4 1483.8,1240.1 1484.8,1239.3 1485.8,1239.4 1486.8,1238.8 1487.8,1239.0 1488.8,1240.0 1489.8,1239.8 1490.8,1238.8 1491.8,1238.9 1492.8,1239.3 1493.8,1239.8 1494.8,1238.9 1495.8,1239.4 1496.8,1238.3 1497.8,1238.8 1498.8,1239.8 1499.8,1240.1 1500.8,1239.1 1501.8,1239.3 1502.8,1240.2 1503.8,1239.5 1504.8,1239.4 1505.8,1240.1 1506.8,1239.7 1507.8,1240.1 1508.8,1239.9 1509.8,1239.1 1510.8,1239.5 1511.8,1239.3 1512.8,1238.6 1513.8,1238.8 1514.8,1239.8 1515.8,1238.2 1516.8,1239.7 1517.8,1239.3 1518.8,1239.1 1519.8,1239.6 1520.8,1239.5 1521.8,1240.0 1522.8,1239.0 1523.8,1239.1 1524.8,1239.2 1525.8,1240.3 1526.8,1239.8 1527.8,1238.7 1528.8,1239.0 1529.8,1238.9 1530.8,1239.5 1531.8,1239.4 1532.8,1240.8 1533.8,1238.5 1534.8,1240.1 1535.8,1239.8 1536.8,1239.1 1537.8,1239.5 1538.8,1239.3 1539.8,1239.5 1540.8,1240.1 1541.8,1238.8 1542.8,1240.4 1543.8,1239.5 1544.8,1240.6 1545.8,1239.8 1546.8,1240.3 1547.8,1239.8 1548.8,1240.2 1549.8,1239.5 1550.8,1238.9 1551.8,1239.9 1552.8,1239.8 1553.8,1240.6 1554.8,1238.2 1555.8,1239.0 1556.8,1239.7 1557.8,1238.4 1558.8,1239.0 1559.8,1240.5 1560.8,1240.2 1561.8,1239.1 1562.8,1240.4 1563.8,1240.1 1564.8,1239.9 1565.8,1239.9 1566.8,1239.7 1567.8,1239.2 1568.8,1239.4 1569.8,1240.1 1570.8,1239.9 1571.8,1240.9 1572.8,1239.8 1573.8,1238.5 1574.8,1239.4 1575.8,1239.7 1576.8,1239.6 1577.8,1239.3 1578.8,1238.9 1579.8,1240.4 1580.8,1239.1 1581.8,1239.8 1582.8,1239.4 1583.8,1238.7 1584.8,1240.1 1585.8,1238.1 1586.8,1239.0 1587.8,1239.5 1588.8,1239.0 1589.8,1239.8 1590.8,1239.3 1591.8,1239.2 1592.8,1240.7 1593.8,1239.2 1594.8,1238.9 1595.8,1238.4 1596.8,1238.7 1597.8,1239.3 1598.8,1239.3 1599.8,1239.1 1600.8,1238.5 1601.8,1239.3 1602.8,1238.0 1603.8,1239.0 1604.8,1238.9 1605.8,1238.6 1606.8,1239.0 1607.8,1238.4 1608.8,1238.5 1609.8,1240.3 1610.8,1239.5 1611.8,1239.8 1612.8,1239.2 1613.8,1239.9 1614.8,1239.7 1615.0,1239.2 1620.0,1240.5 1623.0,1241.3 1625.0,1240.5 1626.6,1249.3 1628.0,1241.8 1629.5,1236.6 1631.0,1234.0 1633.0,1235.5 1636.0,1237.5 1640.0,1238.6 1646.0,1239.5 1646.8,1239.1 1647.8,1238.9 1648.8,1239.8 1649.8,1239.6 1650.8,1239.4 1651.8,1239.4 1652.8,1240.0 1653.8,1240.3 1654.8,1240.4 1655.8,1239.7 1656.8,1240.1 1657.8,1240.4 1658.8,1240.4 1659.8,1238.2 1660.8,1239.4 1661.8,1239.5 1662.8,1239.6 1663.8,1239.9 1664.8,1240.4 1665.8,1240.1 1666.8,1239.7 1667.8,1239.8 1668.8,1240.5 1669.8,1239.2 1670.8,1239.6 1671.8,1240.4 1672.8,1239.7 1673.8,1238.4 1674.8,1239.5 1675.8,1239.1 1676.8,1239.4 1677.8,1240.1 1678.8,1239.6 1679.8,1239.2 1680.8,1239.8 1681.8,1239.5 1682.8,1239.2 1683.8,1239.3 1684.8,1239.3 1685.8,1239.1 1686.8,1238.9 1687.8,1239.1 1688.8,1238.6 1689.8,1238.6 1690.8,1240.0 1691.8,1239.0 1692.8,1239.2 1693.8,1239.2 1694.8,1239.4 1695.8,1239.4 1696.8,1239.5 1697.8,1239.0 1698.8,1240.0 1699.8,1239.2 1700.8,1240.2 1701.8,1238.8 1702.8,1239.2 1703.8,1240.3 1704.8,1239.7 1705.8,1239.4 1706.8,1240.2 1707.8,1239.4 1708.8,1239.9 1709.8,1238.5 1710.8,1239.5 1711.8,1239.2 1712.8,1239.9 1713.8,1240.1 1714.8,1239.1 1715.8,1240.4 1716.8,1239.2 1717.8,1238.5 1718.8,1238.2 1719.8,1240.5 1720.8,1239.6 1721.8,1239.2 1722.8,1238.9 1723.8,1238.9 1724.8,1240.3 1725.8,1239.5"/>
<g fill="#00ae65"><rect x="267.8" y="1191.3" width="6.4" height="19.2"/><rect x="506.8" y="1191.3" width="6.4" height="19.2"/><rect x="697.8" y="1191.3" width="6.4" height="19.2"/><rect x="863.8" y="1191.3" width="6.4" height="19.2"/><rect x="1006.8" y="1191.3" width="6.4" height="19.2"/><rect x="1142.8" y="1191.3" width="6.4" height="19.2"/><rect x="1393.5" y="1191.3" width="6.4" height="19.2"/><rect x="1512.8" y="1191.3" width="6.4" height="19.2"/><rect x="1628.8" y="1191.3" width="6.4" height="19.2"/></g>
</g>
<g stroke="#000" stroke-width="5" fill="none">
<rect x="209.8" y="71" width="1516.1000000000001" height="1218.8"/>
<line x1="209.8" y1="1289.8" x2="209.8" y2="1313"/><line x1="336.1" y1="1289.8" x2="336.1" y2="1302"/><line x1="462.5" y1="1289.8" x2="462.5" y2="1313"/><line x1="588.8" y1="1289.8" x2="588.8" y2="1302"/><line x1="715.2" y1="1289.8" x2="715.2" y2="1313"/><line x1="841.5" y1="1289.8" x2="841.5" y2="1302"/><line x1="967.9" y1="1289.8" x2="967.9" y2="1313"/><line x1="1094.2" y1="1289.8" x2="1094.2" y2="1302"/><line x1="1220.5" y1="1289.8" x2="1220.5" y2="1313"/><line x1="1346.9" y1="1289.8" x2="1346.9" y2="1302"/><line x1="1473.2" y1="1289.8" x2="1473.2" y2="1313"/><line x1="1599.6" y1="1289.8" x2="1599.6" y2="1302"/><line x1="1725.9" y1="1289.8" x2="1725.9" y2="1313"/>
</g>
<g class="sans" font-size="54" text-anchor="middle" fill="#000"><text transform="translate(209.0,1371) scale(0.95,1)" x="0" y="0">20</text><text transform="translate(461.7,1371) scale(0.95,1)" x="0" y="0">30</text><text transform="translate(714.4,1371) scale(0.95,1)" x="0" y="0">40</text><text transform="translate(967.1,1371) scale(0.95,1)" x="0" y="0">50</text><text transform="translate(1219.7,1371) scale(0.95,1)" x="0" y="0">60</text><text transform="translate(1472.4,1371) scale(0.95,1)" x="0" y="0">70</text><text transform="translate(1725.1,1371) scale(0.95,1)" x="0" y="0">80</text></g>
<text class="serif" font-size="82" text-anchor="middle" x="935.2" y="1493.5">2θ (degrees)</text>
<text class="serif" font-size="82.5" text-anchor="middle" transform="translate(133,728) rotate(-90)">Intensity (a.u.)</text>
<!-- legend -->
<circle cx="1249.8" cy="136.4" r="19.2" fill="none" stroke="#ff0000" stroke-width="3.2"/>
<line x1="1176.8" y1="214.8" x2="1324.2" y2="214.8" stroke="#000" stroke-width="7"/>
<line x1="1176.8" y1="294.9" x2="1324.2" y2="294.9" stroke="#0000ff" stroke-width="7"/>
<rect x="1246" y="352.6" width="7.6" height="43.4" fill="#00ae65"/>
<g class="serif" font-size="50" fill="#000">
<text x="1383" y="153.6">Y<tspan font-size="33" dx="-5" dy="11.8">obs</tspan></text>
<text x="1383" y="233.6">Y<tspan font-size="33" dy="11.8">cal</tspan></text>
<text x="1383" y="313.6">Y<tspan font-size="33" dx="-5" dy="11.8">obs</tspan><tspan dy="-11.8">-Y</tspan><tspan font-size="33" dy="11.8">cal</tspan></text>
<text x="1383" y="394">Bragg position</text>
</g>
</svg>
</body></html>
